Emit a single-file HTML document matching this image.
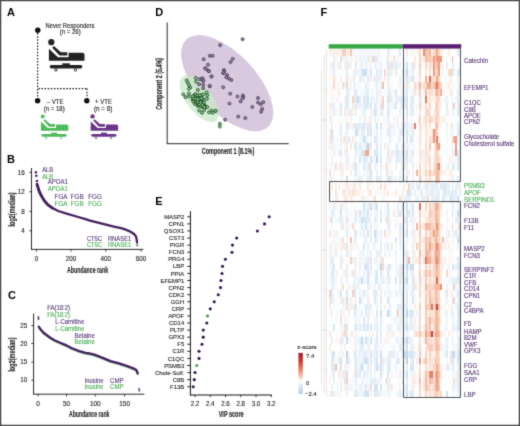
<!DOCTYPE html>
<html><head><meta charset="utf-8"><style>
html,body{margin:0;padding:0;background:#fff;}
#root{position:relative;width:520px;height:426px;overflow:hidden;background:#fff;font-family:"Liberation Sans", sans-serif;filter:url(#soft);}
#hm{position:absolute;left:329.0px;top:48.6px;width:132.0px;height:348.7px;filter:blur(0.35px);}
#hm div{position:absolute;top:0;height:100%;}
svg{position:absolute;left:0;top:0;}
text{font-family:"Liberation Sans", sans-serif;}
</style></head><body><svg width="0" height="0" style="position:absolute"><filter id="soft" x="0" y="0" width="100%" height="100%" color-interpolation-filters="sRGB"><feConvolveMatrix order="3" kernelMatrix="1 4 1 4 24 4 1 4 1" edgeMode="duplicate"/></filter></svg><div id="root">
<div id="hm">
<div style="left:0.00px;width:1.93px;background:linear-gradient(#fcf0ec 0.0px 6.7px,#fffcfc 6.7px 13.4px,#fff8f4 13.4px 26.8px,#fff8f0 26.8px 33.5px,#fffcfc 33.5px 40.2px,#fff8f0 40.2px 46.9px,#fffcf8 46.9px 53.6px,#fcece0 53.6px 60.4px,#fff4f0 60.4px 67.1px,#fcece4 67.1px 73.8px,#ffffff 73.8px 80.5px,#fcece4 80.5px 87.2px,#fce4d8 87.2px 93.9px,#fcf0e8 93.9px 100.6px,#ffffff 100.6px 114.0px,#f4f8fc 114.0px 120.7px,#f8dcd0 120.7px 127.4px,#fcf0e8 127.4px 134.1px,#fff4f0 134.1px 140.8px,#f8e0d0 140.8px 147.5px,#f8fcff 147.5px 154.2px,#fff4f0 154.2px 160.9px,#fffcfc 160.9px 167.6px,#fcece4 167.6px 174.3px,#ffffff 174.3px 181.1px,#fce4d8 181.1px 187.8px,#fffcfc 187.8px 194.5px,#fcf0e8 194.5px 207.9px,#fcf4f0 207.9px 214.6px,#fff8f4 214.6px 221.3px,#f8fcff 221.3px 234.7px,#fffffc 234.7px 241.4px,#f8d0c0 241.4px 248.1px,#fce4d8 248.1px 254.8px,#fce8dc 254.8px 261.5px,#fff8f8 261.5px 268.2px,#fffffc 268.2px 281.6px,#fce8e0 281.6px 288.3px,#fffcfc 288.3px 295.1px,#fcece0 295.1px 301.8px,#fffcfc 301.8px 308.5px,#ffffff 308.5px 321.9px,#fffcfc 321.9px 328.6px,#fff4f0 328.6px 335.3px,#ffffff 335.3px 342.0px,#fcf0e8 342.0px 348.7px)"></div>
<div style="left:1.88px;width:1.93px;background:linear-gradient(#fcf0ec 0.0px 6.7px,#ffffff 6.7px 13.4px,#ecf0f8 13.4px 20.1px,#f4f8fc 20.1px 26.8px,#ffffff 26.8px 33.5px,#f8f8fc 33.5px 40.2px,#f4f8fc 40.2px 46.9px,#f0f8fc 46.9px 53.6px,#e4f0f8 53.6px 60.4px,#f4f8fc 60.4px 67.1px,#f0f8fc 67.1px 73.8px,#ecf0f8 73.8px 80.5px,#cce0f0 80.5px 87.2px,#dce8f4 87.2px 93.9px,#ecf4f8 93.9px 100.6px,#f8f8fc 100.6px 107.3px,#ecf4f8 107.3px 114.0px,#f4f8fc 114.0px 120.7px,#f8fcff 120.7px 127.4px,#f0f4fc 127.4px 134.1px,#fcece4 134.1px 140.8px,#fcffff 140.8px 147.5px,#fffcfc 147.5px 154.2px,#f4f8fc 154.2px 160.9px,#e4f0f8 160.9px 167.6px,#d8e8f4 167.6px 174.3px,#f4f8fc 174.3px 181.1px,#f8fcff 181.1px 194.5px,#f4f8fc 194.5px 201.2px,#f0f8fc 201.2px 207.9px,#dce8f4 207.9px 214.6px,#e8f0f8 214.6px 221.3px,#dce8f4 221.3px 228.0px,#e8f0f8 228.0px 241.4px,#dce8f4 241.4px 248.1px,#e0ecf8 248.1px 254.8px,#fcffff 254.8px 261.5px,#ecf4f8 261.5px 268.2px,#f8fcff 268.2px 281.6px,#fffcfc 281.6px 288.3px,#e4f0f8 288.3px 295.1px,#ffffff 295.1px 301.8px,#e0ecf8 301.8px 308.5px,#dce8f4 308.5px 321.9px,#f0f4f8 321.9px 328.6px,#fcffff 328.6px 335.3px,#ecf4f8 335.3px 342.0px,#e4ecf8 342.0px 348.7px)"></div>
<div style="left:3.77px;width:1.93px;background:linear-gradient(#fcf0ec 0.0px 6.7px,#ecf4f8 6.7px 13.4px,#e0ecf8 13.4px 20.1px,#e8f0f8 20.1px 26.8px,#fce0d4 26.8px 33.5px,#f8dccc 33.5px 40.2px,#fff8f4 40.2px 46.9px,#fffcf8 46.9px 53.6px,#e0ecf8 53.6px 60.4px,#e8f0f8 60.4px 67.1px,#fcffff 67.1px 87.2px,#f4f8fc 87.2px 93.9px,#f0f8fc 93.9px 100.6px,#ecf4f8 100.6px 107.3px,#ffffff 107.3px 114.0px,#f0f8fc 114.0px 120.7px,#f4f8fc 120.7px 127.4px,#fcffff 127.4px 134.1px,#fffcfc 134.1px 140.8px,#fcfcff 140.8px 147.5px,#fffcf8 147.5px 154.2px,#e4ecf8 154.2px 160.9px,#e4f0f8 160.9px 167.6px,#fcffff 167.6px 174.3px,#ffffff 174.3px 181.1px,#f0f8fc 181.1px 187.8px,#fcf0e8 187.8px 194.5px,#f8fcff 194.5px 201.2px,#f0f8fc 201.2px 214.6px,#dce8f4 214.6px 221.3px,#ecf4f8 221.3px 228.0px,#e4f0f8 228.0px 234.7px,#f0f8fc 234.7px 241.4px,#f8fcff 241.4px 248.1px,#f0f8fc 248.1px 254.8px,#f8fcff 254.8px 261.5px,#fcffff 261.5px 274.9px,#d8e8f4 274.9px 281.6px,#fcffff 281.6px 288.3px,#ffffff 288.3px 295.1px,#fffffc 295.1px 301.8px,#d4e4f0 301.8px 308.5px,#fcece4 308.5px 315.2px,#e0ecf8 315.2px 328.6px,#e4f0f8 328.6px 335.3px,#fcffff 335.3px 342.0px,#e4f0f8 342.0px 348.7px)"></div>
<div style="left:5.65px;width:1.93px;background:linear-gradient(#fcf0ec 0.0px 6.7px,#fcf4f0 6.7px 13.4px,#fcffff 13.4px 20.1px,#fffffc 20.1px 26.8px,#fcf4ec 26.8px 33.5px,#fff8f4 33.5px 40.2px,#fffcfc 40.2px 46.9px,#fff8f0 46.9px 53.6px,#ffffff 53.6px 60.4px,#fff4f0 60.4px 67.1px,#ffffff 67.1px 73.8px,#fffcf8 73.8px 80.5px,#fffcfc 80.5px 87.2px,#fffffc 87.2px 93.9px,#f4f8fc 93.9px 100.6px,#f8fcff 100.6px 107.3px,#fffcfc 107.3px 114.0px,#f8e0d0 114.0px 120.7px,#fffcfc 120.7px 127.4px,#fffcf8 127.4px 134.1px,#fcece0 134.1px 140.8px,#fce4d8 140.8px 147.5px,#e4f0f8 147.5px 154.2px,#f4f8fc 154.2px 160.9px,#ffffff 160.9px 167.6px,#f0f8fc 167.6px 174.3px,#fcffff 174.3px 181.1px,#fcf4ec 181.1px 187.8px,#fcffff 187.8px 194.5px,#fcf0e8 194.5px 201.2px,#fcece4 201.2px 207.9px,#fcffff 207.9px 214.6px,#ffffff 214.6px 221.3px,#f4f8fc 221.3px 228.0px,#fff8f4 228.0px 234.7px,#f8f8fc 234.7px 241.4px,#ffffff 241.4px 261.5px,#fcfcff 261.5px 268.2px,#f4f8fc 268.2px 274.9px,#ffffff 274.9px 288.3px,#fff4f0 288.3px 295.1px,#fffffc 295.1px 301.8px,#ffffff 301.8px 308.5px,#fff8f4 308.5px 315.2px,#f8c8b0 315.2px 321.9px,#fcffff 321.9px 328.6px,#ffffff 328.6px 335.3px,#fcffff 335.3px 342.0px,#fff8f8 342.0px 348.7px)"></div>
<div style="left:7.54px;width:1.93px;background:linear-gradient(#fcf0ec 0.0px 6.7px,#fcfcff 6.7px 13.4px,#fce8d8 13.4px 20.1px,#f0f8fc 20.1px 26.8px,#ffffff 26.8px 33.5px,#fff8f4 33.5px 40.2px,#ffffff 40.2px 46.9px,#f0f8fc 46.9px 53.6px,#ffffff 53.6px 67.1px,#fffffc 67.1px 73.8px,#fcffff 73.8px 80.5px,#ffffff 80.5px 87.2px,#e8f0f8 87.2px 93.9px,#fffffc 93.9px 100.6px,#f4f8fc 100.6px 107.3px,#fcffff 107.3px 114.0px,#ffffff 114.0px 120.7px,#fffffc 120.7px 127.4px,#fffcfc 127.4px 134.1px,#ffffff 134.1px 140.8px,#fff8f8 140.8px 147.5px,#fce8e0 147.5px 154.2px,#f0f8fc 154.2px 160.9px,#fcffff 160.9px 181.1px,#ecf4f8 181.1px 187.8px,#f8fcff 187.8px 194.5px,#f4f8fc 194.5px 201.2px,#fff8f8 201.2px 207.9px,#fffffc 207.9px 214.6px,#fcffff 214.6px 221.3px,#e8f0f8 221.3px 228.0px,#ffffff 228.0px 234.7px,#fffcf8 234.7px 241.4px,#ecf4f8 241.4px 248.1px,#fff8f8 248.1px 254.8px,#f8f8fc 254.8px 261.5px,#f0f8fc 261.5px 268.2px,#ffffff 268.2px 281.6px,#fff8f4 281.6px 288.3px,#fff4f0 288.3px 295.1px,#ffffff 295.1px 301.8px,#f8f8fc 301.8px 308.5px,#f0f8fc 308.5px 321.9px,#ffffff 321.9px 328.6px,#f0f8fc 328.6px 335.3px,#e8f0f8 335.3px 342.0px,#ecf4f8 342.0px 348.7px)"></div>
<div style="left:9.42px;width:1.93px;background:linear-gradient(#fcf0ec 0.0px 6.7px,#ffffff 6.7px 13.4px,#ecf4f8 13.4px 20.1px,#ffffff 20.1px 26.8px,#fcffff 26.8px 33.5px,#f4f8fc 33.5px 40.2px,#fcece4 40.2px 46.9px,#f8f8fc 46.9px 53.6px,#f8fcff 53.6px 60.4px,#f4f8fc 60.4px 67.1px,#fcfcff 67.1px 73.8px,#fff4f0 73.8px 80.5px,#f4f8fc 80.5px 87.2px,#fcffff 87.2px 93.9px,#f8f8fc 93.9px 100.6px,#f0f4f8 100.6px 107.3px,#fffcfc 107.3px 114.0px,#fcf0e8 114.0px 120.7px,#fff8f8 120.7px 127.4px,#ffffff 127.4px 134.1px,#fcece4 134.1px 140.8px,#fcffff 140.8px 154.2px,#fff8f4 154.2px 160.9px,#f8fcff 160.9px 167.6px,#ecf4f8 167.6px 174.3px,#ffffff 174.3px 181.1px,#f8fcff 181.1px 187.8px,#fff8f8 187.8px 194.5px,#fff8f0 194.5px 201.2px,#fcffff 201.2px 207.9px,#fcfcff 207.9px 214.6px,#fffffc 214.6px 221.3px,#ffffff 221.3px 234.7px,#fffcfc 234.7px 241.4px,#f4f8fc 241.4px 248.1px,#fcffff 248.1px 254.8px,#ffffff 254.8px 261.5px,#fcffff 261.5px 268.2px,#fffcf8 268.2px 274.9px,#fcffff 274.9px 288.3px,#fffcf8 288.3px 295.1px,#ffffff 295.1px 301.8px,#f0f8fc 301.8px 308.5px,#e4f0f8 308.5px 315.2px,#fffffc 315.2px 321.9px,#fce8dc 321.9px 328.6px,#ffffff 328.6px 342.0px,#f8fcff 342.0px 348.7px)"></div>
<div style="left:11.31px;width:1.93px;background:linear-gradient(#fcf0ec 0.0px 6.7px,#d8e4f0 6.7px 13.4px,#e8f0f8 13.4px 20.1px,#f8fcfc 20.1px 26.8px,#fcece4 26.8px 33.5px,#fcffff 33.5px 46.9px,#ffffff 46.9px 53.6px,#dce8f4 53.6px 60.4px,#e0ecf4 60.4px 67.1px,#fcffff 67.1px 73.8px,#e8f0f8 73.8px 80.5px,#e0ecf8 80.5px 87.2px,#e8f0f8 87.2px 93.9px,#f0f8fc 93.9px 100.6px,#dce8f4 100.6px 107.3px,#f0f8fc 107.3px 114.0px,#e4f0f8 114.0px 120.7px,#f0f8fc 120.7px 134.1px,#ffffff 134.1px 154.2px,#e0ecf8 154.2px 160.9px,#d4e4f0 160.9px 167.6px,#e4f0f8 167.6px 174.3px,#ecf4f8 174.3px 181.1px,#fcffff 181.1px 187.8px,#f4f8fc 187.8px 194.5px,#f0f4fc 194.5px 201.2px,#f4f8fc 201.2px 207.9px,#e4f0f8 207.9px 214.6px,#e4ecf8 214.6px 221.3px,#ffffff 221.3px 228.0px,#f0f4fc 228.0px 234.7px,#f8fcfc 234.7px 241.4px,#d8e8f4 241.4px 248.1px,#e8f0f8 248.1px 254.8px,#ffffff 254.8px 261.5px,#e4f0f8 261.5px 268.2px,#d8e8f4 268.2px 274.9px,#f0f8fc 274.9px 281.6px,#fff8f8 281.6px 288.3px,#dce8f4 288.3px 295.1px,#f0f8fc 295.1px 301.8px,#f4f8fc 301.8px 308.5px,#d0e4f0 308.5px 315.2px,#d4e4f0 315.2px 321.9px,#f0f8fc 321.9px 328.6px,#ecf4f8 328.6px 335.3px,#e4f0f8 335.3px 342.0px,#f4f8fc 342.0px 348.7px)"></div>
<div style="left:13.19px;width:1.93px;background:linear-gradient(#f8d0c0 0.0px 6.7px,#fcf0ec 6.7px 13.4px,#ffffff 13.4px 20.1px,#f8fcff 20.1px 26.8px,#ffffff 26.8px 33.5px,#f8dcd0 33.5px 40.2px,#fffffc 40.2px 46.9px,#ffffff 46.9px 60.4px,#fffcfc 60.4px 67.1px,#fff8f0 67.1px 73.8px,#fcffff 73.8px 80.5px,#ffffff 80.5px 87.2px,#fcf0ec 87.2px 93.9px,#fffcfc 93.9px 100.6px,#ffffff 100.6px 107.3px,#fffcf8 107.3px 114.0px,#fcf0e8 114.0px 120.7px,#fcece0 120.7px 127.4px,#fff8f4 127.4px 140.8px,#fce8dc 140.8px 147.5px,#fffffc 147.5px 154.2px,#fcf0e8 154.2px 160.9px,#fcffff 160.9px 167.6px,#fcf0e8 167.6px 174.3px,#fce8dc 174.3px 181.1px,#fcffff 181.1px 187.8px,#fce0d8 187.8px 194.5px,#fcece4 194.5px 201.2px,#fffcfc 201.2px 207.9px,#fcf0ec 207.9px 214.6px,#fffcf8 214.6px 221.3px,#f4f8fc 221.3px 228.0px,#f8fcff 228.0px 234.7px,#f8e0d0 234.7px 241.4px,#ffffff 241.4px 248.1px,#fce8e0 248.1px 254.8px,#f0f8fc 254.8px 261.5px,#fff4f0 261.5px 268.2px,#ffffff 268.2px 274.9px,#f4f8fc 274.9px 281.6px,#fce8e0 281.6px 288.3px,#ecf0f8 288.3px 295.1px,#fffcfc 295.1px 301.8px,#fcf0e8 301.8px 308.5px,#fffcf8 308.5px 315.2px,#ffffff 315.2px 321.9px,#fce8e0 321.9px 328.6px,#fffcf8 328.6px 335.3px,#fff8f8 335.3px 342.0px,#ffffff 342.0px 348.7px)"></div>
<div style="left:15.08px;width:1.93px;background:linear-gradient(#f8d0c0 0.0px 6.7px,#fcf0e8 6.7px 20.1px,#fffcf8 20.1px 26.8px,#fff8f8 26.8px 33.5px,#fcf0e8 33.5px 40.2px,#ffffff 40.2px 46.9px,#fcf0e8 46.9px 53.6px,#fcf0ec 53.6px 60.4px,#fce8dc 60.4px 67.1px,#fffcf8 67.1px 73.8px,#ffffff 73.8px 80.5px,#fff8f4 80.5px 87.2px,#fce4d8 87.2px 93.9px,#fff4f0 93.9px 100.6px,#fcece0 100.6px 107.3px,#fff8f8 107.3px 114.0px,#fffcf8 114.0px 120.7px,#ffffff 120.7px 127.4px,#fff8f8 127.4px 134.1px,#fff4f0 134.1px 140.8px,#fce8e0 140.8px 154.2px,#fff4f0 154.2px 160.9px,#f8fcff 160.9px 167.6px,#fff8f8 167.6px 181.1px,#fcffff 181.1px 187.8px,#ffffff 187.8px 194.5px,#fcece4 194.5px 201.2px,#fffcfc 201.2px 207.9px,#fffffc 207.9px 214.6px,#fffcf8 214.6px 221.3px,#fcf0e8 221.3px 228.0px,#fcffff 228.0px 241.4px,#fffffc 241.4px 248.1px,#fff4f0 248.1px 261.5px,#fff8f0 261.5px 268.2px,#fcf0ec 268.2px 274.9px,#f8e0d0 274.9px 281.6px,#f8d8c8 281.6px 288.3px,#ffffff 288.3px 295.1px,#fcf0e8 295.1px 301.8px,#fff8f4 301.8px 308.5px,#ffffff 308.5px 315.2px,#fcf0e8 315.2px 321.9px,#fce8e0 321.9px 328.6px,#f8e0d0 328.6px 335.3px,#fcf0e8 335.3px 342.0px,#fffffc 342.0px 348.7px)"></div>
<div style="left:16.96px;width:1.93px;background:linear-gradient(#fcf0ec 0.0px 6.7px,#ecf4f8 6.7px 13.4px,#e0ecf8 13.4px 26.8px,#e0ecf4 26.8px 33.5px,#d4e4f0 33.5px 40.2px,#e0ecf8 40.2px 46.9px,#d8e8f4 46.9px 60.4px,#f0f8fc 60.4px 67.1px,#ecf4f8 67.1px 73.8px,#dce8f4 73.8px 80.5px,#e8f0f8 80.5px 87.2px,#ecf4f8 87.2px 93.9px,#e4f0f8 93.9px 100.6px,#e8f0f8 100.6px 114.0px,#f0f4f8 114.0px 120.7px,#fcffff 120.7px 127.4px,#cce0f0 127.4px 134.1px,#fce8e0 134.1px 140.8px,#f4f8fc 140.8px 147.5px,#fce8e0 147.5px 154.2px,#f0f8fc 154.2px 160.9px,#ecf4f8 160.9px 167.6px,#d8e8f4 167.6px 174.3px,#f0f4f8 174.3px 181.1px,#e0ecf8 181.1px 187.8px,#f0f8fc 187.8px 194.5px,#dce8f4 194.5px 201.2px,#e0ecf8 201.2px 207.9px,#ffffff 207.9px 214.6px,#e8f0f8 214.6px 221.3px,#e4f0f8 221.3px 228.0px,#e8f0f8 228.0px 234.7px,#fcfcff 234.7px 241.4px,#dce8f4 241.4px 248.1px,#c8e0f0 248.1px 254.8px,#d8e8f4 254.8px 261.5px,#ffffff 261.5px 268.2px,#f0f8fc 268.2px 274.9px,#d8e8f4 274.9px 281.6px,#e4f0f8 281.6px 288.3px,#c8dcf0 288.3px 295.1px,#fcffff 295.1px 301.8px,#bcd4e8 301.8px 308.5px,#d0e0f0 308.5px 315.2px,#f0f8fc 315.2px 321.9px,#d0e0f0 321.9px 328.6px,#cce0f0 328.6px 335.3px,#e8f0f8 335.3px 342.0px,#ecf4f8 342.0px 348.7px)"></div>
<div style="left:18.85px;width:1.93px;background:linear-gradient(#fcf0ec 0.0px 6.7px,#f8fcfc 6.7px 13.4px,#e8f0f8 13.4px 20.1px,#ffffff 20.1px 26.8px,#f0f8fc 26.8px 33.5px,#f4f8fc 33.5px 40.2px,#e8f0f8 40.2px 46.9px,#ecf4f8 46.9px 53.6px,#f4f8fc 53.6px 60.4px,#e4ecf8 60.4px 67.1px,#ffffff 67.1px 73.8px,#e8f0f8 73.8px 80.5px,#fffffc 80.5px 87.2px,#e0ecf8 87.2px 93.9px,#ffffff 93.9px 100.6px,#f8fcff 100.6px 107.3px,#ecf4f8 107.3px 114.0px,#f4f8fc 114.0px 120.7px,#ffffff 120.7px 134.1px,#fcf0ec 134.1px 140.8px,#fce4d8 140.8px 147.5px,#ffffff 147.5px 154.2px,#fcffff 154.2px 160.9px,#f8fcff 160.9px 167.6px,#f4f8fc 167.6px 174.3px,#f0f8fc 174.3px 181.1px,#f8fcff 181.1px 194.5px,#fffcfc 194.5px 201.2px,#f0f8fc 201.2px 207.9px,#fffffc 207.9px 214.6px,#f8fcff 214.6px 221.3px,#fffcfc 221.3px 228.0px,#ffffff 228.0px 234.7px,#ecf4f8 234.7px 241.4px,#ffffff 241.4px 248.1px,#f8f8fc 248.1px 254.8px,#fcf4ec 254.8px 261.5px,#e8f0f8 261.5px 268.2px,#fcffff 268.2px 281.6px,#ffffff 281.6px 288.3px,#f8fcfc 288.3px 295.1px,#ffffff 295.1px 301.8px,#f4f8fc 301.8px 308.5px,#e0ecf8 308.5px 315.2px,#f0f8fc 315.2px 321.9px,#ffffff 321.9px 328.6px,#fff8f4 328.6px 335.3px,#f0f4fc 335.3px 342.0px,#ffffff 342.0px 348.7px)"></div>
<div style="left:20.73px;width:1.93px;background:linear-gradient(#f8c4b0 0.0px 6.7px,#fcf4ec 6.7px 13.4px,#fcf0e8 13.4px 20.1px,#ffffff 20.1px 26.8px,#fff4f0 26.8px 33.5px,#fcf0e8 33.5px 40.2px,#fffcfc 40.2px 46.9px,#ffffff 46.9px 53.6px,#fcffff 53.6px 60.4px,#fce8e0 60.4px 67.1px,#fcf0ec 67.1px 73.8px,#fcf4f0 73.8px 80.5px,#ffffff 80.5px 87.2px,#fff8f4 87.2px 93.9px,#fce8e0 93.9px 100.6px,#fffcfc 100.6px 107.3px,#fffffc 107.3px 114.0px,#fff8f8 114.0px 120.7px,#fcf0e8 120.7px 127.4px,#fcffff 127.4px 134.1px,#fff8f4 134.1px 140.8px,#fcf0e8 140.8px 147.5px,#fcece4 147.5px 154.2px,#fffcfc 154.2px 160.9px,#fff8f8 160.9px 181.1px,#ffffff 181.1px 187.8px,#f8c4b0 187.8px 194.5px,#fcece0 194.5px 201.2px,#fcf4f0 201.2px 207.9px,#f8d0c0 207.9px 214.6px,#fffcfc 214.6px 221.3px,#fff8f4 221.3px 228.0px,#ffffff 228.0px 234.7px,#fff8f8 234.7px 241.4px,#ffffff 241.4px 248.1px,#fcf0e8 248.1px 254.8px,#fcece0 254.8px 261.5px,#ffffff 261.5px 268.2px,#fffcfc 268.2px 274.9px,#fffffc 274.9px 281.6px,#fcf0e8 281.6px 288.3px,#fff8f0 288.3px 295.1px,#fff8f8 295.1px 301.8px,#fcffff 301.8px 315.2px,#fffcfc 315.2px 321.9px,#ffffff 321.9px 328.6px,#fff8f8 328.6px 335.3px,#f0f4f8 335.3px 342.0px,#ffffff 342.0px 348.7px)"></div>
<div style="left:22.62px;width:1.93px;background:linear-gradient(#f4f8fc 0.0px 6.7px,#fff8f0 6.7px 13.4px,#fffffc 13.4px 20.1px,#fff4f0 20.1px 26.8px,#fcf0e8 26.8px 33.5px,#fffcfc 33.5px 46.9px,#f8d0c0 46.9px 53.6px,#fce8d8 53.6px 60.4px,#fcf0e8 60.4px 67.1px,#ffffff 67.1px 73.8px,#fcf0e8 73.8px 80.5px,#f8fcfc 80.5px 87.2px,#fce8dc 87.2px 93.9px,#ffffff 93.9px 100.6px,#fcffff 100.6px 107.3px,#ffffff 107.3px 114.0px,#fcece0 114.0px 120.7px,#ffffff 120.7px 127.4px,#fffffc 127.4px 134.1px,#fcf0e8 134.1px 140.8px,#fce0d4 140.8px 147.5px,#fff4f0 147.5px 154.2px,#ffffff 154.2px 160.9px,#fffcf8 160.9px 167.6px,#f8fcff 167.6px 174.3px,#f8e0d0 174.3px 181.1px,#fffcf8 181.1px 187.8px,#ffffff 187.8px 194.5px,#fcf4ec 194.5px 201.2px,#fffffc 201.2px 207.9px,#fcf0e8 207.9px 214.6px,#fcffff 214.6px 221.3px,#fce4d8 221.3px 228.0px,#ffffff 228.0px 234.7px,#fcf0e8 234.7px 241.4px,#f8d0c0 241.4px 248.1px,#fff8f8 248.1px 254.8px,#fcf0ec 254.8px 261.5px,#fffcf8 261.5px 268.2px,#ffffff 268.2px 274.9px,#fffcf8 274.9px 281.6px,#fcf0e8 281.6px 288.3px,#fffcf8 288.3px 295.1px,#fff8f4 295.1px 301.8px,#ffffff 301.8px 315.2px,#fffffc 315.2px 321.9px,#fff8f0 321.9px 328.6px,#fff8f4 328.6px 335.3px,#f8f8fc 335.3px 342.0px,#fffcfc 342.0px 348.7px)"></div>
<div style="left:24.50px;width:1.93px;background:linear-gradient(#f4f8fc 0.0px 6.7px,#ffffff 6.7px 13.4px,#fcfcff 13.4px 20.1px,#e0ecf8 20.1px 26.8px,#e8f0f8 26.8px 33.5px,#d8e8f4 33.5px 40.2px,#e0ecf8 40.2px 46.9px,#e8f0f8 46.9px 53.6px,#f0f4f8 53.6px 60.4px,#f0f8fc 60.4px 67.1px,#ffffff 67.1px 73.8px,#dce8f4 73.8px 80.5px,#fcffff 80.5px 87.2px,#f8fcfc 87.2px 93.9px,#e0ecf8 93.9px 100.6px,#fcfcff 100.6px 107.3px,#e0ecf8 107.3px 120.7px,#e8f0f8 120.7px 127.4px,#f0f8fc 127.4px 134.1px,#fce0d8 134.1px 140.8px,#fcece0 140.8px 147.5px,#fffcfc 147.5px 154.2px,#f0f4f8 154.2px 160.9px,#e8f0f8 160.9px 167.6px,#ecf0f8 167.6px 174.3px,#f0f4fc 174.3px 181.1px,#e0ecf4 181.1px 194.5px,#fcfcff 194.5px 201.2px,#fcffff 201.2px 207.9px,#e8f0f8 207.9px 214.6px,#fcf0e8 214.6px 221.3px,#e8f0f8 221.3px 228.0px,#e0ecf4 228.0px 234.7px,#d8e8f4 234.7px 241.4px,#d4e4f0 241.4px 248.1px,#f4f8fc 248.1px 254.8px,#e0ecf4 254.8px 261.5px,#d0e0f0 261.5px 268.2px,#f0f8fc 268.2px 274.9px,#ecf4f8 274.9px 281.6px,#fcffff 281.6px 288.3px,#e0ecf8 288.3px 295.1px,#fcffff 295.1px 301.8px,#d0e0f0 301.8px 308.5px,#e8f0f8 308.5px 315.2px,#f0f4f8 315.2px 321.9px,#e8f0f8 321.9px 328.6px,#f0f4fc 328.6px 335.3px,#fcffff 335.3px 342.0px,#e0ecf8 342.0px 348.7px)"></div>
<div style="left:26.38px;width:1.93px;background:linear-gradient(#f4f8fc 0.0px 6.7px,#ecf4f8 6.7px 13.4px,#e0ecf8 13.4px 20.1px,#ecf4f8 20.1px 26.8px,#f8fcff 26.8px 33.5px,#fcfcff 33.5px 40.2px,#e0ecf8 40.2px 46.9px,#dce8f4 46.9px 53.6px,#e0ecf8 53.6px 60.4px,#e8f0f8 60.4px 67.1px,#fcffff 67.1px 73.8px,#e0e8f4 73.8px 80.5px,#d0e0f0 80.5px 87.2px,#ecf4f8 87.2px 93.9px,#d8e8f4 93.9px 100.6px,#e0ecf4 100.6px 107.3px,#f4f8fc 107.3px 114.0px,#d8e8f4 114.0px 120.7px,#e0e8f4 120.7px 127.4px,#f4f8fc 127.4px 134.1px,#ecf4f8 134.1px 140.8px,#fcece4 140.8px 147.5px,#fff8f8 147.5px 154.2px,#fcffff 154.2px 160.9px,#fce8e0 160.9px 167.6px,#e4f0f8 167.6px 174.3px,#ffffff 174.3px 181.1px,#dce8f4 181.1px 187.8px,#e8f0f8 187.8px 194.5px,#f0f8fc 194.5px 201.2px,#ffffff 201.2px 207.9px,#e8f0f8 207.9px 214.6px,#f0f4fc 214.6px 228.0px,#f0f8fc 228.0px 241.4px,#ecf4f8 241.4px 248.1px,#f0f4f8 248.1px 254.8px,#d8e8f4 254.8px 261.5px,#ecf4f8 261.5px 274.9px,#d8e8f4 274.9px 281.6px,#f0f8fc 281.6px 295.1px,#e8f0f8 295.1px 308.5px,#e0ecf4 308.5px 315.2px,#e0e8f4 315.2px 321.9px,#dce8f4 321.9px 328.6px,#e8f0f8 328.6px 342.0px,#e0e8f4 342.0px 348.7px)"></div>
<div style="left:28.27px;width:1.93px;background:linear-gradient(#f4f8fc 0.0px 6.7px,#f8f8fc 6.7px 13.4px,#ffffff 13.4px 20.1px,#ecf4f8 20.1px 26.8px,#ffffff 26.8px 33.5px,#f8f8fc 33.5px 46.9px,#d0e0f0 46.9px 53.6px,#e8f0f8 53.6px 60.4px,#fffffc 60.4px 67.1px,#ffffff 67.1px 73.8px,#e0ecf4 73.8px 80.5px,#d8e8f4 80.5px 87.2px,#ffffff 87.2px 93.9px,#f0f8fc 93.9px 100.6px,#f4f8fc 100.6px 107.3px,#fcffff 107.3px 114.0px,#f0f8fc 114.0px 120.7px,#f8f8fc 120.7px 127.4px,#ecf0f8 127.4px 134.1px,#fffcfc 134.1px 140.8px,#fcf0e8 140.8px 147.5px,#ffffff 147.5px 154.2px,#f8fcff 154.2px 160.9px,#f0f8fc 160.9px 167.6px,#f8fcff 167.6px 174.3px,#fcffff 174.3px 181.1px,#f8fcfc 181.1px 187.8px,#ffffff 187.8px 194.5px,#f0f8fc 194.5px 201.2px,#fcffff 201.2px 207.9px,#fffffc 207.9px 214.6px,#fffcf8 214.6px 221.3px,#fff8f4 221.3px 228.0px,#ecf4f8 228.0px 234.7px,#e8f0f8 234.7px 241.4px,#fcffff 241.4px 248.1px,#ffffff 248.1px 254.8px,#fcffff 254.8px 261.5px,#f8f8fc 261.5px 268.2px,#f4f8fc 268.2px 274.9px,#f0f8fc 274.9px 281.6px,#fff8f8 281.6px 288.3px,#f0f4fc 288.3px 295.1px,#f8fcfc 295.1px 301.8px,#f4f8fc 301.8px 308.5px,#ecf4f8 308.5px 315.2px,#f0f8fc 315.2px 321.9px,#e8f0f8 321.9px 328.6px,#f8fcff 328.6px 342.0px,#e8f0f8 342.0px 348.7px)"></div>
<div style="left:30.15px;width:1.93px;background:linear-gradient(#f4f8fc 0.0px 6.7px,#f0f4f8 6.7px 13.4px,#f0f8fc 13.4px 20.1px,#f4f8fc 20.1px 26.8px,#e0ecf4 26.8px 33.5px,#f4f8fc 33.5px 40.2px,#ffffff 40.2px 46.9px,#e0ecf8 46.9px 53.6px,#ecf4f8 53.6px 60.4px,#ffffff 60.4px 67.1px,#ecf4f8 67.1px 73.8px,#e0ecf8 73.8px 80.5px,#f8fcfc 80.5px 87.2px,#f0f8fc 87.2px 93.9px,#e0ecf8 93.9px 100.6px,#ecf4f8 100.6px 107.3px,#d8e8f0 107.3px 114.0px,#f8fcfc 114.0px 120.7px,#f0f8fc 120.7px 127.4px,#e8f0f8 127.4px 134.1px,#fce8e0 134.1px 140.8px,#fff8f4 140.8px 147.5px,#f8f8fc 147.5px 154.2px,#ffffff 154.2px 160.9px,#dce8f4 160.9px 167.6px,#e8f0f8 167.6px 174.3px,#f8fcfc 174.3px 181.1px,#f0f8fc 181.1px 187.8px,#ffffff 187.8px 201.2px,#f4f8fc 201.2px 207.9px,#e8f0f8 207.9px 214.6px,#e4f0f8 214.6px 221.3px,#f4f8fc 221.3px 228.0px,#e8f0f8 228.0px 234.7px,#f8fcff 234.7px 241.4px,#ecf4f8 241.4px 248.1px,#d4e4f0 248.1px 254.8px,#f8f8fc 254.8px 261.5px,#f8fcff 261.5px 268.2px,#f4f8fc 268.2px 274.9px,#e0ecf8 274.9px 281.6px,#fcfcff 281.6px 288.3px,#e8f0f8 288.3px 295.1px,#ecf4f8 295.1px 301.8px,#e4f0f8 301.8px 308.5px,#f0f8fc 308.5px 315.2px,#e4ecf8 315.2px 321.9px,#e0ecf8 321.9px 328.6px,#ffffff 328.6px 335.3px,#e8f0f8 335.3px 342.0px,#f0f4f8 342.0px 348.7px)"></div>
<div style="left:32.04px;width:1.93px;background:linear-gradient(#f4f8fc 0.0px 6.7px,#ecf4f8 6.7px 13.4px,#e4f0f8 13.4px 20.1px,#d8e8f4 20.1px 26.8px,#f0f4f8 26.8px 33.5px,#fffcfc 33.5px 40.2px,#f8fcff 40.2px 46.9px,#fffcfc 46.9px 53.6px,#f0f4fc 53.6px 60.4px,#f0f8fc 60.4px 67.1px,#ffffff 67.1px 73.8px,#e8f0f8 73.8px 87.2px,#f0f4f8 87.2px 93.9px,#ecf4f8 93.9px 100.6px,#dce8f4 100.6px 107.3px,#f4f8fc 107.3px 114.0px,#fcffff 114.0px 120.7px,#ffffff 120.7px 127.4px,#e8f0f8 127.4px 134.1px,#fcffff 134.1px 140.8px,#fff8f4 140.8px 147.5px,#fcf0e8 147.5px 154.2px,#fcffff 154.2px 160.9px,#ecf4f8 160.9px 167.6px,#d0e4f0 167.6px 174.3px,#e0ecf8 174.3px 181.1px,#f4f8fc 181.1px 187.8px,#ffffff 187.8px 194.5px,#f8fcff 194.5px 201.2px,#ecf4f8 201.2px 207.9px,#f4f8fc 207.9px 214.6px,#f8fcff 214.6px 221.3px,#fcfcff 221.3px 228.0px,#d0e0f0 228.0px 234.7px,#fcffff 234.7px 241.4px,#f8fcff 241.4px 248.1px,#f0f4f8 248.1px 254.8px,#fcffff 254.8px 261.5px,#e4f0f8 261.5px 268.2px,#ffffff 268.2px 274.9px,#f4f8fc 274.9px 281.6px,#f8fcff 281.6px 288.3px,#c0d8ec 288.3px 295.1px,#dce8f4 295.1px 301.8px,#f0f8fc 301.8px 308.5px,#f0f4f8 308.5px 315.2px,#cce0f0 315.2px 321.9px,#fcffff 321.9px 328.6px,#f0f4fc 328.6px 335.3px,#e8f0f8 335.3px 342.0px,#f8f8fc 342.0px 348.7px)"></div>
<div style="left:33.92px;width:1.93px;background:linear-gradient(#f4f8fc 0.0px 6.7px,#f0f4f8 6.7px 13.4px,#fcffff 13.4px 20.1px,#c8dcf0 20.1px 26.8px,#f0f4f8 26.8px 33.5px,#fcffff 33.5px 40.2px,#f4f8fc 40.2px 46.9px,#d8e8f4 46.9px 53.6px,#e8f0f8 53.6px 60.4px,#e4f0f8 60.4px 67.1px,#fcf0e8 67.1px 73.8px,#d8e8f4 73.8px 80.5px,#e4f0f8 80.5px 87.2px,#d0e0f0 87.2px 93.9px,#f8f8fc 93.9px 100.6px,#d0e4f0 100.6px 107.3px,#e0ecf8 107.3px 114.0px,#dce8f4 114.0px 120.7px,#f0f8fc 120.7px 127.4px,#ffffff 127.4px 140.8px,#fff8f8 140.8px 147.5px,#ecf4f8 147.5px 154.2px,#d4e4f0 154.2px 160.9px,#e4f0f8 160.9px 167.6px,#d8e8f4 167.6px 174.3px,#f0f8fc 174.3px 181.1px,#e4f0f8 181.1px 187.8px,#f8fcff 187.8px 194.5px,#d8e8f4 194.5px 201.2px,#f0f8fc 201.2px 214.6px,#f0f4f8 214.6px 221.3px,#f0f4fc 221.3px 228.0px,#ecf4f8 228.0px 234.7px,#fcfcff 234.7px 241.4px,#e0ecf8 241.4px 248.1px,#fcffff 248.1px 254.8px,#f4f8fc 254.8px 261.5px,#ffffff 261.5px 268.2px,#d8e8f4 268.2px 274.9px,#dce8f4 274.9px 281.6px,#ffffff 281.6px 288.3px,#f8fcff 288.3px 295.1px,#f0f4fc 295.1px 301.8px,#e0ecf8 301.8px 308.5px,#e0ecf4 308.5px 315.2px,#f0f8fc 315.2px 321.9px,#e0ecf8 321.9px 328.6px,#f4f8fc 328.6px 335.3px,#f8f8fc 335.3px 342.0px,#e0ecf8 342.0px 348.7px)"></div>
<div style="left:35.81px;width:1.93px;background:linear-gradient(#f4f8fc 0.0px 6.7px,#f0f8fc 6.7px 13.4px,#e8f0f8 13.4px 20.1px,#d0e4f0 20.1px 26.8px,#fcffff 26.8px 33.5px,#e8f0f8 33.5px 40.2px,#e4f0f8 40.2px 53.6px,#d8e8f4 53.6px 60.4px,#f0f8fc 60.4px 67.1px,#f0f4f8 67.1px 73.8px,#f0f4fc 73.8px 80.5px,#f8fcff 80.5px 87.2px,#e0ecf8 87.2px 100.6px,#f0ac90 100.6px 107.3px,#e0ecf8 107.3px 114.0px,#f0f4f8 114.0px 120.7px,#f4f8fc 120.7px 127.4px,#f8fcff 127.4px 134.1px,#f8fcfc 134.1px 140.8px,#ffffff 140.8px 147.5px,#fff8f4 147.5px 154.2px,#f0f8fc 154.2px 160.9px,#ecf4f8 160.9px 167.6px,#d8e8f4 167.6px 181.1px,#f8fcfc 181.1px 187.8px,#e0ecf4 187.8px 194.5px,#ffffff 194.5px 207.9px,#e8f0f8 207.9px 214.6px,#d0e0f0 214.6px 221.3px,#f0f8fc 221.3px 228.0px,#f4f8fc 228.0px 234.7px,#fcffff 234.7px 241.4px,#f0f8fc 241.4px 248.1px,#fcffff 248.1px 254.8px,#e0ecf8 254.8px 261.5px,#e0ecf4 261.5px 268.2px,#fffcfc 268.2px 274.9px,#e8f0f8 274.9px 281.6px,#f4f8fc 281.6px 288.3px,#d4e4f0 288.3px 295.1px,#ffffff 295.1px 301.8px,#e8f0f8 301.8px 308.5px,#c8dcec 308.5px 315.2px,#ffffff 315.2px 321.9px,#ecf4f8 321.9px 328.6px,#f8fcff 328.6px 335.3px,#dce8f4 335.3px 342.0px,#d4e4f0 342.0px 348.7px)"></div>
<div style="left:37.69px;width:1.93px;background:linear-gradient(#f4f8fc 0.0px 6.7px,#e8f0f8 6.7px 13.4px,#fffcf8 13.4px 20.1px,#f0f4fc 20.1px 26.8px,#e0ecf8 26.8px 33.5px,#f4f8fc 33.5px 40.2px,#e4f0f8 40.2px 46.9px,#d4e4f0 46.9px 53.6px,#e0ecf8 53.6px 60.4px,#fcffff 60.4px 67.1px,#ffffff 67.1px 73.8px,#e0ecf4 73.8px 80.5px,#d8e8f4 80.5px 87.2px,#f8fcff 87.2px 93.9px,#bcd4e8 93.9px 100.6px,#f0ac90 100.6px 107.3px,#f0f4fc 107.3px 114.0px,#e8f0f8 114.0px 120.7px,#ecf4f8 120.7px 127.4px,#e0ecf4 127.4px 134.1px,#fcece4 134.1px 140.8px,#fff8f8 140.8px 147.5px,#f8f8fc 147.5px 154.2px,#e8f0f8 154.2px 160.9px,#d4e4f0 160.9px 167.6px,#e4f0f8 167.6px 174.3px,#f4f8fc 174.3px 181.1px,#d4e4f0 181.1px 187.8px,#ffffff 187.8px 194.5px,#e8f0f8 194.5px 201.2px,#f0f4fc 201.2px 207.9px,#e0ecf8 207.9px 214.6px,#e0e8f4 214.6px 221.3px,#d8e8f4 221.3px 228.0px,#d0e0f0 228.0px 234.7px,#e4f0f8 234.7px 241.4px,#f0f8fc 241.4px 248.1px,#e8f0f8 248.1px 268.2px,#e4f0f8 268.2px 274.9px,#d8e8f4 274.9px 281.6px,#ffffff 281.6px 288.3px,#e8f0f8 288.3px 301.8px,#f0f4f8 301.8px 308.5px,#e0e8f4 308.5px 315.2px,#e0ecf8 315.2px 321.9px,#ecf4f8 321.9px 328.6px,#f0f8fc 328.6px 335.3px,#f8f8fc 335.3px 342.0px,#d0e0f0 342.0px 348.7px)"></div>
<div style="left:39.58px;width:1.93px;background:linear-gradient(#f4f8fc 0.0px 6.7px,#fce8dc 6.7px 13.4px,#fcf0ec 13.4px 20.1px,#fffffc 20.1px 26.8px,#fcf0ec 26.8px 33.5px,#fcf0e8 33.5px 40.2px,#fcffff 40.2px 46.9px,#ffffff 46.9px 53.6px,#ecf4f8 53.6px 60.4px,#fffcfc 60.4px 67.1px,#fce8dc 67.1px 73.8px,#fce0d4 73.8px 80.5px,#fcf0e8 80.5px 87.2px,#fcffff 87.2px 93.9px,#f8dcd0 93.9px 100.6px,#fcf0e8 100.6px 107.3px,#fffffc 107.3px 114.0px,#f8c8b8 114.0px 120.7px,#fce8e0 120.7px 127.4px,#fcf0e8 127.4px 134.1px,#fff8f8 134.1px 140.8px,#f8dccc 140.8px 147.5px,#ffffff 147.5px 154.2px,#fce4d8 154.2px 160.9px,#ffffff 160.9px 167.6px,#fce0d8 167.6px 174.3px,#fff8f0 174.3px 181.1px,#fffcf8 181.1px 187.8px,#ffffff 187.8px 194.5px,#fffcf8 194.5px 207.9px,#fcf0e8 207.9px 214.6px,#fff8f8 214.6px 221.3px,#fce8e0 221.3px 228.0px,#fff8f4 228.0px 234.7px,#fce8dc 234.7px 241.4px,#fffcf8 241.4px 248.1px,#fcf0e8 248.1px 254.8px,#fcece4 254.8px 261.5px,#e4f0f8 261.5px 268.2px,#fff8f0 268.2px 274.9px,#ffffff 274.9px 281.6px,#fce8e0 281.6px 288.3px,#fffffc 288.3px 295.1px,#fcf4ec 295.1px 301.8px,#fff4f0 301.8px 308.5px,#ffffff 308.5px 315.2px,#fff4f0 315.2px 321.9px,#ffffff 321.9px 335.3px,#fce8dc 335.3px 342.0px,#fffcfc 342.0px 348.7px)"></div>
<div style="left:41.46px;width:1.93px;background:linear-gradient(#f4f8fc 0.0px 13.4px,#f0f4fc 13.4px 20.1px,#d8e8f4 20.1px 26.8px,#f0f4f8 26.8px 33.5px,#fcffff 33.5px 40.2px,#f0f8fc 40.2px 46.9px,#e8f0f8 46.9px 53.6px,#dce8f4 53.6px 60.4px,#fcf0e8 60.4px 67.1px,#ecf4f8 67.1px 73.8px,#e0ecf4 73.8px 80.5px,#d4e4f0 80.5px 87.2px,#ecf4f8 87.2px 93.9px,#e0ecf8 93.9px 100.6px,#f0f8fc 100.6px 107.3px,#d8e4f0 107.3px 114.0px,#e8f0f8 114.0px 120.7px,#d4e4f0 120.7px 127.4px,#dce8f4 127.4px 134.1px,#fff8f4 134.1px 140.8px,#fce8e0 140.8px 147.5px,#fcffff 147.5px 154.2px,#d0e0f0 154.2px 160.9px,#f0f4fc 160.9px 167.6px,#f4f8fc 167.6px 174.3px,#e8f0f8 174.3px 181.1px,#e4ecf8 181.1px 187.8px,#e0ecf4 187.8px 194.5px,#fcffff 194.5px 201.2px,#e8f0f8 201.2px 207.9px,#dce8f4 207.9px 214.6px,#e4ecf8 214.6px 221.3px,#f0f4fc 221.3px 228.0px,#f8fcff 228.0px 234.7px,#f4f8fc 234.7px 241.4px,#fcffff 241.4px 248.1px,#fcfcff 248.1px 254.8px,#e8f0f8 254.8px 261.5px,#fcfcff 261.5px 268.2px,#fffffc 268.2px 274.9px,#d8e8f4 274.9px 281.6px,#ffffff 281.6px 288.3px,#d0e4f0 288.3px 295.1px,#f0f8fc 295.1px 301.8px,#e0e8f4 301.8px 308.5px,#e0ecf8 308.5px 315.2px,#e8f0f8 315.2px 321.9px,#e4f0f8 321.9px 335.3px,#d8e8f4 335.3px 342.0px,#ecf4f8 342.0px 348.7px)"></div>
<div style="left:43.35px;width:1.93px;background:linear-gradient(#f4f8fc 0.0px 6.7px,#f8d4c4 6.7px 13.4px,#fcffff 13.4px 26.8px,#fff4f0 26.8px 33.5px,#fffcf8 33.5px 40.2px,#fff8f4 40.2px 46.9px,#ecf4f8 46.9px 53.6px,#fcffff 53.6px 60.4px,#f0f4f8 60.4px 67.1px,#fcffff 67.1px 80.5px,#f8fcff 80.5px 87.2px,#fcfcff 87.2px 93.9px,#ffffff 93.9px 100.6px,#f8fcff 100.6px 107.3px,#f0f4f8 107.3px 114.0px,#fffffc 114.0px 120.7px,#fff8f8 120.7px 134.1px,#fff8f4 134.1px 140.8px,#ffffff 140.8px 147.5px,#fff4f0 147.5px 160.9px,#f8fcff 160.9px 167.6px,#fcffff 167.6px 174.3px,#fff8f4 174.3px 181.1px,#ffffff 181.1px 194.5px,#f0f4f8 194.5px 201.2px,#ffffff 201.2px 207.9px,#fffcfc 207.9px 214.6px,#fcfcff 214.6px 221.3px,#fffcfc 221.3px 228.0px,#ffffff 228.0px 234.7px,#f8fcff 234.7px 241.4px,#ecf4f8 241.4px 248.1px,#ffffff 248.1px 254.8px,#fcffff 254.8px 261.5px,#fff8f0 261.5px 268.2px,#fffcfc 268.2px 281.6px,#fcf4ec 281.6px 288.3px,#fcfcff 288.3px 295.1px,#fcffff 295.1px 301.8px,#f0f4fc 301.8px 308.5px,#f8fcff 308.5px 315.2px,#ffffff 315.2px 328.6px,#e4f0f8 328.6px 335.3px,#fffcfc 335.3px 342.0px,#fff8f0 342.0px 348.7px)"></div>
<div style="left:45.23px;width:1.93px;background:linear-gradient(#f4f8fc 0.0px 6.7px,#e0e8f4 6.7px 13.4px,#e8f0f8 13.4px 20.1px,#ffffff 20.1px 26.8px,#e4f0f8 26.8px 33.5px,#f0f8fc 33.5px 40.2px,#fcffff 40.2px 46.9px,#f8fcff 46.9px 53.6px,#dce8f4 53.6px 60.4px,#d4e4f0 60.4px 67.1px,#e8f0f8 67.1px 73.8px,#f4f8fc 73.8px 87.2px,#dce8f4 87.2px 93.9px,#f8fcff 93.9px 100.6px,#dce8f4 100.6px 107.3px,#f0f8fc 107.3px 114.0px,#e8f0f8 114.0px 120.7px,#fcffff 120.7px 127.4px,#f8fcff 127.4px 134.1px,#fcfcff 134.1px 140.8px,#fff8f4 140.8px 147.5px,#f8e0d4 147.5px 154.2px,#e4ecf8 154.2px 160.9px,#f0f8fc 160.9px 167.6px,#e0ecf8 167.6px 174.3px,#f8f8fc 174.3px 181.1px,#cce0f0 181.1px 187.8px,#e0ecf8 187.8px 194.5px,#ecf4f8 194.5px 201.2px,#fcfcff 201.2px 207.9px,#ecf4f8 207.9px 214.6px,#ffffff 214.6px 221.3px,#ecf4f8 221.3px 228.0px,#e4f0f8 228.0px 234.7px,#ecf4f8 234.7px 241.4px,#dce8f4 241.4px 254.8px,#fcffff 254.8px 261.5px,#ffffff 261.5px 268.2px,#f4f8fc 268.2px 274.9px,#e8f0f8 274.9px 281.6px,#fcffff 281.6px 288.3px,#f0f8fc 288.3px 295.1px,#e8f0f8 295.1px 321.9px,#f0f8fc 321.9px 328.6px,#e8f0f8 328.6px 335.3px,#d4e4f0 335.3px 342.0px,#e0ecf8 342.0px 348.7px)"></div>
<div style="left:47.12px;width:1.93px;background:linear-gradient(#f4f8fc 0.0px 6.7px,#e0ecf8 6.7px 13.4px,#f0f8fc 13.4px 20.1px,#e0ecf4 20.1px 26.8px,#e8f0f8 26.8px 33.5px,#e4f0f8 33.5px 46.9px,#e8f0f8 46.9px 53.6px,#f0f4f8 53.6px 60.4px,#e8f0f8 60.4px 67.1px,#f8f8fc 67.1px 73.8px,#d4e4f0 73.8px 80.5px,#e4f0f8 80.5px 87.2px,#e8f0f8 87.2px 93.9px,#dce8f4 93.9px 100.6px,#d8e8f4 100.6px 107.3px,#bcd4e8 107.3px 114.0px,#f4f8fc 114.0px 120.7px,#e8f0f8 120.7px 127.4px,#e0ecf8 127.4px 134.1px,#fff8f4 134.1px 140.8px,#f8f8fc 140.8px 147.5px,#ffffff 147.5px 154.2px,#d0e4f0 154.2px 160.9px,#e8f0f8 160.9px 167.6px,#f0f4f8 167.6px 174.3px,#f0f8fc 174.3px 181.1px,#e8f0f8 181.1px 194.5px,#fcffff 194.5px 201.2px,#e8f0f8 201.2px 207.9px,#ecf4f8 207.9px 214.6px,#f4f8fc 214.6px 221.3px,#d8e8f4 221.3px 228.0px,#dce8f4 228.0px 234.7px,#ffffff 234.7px 241.4px,#e4f0f8 241.4px 248.1px,#f0f8fc 248.1px 254.8px,#fcf0e8 254.8px 261.5px,#d8e8f4 261.5px 268.2px,#e8f0f8 268.2px 281.6px,#e0ecf8 281.6px 288.3px,#e0e8f4 288.3px 295.1px,#e4f0f8 295.1px 301.8px,#e0ecf4 301.8px 308.5px,#d8e8f4 308.5px 315.2px,#d0e0f0 315.2px 321.9px,#fcffff 321.9px 328.6px,#ecf4f8 328.6px 335.3px,#d4e4f0 335.3px 342.0px,#e0ecf4 342.0px 348.7px)"></div>
<div style="left:49.00px;width:1.93px;background:linear-gradient(#f0f4fc 0.0px 6.7px,#fff8f8 6.7px 13.4px,#f8fcff 13.4px 20.1px,#ecf4f8 20.1px 26.8px,#e8f0f8 26.8px 33.5px,#f8fcff 33.5px 40.2px,#fff4f0 40.2px 46.9px,#f8f8fc 46.9px 53.6px,#fcfcff 53.6px 60.4px,#ffffff 60.4px 67.1px,#f4f8fc 67.1px 73.8px,#ffffff 73.8px 87.2px,#f8fcff 87.2px 100.6px,#f4f8fc 100.6px 107.3px,#ffffff 107.3px 127.4px,#e4ecf8 127.4px 134.1px,#fffcf8 134.1px 140.8px,#fff8f8 140.8px 147.5px,#fcffff 147.5px 154.2px,#ffffff 154.2px 160.9px,#fffffc 160.9px 167.6px,#ffffff 167.6px 174.3px,#fcfcff 174.3px 181.1px,#fff8f8 181.1px 187.8px,#f8fcff 187.8px 194.5px,#ffffff 194.5px 201.2px,#fce8dc 201.2px 207.9px,#fff8f8 207.9px 214.6px,#f0f4f8 214.6px 221.3px,#fcffff 221.3px 234.7px,#e0ecf4 234.7px 241.4px,#fffcfc 241.4px 248.1px,#fcffff 248.1px 268.2px,#fffffc 268.2px 274.9px,#f4f8fc 274.9px 281.6px,#ffffff 281.6px 288.3px,#fff8f8 288.3px 295.1px,#f4f8fc 295.1px 301.8px,#f8fcff 301.8px 308.5px,#fcffff 308.5px 315.2px,#e8f0f8 315.2px 321.9px,#fcfcff 321.9px 328.6px,#f0f4fc 328.6px 335.3px,#fcffff 335.3px 342.0px,#e8f0f8 342.0px 348.7px)"></div>
<div style="left:50.88px;width:1.93px;background:linear-gradient(#fcffff 0.0px 6.7px,#f8fcff 6.7px 13.4px,#e4f0f8 13.4px 20.1px,#e0ecf8 20.1px 26.8px,#f0f4f8 26.8px 33.5px,#ecf4f8 33.5px 46.9px,#fff4f0 46.9px 53.6px,#d8e8f4 53.6px 60.4px,#e0ecf8 60.4px 67.1px,#ffffff 67.1px 73.8px,#d8e8f4 73.8px 80.5px,#e8f0f8 80.5px 87.2px,#f0f4fc 87.2px 93.9px,#e8f0f8 93.9px 107.3px,#d8e8f4 107.3px 114.0px,#e4f0f8 114.0px 120.7px,#f0f4f8 120.7px 127.4px,#e4f0f8 127.4px 134.1px,#fce0d4 134.1px 140.8px,#fff8f8 140.8px 147.5px,#fcffff 147.5px 154.2px,#f4f8fc 154.2px 160.9px,#e0ecf4 160.9px 167.6px,#d8e8f4 167.6px 174.3px,#fffffc 174.3px 181.1px,#e8f0f8 181.1px 187.8px,#ecf4f8 187.8px 194.5px,#e0ecf8 194.5px 201.2px,#ecf4f8 201.2px 207.9px,#e0ecf8 207.9px 214.6px,#c0d8ec 214.6px 221.3px,#dce8f4 221.3px 228.0px,#ecf4f8 228.0px 234.7px,#f4f8fc 234.7px 241.4px,#e8f0f8 241.4px 248.1px,#dce8f4 248.1px 254.8px,#e8f0f8 254.8px 261.5px,#cce0f0 261.5px 268.2px,#e4ecf8 268.2px 274.9px,#e8f0f8 274.9px 281.6px,#e0ecf8 281.6px 288.3px,#e8f0f8 288.3px 295.1px,#f8f8fc 295.1px 301.8px,#d0e0f0 301.8px 308.5px,#d0e4f0 308.5px 315.2px,#d8e8f4 315.2px 328.6px,#f0f8fc 328.6px 335.3px,#d4e4f0 335.3px 342.0px,#ecf4f8 342.0px 348.7px)"></div>
<div style="left:52.77px;width:1.93px;background:linear-gradient(#ffffff 0.0px 13.4px,#fffffc 13.4px 20.1px,#ffffff 20.1px 26.8px,#fff8f0 26.8px 33.5px,#f4c0ac 33.5px 40.2px,#ffffff 40.2px 46.9px,#f8d4c4 46.9px 60.4px,#fcf0ec 60.4px 67.1px,#fff8f4 67.1px 73.8px,#f8fcff 73.8px 80.5px,#fffcf8 80.5px 87.2px,#ffffff 87.2px 93.9px,#fffffc 93.9px 100.6px,#fcfcff 100.6px 107.3px,#ffffff 107.3px 114.0px,#fff8f8 114.0px 120.7px,#fffffc 120.7px 127.4px,#ffffff 127.4px 134.1px,#fffcf8 134.1px 140.8px,#f8fcfc 140.8px 147.5px,#f0f8fc 147.5px 154.2px,#fcffff 154.2px 160.9px,#ffffff 160.9px 174.3px,#fcffff 174.3px 181.1px,#fffcfc 181.1px 194.5px,#fcffff 194.5px 207.9px,#f8e0d0 207.9px 214.6px,#f8d8c8 214.6px 221.3px,#fff4f0 221.3px 228.0px,#e4f0f8 228.0px 234.7px,#fff8f8 234.7px 241.4px,#fffcf8 241.4px 248.1px,#fffcfc 248.1px 254.8px,#fffffc 254.8px 261.5px,#fcffff 261.5px 268.2px,#f8fcff 268.2px 274.9px,#fffffc 274.9px 281.6px,#ffffff 281.6px 288.3px,#fffcfc 288.3px 295.1px,#fff8f8 295.1px 301.8px,#f8fcff 301.8px 308.5px,#fce8e0 308.5px 315.2px,#ecf0f8 315.2px 321.9px,#f8f8fc 321.9px 328.6px,#ffffff 328.6px 342.0px,#f8fcfc 342.0px 348.7px)"></div>
<div style="left:54.65px;width:1.93px;background:linear-gradient(#fcffff 0.0px 20.1px,#f8d8c8 20.1px 26.8px,#fcece4 26.8px 33.5px,#fffcfc 33.5px 40.2px,#f4f8fc 40.2px 46.9px,#ffffff 46.9px 60.4px,#fcffff 60.4px 67.1px,#f8fcff 67.1px 73.8px,#f4f8fc 73.8px 80.5px,#fcffff 80.5px 87.2px,#ffffff 87.2px 93.9px,#e8f0f8 93.9px 100.6px,#fffcf8 100.6px 107.3px,#fcffff 107.3px 114.0px,#fffcfc 114.0px 120.7px,#ffffff 120.7px 134.1px,#fce0d8 134.1px 140.8px,#fcf0e8 140.8px 147.5px,#fffcfc 147.5px 154.2px,#f4f8fc 154.2px 160.9px,#f0f8fc 160.9px 167.6px,#fff8f8 167.6px 174.3px,#fffffc 174.3px 181.1px,#f8dccc 181.1px 187.8px,#fcfcff 187.8px 194.5px,#f0f4fc 194.5px 201.2px,#fcece4 201.2px 207.9px,#ffffff 207.9px 214.6px,#f8fcff 214.6px 221.3px,#fffffc 221.3px 228.0px,#fcf4f0 228.0px 234.7px,#fcfcff 234.7px 241.4px,#ecf4f8 241.4px 248.1px,#ffffff 248.1px 254.8px,#fcf0e8 254.8px 261.5px,#ffffff 261.5px 274.9px,#fffcfc 274.9px 281.6px,#ffffff 281.6px 288.3px,#f0f8fc 288.3px 295.1px,#f8fcff 295.1px 301.8px,#fcfcff 301.8px 308.5px,#ecf4f8 308.5px 315.2px,#ffffff 315.2px 321.9px,#fffffc 321.9px 328.6px,#fcffff 328.6px 335.3px,#fff8f8 335.3px 342.0px,#f0f8fc 342.0px 348.7px)"></div>
<div style="left:56.54px;width:1.93px;background:linear-gradient(#fcffff 0.0px 6.7px,#fcece4 6.7px 13.4px,#fcfcff 13.4px 20.1px,#fcffff 20.1px 26.8px,#ffffff 26.8px 33.5px,#fff8f4 33.5px 40.2px,#ffffff 40.2px 53.6px,#f4f8fc 53.6px 60.4px,#fffcfc 60.4px 67.1px,#fff8f4 67.1px 73.8px,#ffffff 73.8px 80.5px,#fff8f4 80.5px 87.2px,#f8fcff 87.2px 93.9px,#fffcf8 93.9px 100.6px,#fcffff 100.6px 107.3px,#f8f8fc 107.3px 114.0px,#f8c8b8 114.0px 120.7px,#f8e0d0 120.7px 127.4px,#f4f8fc 127.4px 134.1px,#fff8f8 134.1px 140.8px,#fcffff 140.8px 147.5px,#fff8f8 147.5px 154.2px,#ffffff 154.2px 160.9px,#fcfcff 160.9px 167.6px,#f8d8c8 167.6px 174.3px,#fff8f4 174.3px 181.1px,#fcffff 181.1px 187.8px,#fff8f8 187.8px 201.2px,#fcffff 201.2px 214.6px,#f8fcff 214.6px 221.3px,#fff8f8 221.3px 228.0px,#f8f8fc 228.0px 234.7px,#f4f8fc 234.7px 241.4px,#fff8f8 241.4px 254.8px,#ffffff 254.8px 261.5px,#f0f8fc 261.5px 268.2px,#ffffff 268.2px 274.9px,#fcffff 274.9px 281.6px,#fcf0e8 281.6px 295.1px,#fffffc 295.1px 301.8px,#fff8f8 301.8px 308.5px,#fcfcff 308.5px 315.2px,#fcffff 315.2px 321.9px,#fffffc 321.9px 328.6px,#f8c4b0 328.6px 335.3px,#ffffff 335.3px 342.0px,#fffffc 342.0px 348.7px)"></div>
<div style="left:58.42px;width:1.93px;background:linear-gradient(#e0ecf8 0.0px 6.7px,#e8f0f8 6.7px 13.4px,#dce8f4 13.4px 20.1px,#e4ecf8 20.1px 26.8px,#e4f0f8 26.8px 33.5px,#e8f0f8 33.5px 40.2px,#e4f0f8 40.2px 46.9px,#d4e4f0 46.9px 53.6px,#e8f0f8 53.6px 60.4px,#d8e8f4 60.4px 67.1px,#e4f0f8 67.1px 73.8px,#fcece4 73.8px 80.5px,#e0ecf8 80.5px 87.2px,#fcffff 87.2px 93.9px,#fcece0 93.9px 100.6px,#dce8f4 100.6px 107.3px,#e8f0f8 107.3px 114.0px,#f0f8fc 114.0px 120.7px,#ecf4f8 120.7px 127.4px,#dce8f4 127.4px 134.1px,#fffcfc 134.1px 140.8px,#fce8dc 140.8px 147.5px,#ffffff 147.5px 154.2px,#d4e4f0 154.2px 160.9px,#d8e8f4 160.9px 167.6px,#e0ecf8 167.6px 174.3px,#e8f0f8 174.3px 181.1px,#f0f4fc 181.1px 187.8px,#f8fcff 187.8px 194.5px,#e0ecf8 194.5px 201.2px,#f0f8fc 201.2px 207.9px,#ffffff 207.9px 214.6px,#e0ecf8 214.6px 221.3px,#dce8f4 221.3px 228.0px,#e4f0f8 228.0px 234.7px,#f0f8fc 234.7px 248.1px,#d8e8f4 248.1px 254.8px,#f8fcff 254.8px 261.5px,#c8e0f0 261.5px 268.2px,#ffffff 268.2px 274.9px,#e8f0f8 274.9px 281.6px,#f4f8fc 281.6px 288.3px,#fff4f0 288.3px 295.1px,#ffffff 295.1px 301.8px,#f0f4fc 301.8px 308.5px,#e0ecf8 308.5px 315.2px,#d8e8f4 315.2px 328.6px,#f0f4fc 328.6px 335.3px,#e4ecf8 335.3px 342.0px,#ecf4f8 342.0px 348.7px)"></div>
<div style="left:60.31px;width:1.93px;background:linear-gradient(#f0f8fc 0.0px 6.7px,#fff8f8 6.7px 13.4px,#e0ecf8 13.4px 20.1px,#e8f0f8 20.1px 26.8px,#f4f8fc 26.8px 33.5px,#f8f8fc 33.5px 40.2px,#e0ecf8 40.2px 46.9px,#e0ecf4 46.9px 53.6px,#ecf4f8 53.6px 60.4px,#f0f8fc 60.4px 67.1px,#f8fcff 67.1px 73.8px,#e8f0f8 73.8px 80.5px,#e4ecf8 80.5px 87.2px,#e4f0f8 87.2px 93.9px,#f4f8fc 93.9px 107.3px,#e8f0f8 107.3px 114.0px,#f8fcfc 114.0px 120.7px,#f4f8fc 120.7px 127.4px,#d4e4f0 127.4px 134.1px,#fffcfc 134.1px 140.8px,#ffffff 140.8px 160.9px,#f0f8fc 160.9px 167.6px,#ecf4f8 167.6px 174.3px,#e8f0f8 174.3px 181.1px,#f0f4fc 181.1px 187.8px,#fffcfc 187.8px 194.5px,#f8fcfc 194.5px 201.2px,#f0f8fc 201.2px 207.9px,#fffffc 207.9px 214.6px,#dce8f4 214.6px 221.3px,#f4f8fc 221.3px 228.0px,#e8f0f8 228.0px 234.7px,#f4f8fc 234.7px 241.4px,#f0f4fc 241.4px 248.1px,#f0f4f8 248.1px 254.8px,#e8f0f8 254.8px 261.5px,#e0ecf4 261.5px 268.2px,#f8fcff 268.2px 274.9px,#ecf4f8 274.9px 281.6px,#f0f8fc 281.6px 288.3px,#f8f8fc 288.3px 295.1px,#fffcfc 295.1px 301.8px,#e0ecf8 301.8px 308.5px,#e4ecf8 308.5px 315.2px,#e0ecf8 315.2px 321.9px,#f8fcfc 321.9px 328.6px,#e4f0f8 328.6px 335.3px,#f0f4f8 335.3px 342.0px,#f4f8fc 342.0px 348.7px)"></div>
<div style="left:62.19px;width:1.93px;background:linear-gradient(#fffcfc 0.0px 13.4px,#fce4d8 13.4px 20.1px,#fcf0e8 20.1px 26.8px,#fffcfc 26.8px 33.5px,#fff8f0 33.5px 46.9px,#e8f0f8 46.9px 53.6px,#f8fcff 53.6px 60.4px,#fcffff 60.4px 67.1px,#ffffff 67.1px 73.8px,#fcf0ec 73.8px 80.5px,#f8f8fc 80.5px 87.2px,#fffcfc 87.2px 93.9px,#ffffff 93.9px 100.6px,#fce8e0 100.6px 107.3px,#fcf4ec 107.3px 114.0px,#fffcf8 114.0px 120.7px,#fcf0e8 120.7px 134.1px,#ffffff 134.1px 140.8px,#fff8f0 140.8px 147.5px,#ffffff 147.5px 181.1px,#fffffc 181.1px 187.8px,#fcffff 187.8px 194.5px,#fce8e0 194.5px 201.2px,#ffffff 201.2px 214.6px,#f8fcff 214.6px 221.3px,#fffcf8 221.3px 228.0px,#ffffff 228.0px 241.4px,#f0f8fc 241.4px 248.1px,#ffffff 248.1px 254.8px,#fffcfc 254.8px 261.5px,#f8fcff 261.5px 268.2px,#fff8f8 268.2px 274.9px,#ecf4f8 274.9px 281.6px,#fcf0e8 281.6px 288.3px,#fffffc 288.3px 295.1px,#f8fcff 295.1px 301.8px,#fce8e0 301.8px 308.5px,#fffcfc 308.5px 315.2px,#ffffff 315.2px 321.9px,#fff4f0 321.9px 328.6px,#fcffff 328.6px 335.3px,#fce8e0 335.3px 342.0px,#ffffff 342.0px 348.7px)"></div>
<div style="left:64.08px;width:1.93px;background:linear-gradient(#fcffff 0.0px 6.7px,#f8e0d0 6.7px 13.4px,#ecf4f8 13.4px 20.1px,#fffcfc 20.1px 33.5px,#ffffff 33.5px 40.2px,#f4f8fc 40.2px 46.9px,#fcffff 46.9px 53.6px,#e4f0f8 53.6px 60.4px,#ffffff 60.4px 67.1px,#f0f8fc 67.1px 73.8px,#ecf4f8 73.8px 80.5px,#f0f8fc 80.5px 87.2px,#fffcfc 87.2px 93.9px,#ffffff 93.9px 100.6px,#f0f8fc 100.6px 107.3px,#fffffc 107.3px 114.0px,#fcffff 114.0px 120.7px,#fcfcff 120.7px 127.4px,#f0f8fc 127.4px 134.1px,#fffffc 134.1px 147.5px,#ffffff 147.5px 154.2px,#fff8f8 154.2px 160.9px,#fce8e0 160.9px 167.6px,#fffcf8 167.6px 174.3px,#fffcfc 174.3px 181.1px,#fffffc 181.1px 187.8px,#f8fcff 187.8px 194.5px,#ffffff 194.5px 201.2px,#f8fcff 201.2px 207.9px,#ffffff 207.9px 214.6px,#fcffff 214.6px 221.3px,#fffffc 221.3px 228.0px,#fcffff 228.0px 234.7px,#fffcf8 234.7px 241.4px,#ffffff 241.4px 254.8px,#fffffc 254.8px 261.5px,#ffffff 261.5px 268.2px,#f0f8fc 268.2px 274.9px,#ffffff 274.9px 281.6px,#fcf0ec 281.6px 288.3px,#fcffff 288.3px 295.1px,#f0f8fc 295.1px 301.8px,#e4f0f8 301.8px 308.5px,#fcffff 308.5px 315.2px,#f8fcff 315.2px 321.9px,#fffcfc 321.9px 328.6px,#fffcf8 328.6px 335.3px,#ffffff 335.3px 342.0px,#fcffff 342.0px 348.7px)"></div>
<div style="left:65.96px;width:1.93px;background:linear-gradient(#fcffff 0.0px 6.7px,#f4f8fc 6.7px 13.4px,#e0ecf4 13.4px 20.1px,#e4f0f8 20.1px 26.8px,#ffffff 26.8px 33.5px,#fffcfc 33.5px 40.2px,#dce8f4 40.2px 46.9px,#e0ecf8 46.9px 53.6px,#d8e8f4 53.6px 60.4px,#ffffff 60.4px 67.1px,#f4f8fc 67.1px 73.8px,#fcfcff 73.8px 80.5px,#f8fcfc 80.5px 87.2px,#ffffff 87.2px 93.9px,#e8f0f8 93.9px 120.7px,#ffffff 120.7px 127.4px,#f0f8fc 127.4px 134.1px,#fcfcff 134.1px 140.8px,#fcece0 140.8px 147.5px,#ffffff 147.5px 160.9px,#f8fcff 160.9px 167.6px,#fff8f8 167.6px 174.3px,#f0f4f8 174.3px 181.1px,#ffffff 181.1px 187.8px,#dce8f4 187.8px 194.5px,#f0f8fc 194.5px 201.2px,#f0f4fc 201.2px 207.9px,#f0f8fc 207.9px 221.3px,#f4f8fc 221.3px 228.0px,#d8e4f0 228.0px 234.7px,#f8fcff 234.7px 241.4px,#ecf4f8 241.4px 248.1px,#ffffff 248.1px 261.5px,#f0f8fc 261.5px 274.9px,#f8fcfc 274.9px 281.6px,#fffffc 281.6px 288.3px,#f4f8fc 288.3px 295.1px,#ffffff 295.1px 301.8px,#f0f8fc 301.8px 308.5px,#f0f4fc 308.5px 315.2px,#f0f4f8 315.2px 321.9px,#f4f8fc 321.9px 328.6px,#ffffff 328.6px 335.3px,#fcfcff 335.3px 342.0px,#f8fcff 342.0px 348.7px)"></div>
<div style="left:67.85px;width:1.93px;background:linear-gradient(#fffcfc 0.0px 6.7px,#f0f8fc 6.7px 13.4px,#f0f4fc 13.4px 20.1px,#fffcfc 20.1px 26.8px,#fcffff 26.8px 33.5px,#f4f8fc 33.5px 40.2px,#fcffff 40.2px 46.9px,#e8f0f8 46.9px 53.6px,#ffffff 53.6px 60.4px,#fcffff 60.4px 67.1px,#fcf0ec 67.1px 73.8px,#e8f0f8 73.8px 80.5px,#fffffc 80.5px 87.2px,#f0f8fc 87.2px 93.9px,#f0f4fc 93.9px 100.6px,#d8e8f4 100.6px 107.3px,#e4ecf8 107.3px 114.0px,#ffffff 114.0px 120.7px,#fffffc 120.7px 127.4px,#f8fcff 127.4px 134.1px,#fffffc 134.1px 140.8px,#fffcfc 140.8px 154.2px,#e8f0f8 154.2px 167.6px,#f8fcff 167.6px 174.3px,#ffffff 174.3px 181.1px,#fffcfc 181.1px 187.8px,#fffffc 187.8px 194.5px,#ffffff 194.5px 207.9px,#fcfcff 207.9px 214.6px,#f8f8fc 214.6px 221.3px,#ecf4f8 221.3px 228.0px,#fcffff 228.0px 241.4px,#f0f8fc 241.4px 248.1px,#fcfcff 248.1px 254.8px,#e4ecf8 254.8px 261.5px,#f8d0c0 261.5px 268.2px,#f4f8fc 268.2px 274.9px,#e8f0f8 274.9px 281.6px,#fcffff 281.6px 288.3px,#ecf0f8 288.3px 295.1px,#ffffff 295.1px 301.8px,#ecf4f8 301.8px 308.5px,#dce8f4 308.5px 315.2px,#f8fcff 315.2px 321.9px,#fffcf8 321.9px 328.6px,#f8f8fc 328.6px 335.3px,#ffffff 335.3px 342.0px,#f0f8fc 342.0px 348.7px)"></div>
<div style="left:69.73px;width:1.93px;background:linear-gradient(#e0ecf4 0.0px 6.7px,#f8fcff 6.7px 13.4px,#ecf4f8 13.4px 20.1px,#ffffff 20.1px 26.8px,#ecf4f8 26.8px 33.5px,#f0f8fc 33.5px 40.2px,#f8fcfc 40.2px 46.9px,#e8f0f8 46.9px 53.6px,#f4f8fc 53.6px 60.4px,#ecf4f8 60.4px 67.1px,#fffffc 67.1px 73.8px,#fcffff 73.8px 80.5px,#e0ecf8 80.5px 87.2px,#e8f0f8 87.2px 93.9px,#ffffff 93.9px 100.6px,#ecf4f8 100.6px 107.3px,#e8f0f8 107.3px 114.0px,#fffffc 114.0px 120.7px,#f0f8fc 120.7px 127.4px,#e8f0f8 127.4px 134.1px,#fff8f0 134.1px 140.8px,#fffffc 140.8px 147.5px,#f8e0d0 147.5px 154.2px,#fcffff 154.2px 160.9px,#dce8f4 160.9px 167.6px,#ffffff 167.6px 174.3px,#e4ecf8 174.3px 181.1px,#e4f0f8 181.1px 187.8px,#e4ecf8 187.8px 194.5px,#f0f4f8 194.5px 201.2px,#fcffff 201.2px 207.9px,#f8fcfc 207.9px 214.6px,#e8f0f8 214.6px 221.3px,#fce8e0 221.3px 228.0px,#dce8f4 228.0px 234.7px,#e8f0f8 234.7px 241.4px,#f0f8fc 241.4px 248.1px,#ffffff 248.1px 254.8px,#e8f0f8 254.8px 261.5px,#f8fcfc 261.5px 268.2px,#ecf4f8 268.2px 274.9px,#e8f0f8 274.9px 281.6px,#f4f8fc 281.6px 288.3px,#f8fcff 288.3px 295.1px,#e0ecf4 295.1px 301.8px,#fcffff 301.8px 308.5px,#f0f4f8 308.5px 315.2px,#fcffff 315.2px 321.9px,#e8f0f8 321.9px 328.6px,#ffffff 328.6px 335.3px,#ecf4f8 335.3px 342.0px,#e4f0f8 342.0px 348.7px)"></div>
<div style="left:71.62px;width:1.93px;background:linear-gradient(#fcffff 0.0px 6.7px,#ffffff 6.7px 20.1px,#ecf4f8 20.1px 26.8px,#f0f8fc 26.8px 33.5px,#f0f4f8 33.5px 40.2px,#e8f0f8 40.2px 46.9px,#dce8f4 46.9px 60.4px,#f4f8fc 60.4px 73.8px,#e8f0f8 73.8px 80.5px,#e0ecf8 80.5px 87.2px,#ffffff 87.2px 93.9px,#e8f0f8 93.9px 100.6px,#e0ecf8 100.6px 107.3px,#ecf4f8 107.3px 114.0px,#e8f0f8 114.0px 120.7px,#f0f4fc 120.7px 127.4px,#e8f0f8 127.4px 134.1px,#fffcf8 134.1px 140.8px,#fcf4ec 140.8px 147.5px,#fcf0e8 147.5px 154.2px,#dce8f4 154.2px 160.9px,#e8f0f8 160.9px 167.6px,#ffffff 167.6px 174.3px,#e8f0f8 174.3px 181.1px,#ecf4f8 181.1px 187.8px,#f0f8fc 187.8px 201.2px,#f4f8fc 201.2px 207.9px,#ffffff 207.9px 214.6px,#d8e4f0 214.6px 221.3px,#dce8f4 221.3px 228.0px,#e4f0f8 228.0px 234.7px,#f4f8fc 234.7px 241.4px,#e0ecf8 241.4px 248.1px,#e4ecf8 248.1px 254.8px,#e0e8f4 254.8px 261.5px,#d8e8f4 261.5px 268.2px,#e4f0f8 268.2px 274.9px,#f0f4fc 274.9px 281.6px,#f0f8fc 281.6px 288.3px,#dce8f4 288.3px 295.1px,#e4f0f8 295.1px 308.5px,#f8fcff 308.5px 315.2px,#f0f8fc 315.2px 321.9px,#f4f8fc 321.9px 328.6px,#ecf4f8 328.6px 335.3px,#fcffff 335.3px 342.0px,#e8f0f8 342.0px 348.7px)"></div>
<div style="left:73.50px;width:1.94px;background:linear-gradient(#f8f8fc 0.0px 6.7px,#fcffff 6.7px 13.4px,#e0e8f4 13.4px 20.1px,#e4f0f8 20.1px 26.8px,#f4f8fc 26.8px 33.5px,#f8fcff 33.5px 40.2px,#ecf4f8 40.2px 60.4px,#f0f4f8 60.4px 67.1px,#ffffff 67.1px 73.8px,#fcffff 73.8px 80.5px,#c8e0f0 80.5px 87.2px,#e4f0f8 87.2px 93.9px,#f8f8fc 93.9px 100.6px,#f0f8fc 100.6px 107.3px,#e8f0f8 107.3px 114.0px,#f8f8fc 114.0px 120.7px,#f8fcff 120.7px 127.4px,#f8f8fc 127.4px 134.1px,#e8f0f8 134.1px 147.5px,#ffffff 147.5px 154.2px,#ecf4f8 154.2px 160.9px,#f0f8fc 160.9px 167.6px,#d8e8f4 167.6px 174.3px,#f8f8fc 174.3px 187.8px,#ecf4f8 187.8px 194.5px,#ffffff 194.5px 201.2px,#fcfcff 201.2px 207.9px,#fcffff 207.9px 214.6px,#e4f0f8 214.6px 221.3px,#ecf4f8 221.3px 228.0px,#e4f0f8 228.0px 234.7px,#fffcf8 234.7px 241.4px,#e0ecf8 241.4px 248.1px,#d4e4f0 248.1px 254.8px,#f8f8fc 254.8px 261.5px,#f0f8fc 261.5px 268.2px,#e0ecf4 268.2px 274.9px,#e8f0f8 274.9px 281.6px,#f0f8fc 281.6px 288.3px,#f8d8c8 288.3px 295.1px,#f8d0bc 295.1px 301.8px,#e0ecf8 301.8px 315.2px,#f0f4f8 315.2px 321.9px,#f8fcff 321.9px 328.6px,#ecf4f8 328.6px 342.0px,#fffcf8 342.0px 348.7px)"></div>
<div style="left:75.39px;width:1.94px;background:linear-gradient(#ffffff 0.0px 6.7px,#fcffff 6.7px 13.4px,#f4f8fc 13.4px 20.1px,#f0f8fc 20.1px 26.8px,#f4f8fc 26.8px 33.5px,#fcf0e8 33.5px 40.2px,#f0f8fc 40.2px 46.9px,#e0ecf8 46.9px 53.6px,#ecf4f8 53.6px 60.4px,#ffffff 60.4px 67.1px,#fffcfc 67.1px 73.8px,#e8f0f8 73.8px 80.5px,#f4f8fc 80.5px 87.2px,#ffffff 87.2px 93.9px,#f0f8fc 93.9px 100.6px,#e8f0f8 100.6px 114.0px,#ecf4f8 114.0px 120.7px,#ffffff 120.7px 127.4px,#fcffff 127.4px 134.1px,#f4f8fc 134.1px 140.8px,#fcffff 140.8px 147.5px,#e4f0f8 147.5px 154.2px,#fcfcff 154.2px 160.9px,#ffffff 160.9px 167.6px,#e8f0f8 167.6px 174.3px,#ffffff 174.3px 181.1px,#f0f8fc 181.1px 187.8px,#fffffc 187.8px 194.5px,#f8f8fc 194.5px 201.2px,#ecf4f8 201.2px 207.9px,#fcffff 207.9px 214.6px,#f8fcff 214.6px 228.0px,#e8f0f8 228.0px 234.7px,#f0f4fc 234.7px 241.4px,#f8fcff 241.4px 248.1px,#f8f8fc 248.1px 254.8px,#f0f4f8 254.8px 261.5px,#f8f8fc 261.5px 268.2px,#f0f8fc 268.2px 274.9px,#e8f0f8 274.9px 281.6px,#fffcfc 281.6px 288.3px,#e8f0f8 288.3px 295.1px,#f0f8fc 295.1px 301.8px,#cce0f0 301.8px 308.5px,#f8f8fc 308.5px 315.2px,#f8fcff 315.2px 321.9px,#f4f8fc 321.9px 328.6px,#ffffff 328.6px 335.3px,#f0f4fc 335.3px 342.0px,#f8fcff 342.0px 348.7px)"></div>
<div style="left:77.27px;width:1.94px;background:linear-gradient(#fce4d8 0.0px 6.7px,#f0f8fc 6.7px 13.4px,#d4e4f0 13.4px 20.1px,#c4d8ec 20.1px 26.8px,#d4e4f0 26.8px 33.5px,#dce8f4 33.5px 40.2px,#d8e8f4 40.2px 46.9px,#d0e0f0 46.9px 60.4px,#d4e4f0 60.4px 67.1px,#e0e8f4 67.1px 73.8px,#e0ecf8 73.8px 80.5px,#d4e4f0 80.5px 93.9px,#e4f0f8 93.9px 100.6px,#d0e0f0 100.6px 107.3px,#d8e8f4 107.3px 114.0px,#fce8dc 114.0px 120.7px,#e4f0f8 120.7px 127.4px,#c8dcec 127.4px 134.1px,#f8fcff 134.1px 140.8px,#fce0d4 140.8px 147.5px,#e4f0f8 147.5px 154.2px,#cce0f0 154.2px 160.9px,#d4e4f0 160.9px 167.6px,#d0e0f0 167.6px 181.1px,#c8dcf0 181.1px 187.8px,#e4f0f8 187.8px 194.5px,#f0f8fc 194.5px 201.2px,#e0ecf8 201.2px 207.9px,#d4e4f0 207.9px 214.6px,#c0d8e8 214.6px 221.3px,#d0e0f0 221.3px 228.0px,#c0d8e8 228.0px 234.7px,#e4f0f8 234.7px 241.4px,#dce8f4 241.4px 248.1px,#d8e8f4 248.1px 261.5px,#bcd4e8 261.5px 268.2px,#d8e8f4 268.2px 274.9px,#cce0f0 274.9px 281.6px,#e4f0f8 281.6px 288.3px,#c0d8ec 288.3px 295.1px,#d0e0f0 295.1px 301.8px,#c0d8ec 301.8px 308.5px,#bcd4e8 308.5px 315.2px,#e0ecf4 315.2px 321.9px,#c8e0f0 321.9px 328.6px,#d8e8f4 328.6px 335.3px,#d4e4f0 335.3px 342.0px,#d0e0f0 342.0px 348.7px)"></div>
<div style="left:79.16px;width:1.94px;background:linear-gradient(#fcffff 0.0px 6.7px,#ffffff 6.7px 20.1px,#f8f8fc 20.1px 26.8px,#fcf0ec 26.8px 33.5px,#fcf0e8 33.5px 40.2px,#ffffff 40.2px 60.4px,#f8fcff 60.4px 67.1px,#ffffff 67.1px 73.8px,#f0f4f8 73.8px 80.5px,#f0f8fc 80.5px 87.2px,#fcffff 87.2px 93.9px,#fff4f0 93.9px 114.0px,#fcffff 114.0px 120.7px,#fcf0e8 120.7px 127.4px,#fcffff 127.4px 134.1px,#f8d4c0 134.1px 140.8px,#d8e4f0 140.8px 147.5px,#e8f0f8 147.5px 154.2px,#fcffff 154.2px 160.9px,#dce8f4 160.9px 167.6px,#ffffff 167.6px 174.3px,#fffcfc 174.3px 181.1px,#fcffff 181.1px 187.8px,#fcfcff 187.8px 194.5px,#ffffff 194.5px 201.2px,#fcf4ec 201.2px 207.9px,#f4b8a4 207.9px 214.6px,#ecf4f8 214.6px 221.3px,#ffffff 221.3px 228.0px,#f8fcff 228.0px 234.7px,#f0f8fc 234.7px 241.4px,#fcffff 241.4px 254.8px,#fffcfc 254.8px 261.5px,#ecf4f8 261.5px 268.2px,#fcffff 268.2px 274.9px,#ecf4f8 274.9px 281.6px,#fff8f4 281.6px 288.3px,#e8f0f8 288.3px 295.1px,#fcffff 295.1px 301.8px,#e0ecf8 301.8px 308.5px,#ffffff 308.5px 315.2px,#fffffc 315.2px 321.9px,#ffffff 321.9px 342.0px,#f4f8fc 342.0px 348.7px)"></div>
<div style="left:81.05px;width:1.94px;background:linear-gradient(#f4f8fc 0.0px 6.7px,#ffffff 6.7px 13.4px,#f0f8fc 13.4px 20.1px,#f8f8fc 20.1px 26.8px,#e0ecf8 26.8px 33.5px,#f8fcff 33.5px 40.2px,#f8f8fc 40.2px 46.9px,#e8f0f8 46.9px 53.6px,#dce8f4 53.6px 60.4px,#e8f0f8 60.4px 67.1px,#f4f8fc 67.1px 73.8px,#e8f0f8 73.8px 80.5px,#f0f4fc 80.5px 87.2px,#d8e8f4 87.2px 93.9px,#f8fcff 93.9px 100.6px,#ecf4f8 100.6px 107.3px,#e8f0f8 107.3px 114.0px,#fcffff 114.0px 127.4px,#ffffff 127.4px 134.1px,#f0f8fc 134.1px 140.8px,#e0ecf8 140.8px 147.5px,#f0f8fc 147.5px 154.2px,#ecf4f8 154.2px 160.9px,#f0f8fc 160.9px 167.6px,#e8f0f8 167.6px 174.3px,#f8fcfc 174.3px 181.1px,#f8f8fc 181.1px 187.8px,#fcfcff 187.8px 194.5px,#f8fcff 194.5px 201.2px,#fffffc 201.2px 207.9px,#f4f8fc 207.9px 214.6px,#cce0f0 214.6px 221.3px,#e4f0f8 221.3px 228.0px,#fcffff 228.0px 234.7px,#f8fcff 234.7px 241.4px,#e8f0f8 241.4px 248.1px,#f8fcff 248.1px 254.8px,#f0f8fc 254.8px 261.5px,#d8e4f0 261.5px 268.2px,#e0e8f4 268.2px 274.9px,#e8f0f8 274.9px 281.6px,#fcffff 281.6px 288.3px,#e8f0f8 288.3px 301.8px,#d8e4f0 301.8px 308.5px,#e8f0f8 308.5px 315.2px,#d8e4f0 315.2px 321.9px,#f0f8fc 321.9px 328.6px,#f8fcfc 328.6px 335.3px,#f8f8fc 335.3px 342.0px,#dce8f4 342.0px 348.7px)"></div>
<div style="left:82.94px;width:1.94px;background:linear-gradient(#f4f8fc 0.0px 6.7px,#fcffff 6.7px 13.4px,#e0e8f4 13.4px 20.1px,#e4f0f8 20.1px 26.8px,#d8e8f4 26.8px 33.5px,#f8fcff 33.5px 40.2px,#f0f8fc 40.2px 46.9px,#d8e8f4 46.9px 53.6px,#e8f0f8 53.6px 60.4px,#e0ecf4 60.4px 67.1px,#f8fcff 67.1px 73.8px,#e4f0f8 73.8px 80.5px,#e0ecf8 80.5px 87.2px,#e8f0f8 87.2px 93.9px,#f0f8fc 93.9px 100.6px,#e0e8f4 100.6px 107.3px,#f4f8fc 107.3px 114.0px,#e8f0f8 114.0px 120.7px,#f0f4fc 120.7px 134.1px,#e0ecf8 134.1px 140.8px,#ffffff 140.8px 147.5px,#fcffff 147.5px 154.2px,#dce8f4 154.2px 167.6px,#ecf4f8 167.6px 181.1px,#e4f0f8 181.1px 187.8px,#f0f8fc 187.8px 194.5px,#ecf4f8 194.5px 201.2px,#e8f0f8 201.2px 207.9px,#ecf4f8 207.9px 214.6px,#c8dcec 214.6px 221.3px,#e8f0f8 221.3px 228.0px,#d8e4f0 228.0px 234.7px,#dce8f4 234.7px 241.4px,#e4f0f8 241.4px 248.1px,#d4e4f0 248.1px 254.8px,#f8fcff 254.8px 261.5px,#dce8f4 261.5px 268.2px,#f4f8fc 268.2px 274.9px,#e8f0f8 274.9px 281.6px,#fcffff 281.6px 288.3px,#f4f8fc 288.3px 295.1px,#e8f0f8 295.1px 301.8px,#e0e8f4 301.8px 308.5px,#dce8f4 308.5px 315.2px,#d8e8f4 315.2px 321.9px,#f0f4fc 321.9px 328.6px,#fce8e0 328.6px 335.3px,#e8f0f8 335.3px 342.0px,#e0ecf4 342.0px 348.7px)"></div>
<div style="left:84.82px;width:1.94px;background:linear-gradient(#fff8f4 0.0px 6.7px,#fcece4 6.7px 20.1px,#fcffff 20.1px 26.8px,#fff4f0 26.8px 33.5px,#f8d8c8 33.5px 40.2px,#fce8e0 40.2px 46.9px,#fffffc 46.9px 53.6px,#fcffff 53.6px 60.4px,#ffffff 60.4px 73.8px,#e48064 73.8px 80.5px,#fff8f8 80.5px 87.2px,#fcffff 87.2px 93.9px,#f8fcfc 93.9px 100.6px,#fffcfc 100.6px 107.3px,#fcffff 107.3px 114.0px,#ffffff 114.0px 120.7px,#fffcf8 120.7px 127.4px,#fffcfc 127.4px 134.1px,#fcffff 134.1px 140.8px,#e8f0f8 140.8px 147.5px,#f0f8fc 147.5px 154.2px,#ffffff 154.2px 160.9px,#fffcfc 160.9px 167.6px,#fcf4f0 167.6px 174.3px,#fffcf8 174.3px 181.1px,#fcf0e8 181.1px 194.5px,#fff8f4 194.5px 201.2px,#fcf0e8 201.2px 214.6px,#fffffc 214.6px 221.3px,#fff8f4 221.3px 228.0px,#fcf0e8 228.0px 234.7px,#fce8e0 234.7px 241.4px,#fff8f8 241.4px 248.1px,#fff8f4 248.1px 254.8px,#fcece4 254.8px 261.5px,#fffffc 261.5px 268.2px,#fcece4 268.2px 274.9px,#fff4f0 274.9px 281.6px,#fce4d8 281.6px 288.3px,#fffffc 288.3px 295.1px,#fff8f4 295.1px 301.8px,#ecf4f8 301.8px 308.5px,#fcffff 308.5px 321.9px,#fcf0e8 321.9px 328.6px,#fcece4 328.6px 335.3px,#fff8f0 335.3px 342.0px,#ffffff 342.0px 348.7px)"></div>
<div style="left:86.71px;width:1.94px;background:linear-gradient(#fff4f0 0.0px 6.7px,#ffffff 6.7px 20.1px,#f8fcfc 20.1px 26.8px,#fffcfc 26.8px 33.5px,#fcf0ec 33.5px 40.2px,#f0f4fc 40.2px 46.9px,#ffffff 46.9px 53.6px,#f4f8fc 53.6px 60.4px,#f8f8fc 60.4px 67.1px,#ffffff 67.1px 87.2px,#f8fcff 87.2px 93.9px,#fcffff 93.9px 100.6px,#fff8f4 100.6px 107.3px,#ffffff 107.3px 114.0px,#f4f8fc 114.0px 120.7px,#f4b49c 120.7px 127.4px,#ffffff 127.4px 134.1px,#e4f0f8 134.1px 140.8px,#f8fcfc 140.8px 147.5px,#e4f0f8 147.5px 154.2px,#fcffff 154.2px 167.6px,#ffffff 167.6px 174.3px,#f4b8a4 174.3px 181.1px,#fcffff 181.1px 187.8px,#fffcf8 187.8px 194.5px,#f8d0bc 194.5px 201.2px,#ffffff 201.2px 207.9px,#fcece4 207.9px 214.6px,#ffffff 214.6px 221.3px,#fcffff 221.3px 228.0px,#f8fcff 228.0px 234.7px,#fcf0ec 234.7px 241.4px,#ffffff 241.4px 261.5px,#f0f8fc 261.5px 268.2px,#ffffff 268.2px 274.9px,#f4f8fc 274.9px 281.6px,#f8e0d0 281.6px 288.3px,#fcffff 288.3px 301.8px,#f0f8fc 301.8px 308.5px,#e8f0f8 308.5px 315.2px,#f8fcff 315.2px 321.9px,#fffcfc 321.9px 328.6px,#ffffff 328.6px 342.0px,#fcffff 342.0px 348.7px)"></div>
<div style="left:88.60px;width:1.94px;background:linear-gradient(#fcf4ec 0.0px 6.7px,#ffffff 6.7px 20.1px,#fff8f8 20.1px 26.8px,#ffffff 26.8px 33.5px,#fcf0e8 33.5px 40.2px,#fff8f8 40.2px 46.9px,#fcfcff 46.9px 53.6px,#fffffc 53.6px 60.4px,#fcffff 60.4px 67.1px,#fcf0e8 67.1px 73.8px,#fffcfc 73.8px 80.5px,#fffffc 80.5px 87.2px,#fffcfc 87.2px 93.9px,#ffffff 93.9px 120.7px,#fff4f0 120.7px 127.4px,#ffffff 127.4px 134.1px,#dce8f4 134.1px 140.8px,#ecf4f8 140.8px 147.5px,#f0f8fc 147.5px 154.2px,#fff8f4 154.2px 160.9px,#f8fcff 160.9px 167.6px,#ffffff 167.6px 174.3px,#fff8f0 174.3px 181.1px,#fffcfc 181.1px 187.8px,#fcffff 187.8px 194.5px,#fce8e0 194.5px 201.2px,#fff8f8 201.2px 207.9px,#fcf0e8 207.9px 214.6px,#ffffff 214.6px 221.3px,#fff8f4 221.3px 228.0px,#f4f8fc 228.0px 234.7px,#fffffc 234.7px 241.4px,#fcffff 241.4px 248.1px,#ffffff 248.1px 254.8px,#fffcfc 254.8px 261.5px,#f8fcff 261.5px 268.2px,#ffffff 268.2px 274.9px,#f0f8fc 274.9px 281.6px,#fce8e0 281.6px 288.3px,#f8fcff 288.3px 295.1px,#fce8e0 295.1px 301.8px,#f4f8fc 301.8px 308.5px,#f8fcfc 308.5px 315.2px,#fff8f0 315.2px 328.6px,#fcf4ec 328.6px 335.3px,#ffffff 335.3px 342.0px,#fff4f0 342.0px 348.7px)"></div>
<div style="left:90.48px;width:1.94px;background:linear-gradient(#f8d8c8 0.0px 13.4px,#f8ccb8 13.4px 20.1px,#f8d8c8 20.1px 26.8px,#f8e0d0 26.8px 33.5px,#f4b49c 33.5px 40.2px,#f8ccb8 40.2px 46.9px,#f8e0d0 46.9px 53.6px,#f8d0c0 53.6px 60.4px,#fce4d8 60.4px 67.1px,#f8d0c0 67.1px 73.8px,#f8e0d0 73.8px 80.5px,#fce4d8 80.5px 87.2px,#fce0d4 87.2px 93.9px,#fce4d8 93.9px 107.3px,#fce8e0 107.3px 114.0px,#f8d8c8 114.0px 120.7px,#f8d4c4 120.7px 127.4px,#f8c8b4 127.4px 134.1px,#e0ecf4 134.1px 140.8px,#fff4f0 140.8px 147.5px,#f8fcff 147.5px 154.2px,#e07058 154.2px 160.9px,#f8ccb8 160.9px 167.6px,#f8d8c8 167.6px 174.3px,#f8d0bc 174.3px 181.1px,#f8c8b8 181.1px 187.8px,#f8d0c0 187.8px 194.5px,#f8d4c0 194.5px 201.2px,#f4c0a8 201.2px 207.9px,#f8c8b8 207.9px 214.6px,#f8e0d4 214.6px 221.3px,#f8d0c0 221.3px 234.7px,#f8dcd0 234.7px 241.4px,#f8d8c8 241.4px 248.1px,#fce8dc 248.1px 254.8px,#f8ccb8 254.8px 261.5px,#f8dcd0 261.5px 268.2px,#f8d8c8 268.2px 274.9px,#f8d8cc 274.9px 281.6px,#f8c8b0 281.6px 288.3px,#f8e0d4 288.3px 295.1px,#f8dcd0 295.1px 301.8px,#f8ccb8 301.8px 308.5px,#f0a084 308.5px 315.2px,#f8e0d0 315.2px 321.9px,#f8d4c0 321.9px 328.6px,#f8c0ac 328.6px 335.3px,#f8d0c0 335.3px 342.0px,#f8dccc 342.0px 348.7px)"></div>
<div style="left:92.37px;width:1.94px;background:linear-gradient(#fffcfc 0.0px 6.7px,#fcf0e8 6.7px 13.4px,#f8fcff 13.4px 20.1px,#fffffc 20.1px 26.8px,#ffffff 26.8px 33.5px,#fcf0e8 33.5px 40.2px,#ffffff 40.2px 46.9px,#f0f4f8 46.9px 53.6px,#f4f8fc 53.6px 60.4px,#f8fcff 60.4px 67.1px,#ffffff 67.1px 73.8px,#fcf0e8 73.8px 80.5px,#fcf4ec 80.5px 87.2px,#f4f8fc 87.2px 93.9px,#fcffff 93.9px 100.6px,#e8f0f8 100.6px 107.3px,#f0f8fc 107.3px 114.0px,#fffffc 114.0px 120.7px,#fffcf8 120.7px 127.4px,#f0f8fc 127.4px 134.1px,#f8fcff 134.1px 140.8px,#dce8f4 140.8px 147.5px,#e8f0f8 147.5px 154.2px,#ffffff 154.2px 160.9px,#f8fcff 160.9px 167.6px,#ffffff 167.6px 174.3px,#fcf0e8 174.3px 181.1px,#fcffff 181.1px 187.8px,#fff4f0 187.8px 194.5px,#fffcf8 194.5px 201.2px,#fcf0ec 201.2px 207.9px,#ffffff 207.9px 228.0px,#ecf4f8 228.0px 234.7px,#fff8f4 234.7px 241.4px,#f8fcff 241.4px 248.1px,#fcffff 248.1px 261.5px,#ffffff 261.5px 274.9px,#fcffff 274.9px 281.6px,#fce4d8 281.6px 288.3px,#fffffc 288.3px 295.1px,#f8fcff 295.1px 301.8px,#f4f8fc 301.8px 308.5px,#ffffff 308.5px 335.3px,#fff8f4 335.3px 342.0px,#ffffff 342.0px 348.7px)"></div>
<div style="left:94.26px;width:1.94px;background:linear-gradient(#e89074 0.0px 6.7px,#fce8e0 6.7px 13.4px,#fffcfc 13.4px 20.1px,#fffffc 20.1px 26.8px,#fffcfc 26.8px 33.5px,#f8e0d0 33.5px 40.2px,#fcf0ec 40.2px 46.9px,#ffffff 46.9px 53.6px,#fff8f4 53.6px 60.4px,#fffcfc 60.4px 67.1px,#fce8e0 67.1px 73.8px,#fff8f8 73.8px 80.5px,#fcffff 80.5px 87.2px,#ffffff 87.2px 100.6px,#f0f4fc 100.6px 107.3px,#fcf0ec 107.3px 114.0px,#fcf0e8 114.0px 120.7px,#fcf0ec 120.7px 127.4px,#ffffff 127.4px 134.1px,#f4f8fc 134.1px 140.8px,#ffffff 140.8px 147.5px,#e0ecf4 147.5px 154.2px,#fffcfc 154.2px 160.9px,#fcf0e8 160.9px 167.6px,#fff8f4 167.6px 174.3px,#fce8e0 174.3px 181.1px,#fffffc 181.1px 187.8px,#fce4d8 187.8px 194.5px,#fcf4ec 194.5px 201.2px,#fff8f8 201.2px 207.9px,#fce4d8 207.9px 214.6px,#fcffff 214.6px 221.3px,#fce8d8 221.3px 228.0px,#fff8f0 228.0px 234.7px,#fff8f4 234.7px 241.4px,#fff8f8 241.4px 248.1px,#fff4f0 248.1px 254.8px,#fffffc 254.8px 261.5px,#fffcf8 261.5px 268.2px,#fcffff 268.2px 274.9px,#fcf0e8 274.9px 288.3px,#fcf0ec 288.3px 295.1px,#fffcfc 295.1px 301.8px,#ffffff 301.8px 308.5px,#f8d8c8 308.5px 315.2px,#fffcfc 315.2px 321.9px,#fcf0e8 321.9px 328.6px,#fcece4 328.6px 335.3px,#fce8e0 335.3px 342.0px,#ffffff 342.0px 348.7px)"></div>
<div style="left:96.15px;width:1.94px;background:linear-gradient(#f4bca4 0.0px 6.7px,#f4c0a8 6.7px 13.4px,#f8d8cc 13.4px 20.1px,#fce8dc 20.1px 26.8px,#f4b098 26.8px 33.5px,#f8d0c0 33.5px 40.2px,#f4c0a8 40.2px 46.9px,#e47c60 46.9px 53.6px,#f8e0d0 53.6px 60.4px,#f8d8cc 60.4px 73.8px,#fce0d4 73.8px 80.5px,#fce4d8 80.5px 93.9px,#f8dccc 93.9px 100.6px,#fce0d4 100.6px 107.3px,#fce8dc 107.3px 114.0px,#fce8d8 114.0px 120.7px,#f8d8c8 120.7px 127.4px,#fce8dc 127.4px 134.1px,#e0ecf4 134.1px 140.8px,#ecf0f8 140.8px 147.5px,#f0f4f8 147.5px 154.2px,#f8d4c4 154.2px 160.9px,#fcf0e8 160.9px 167.6px,#fce8dc 167.6px 174.3px,#f4b8a0 174.3px 181.1px,#f8d0c0 181.1px 187.8px,#f8c4b0 187.8px 194.5px,#f4bca4 194.5px 201.2px,#f4b49c 201.2px 207.9px,#e47860 207.9px 214.6px,#f8d8c8 214.6px 221.3px,#f8c0ac 221.3px 228.0px,#f8ccb8 228.0px 234.7px,#f4b8a0 234.7px 241.4px,#f8d0c0 241.4px 254.8px,#f8c0ac 254.8px 261.5px,#f8ccb8 261.5px 268.2px,#f8d0c0 268.2px 274.9px,#f8c0ac 274.9px 281.6px,#f0a088 281.6px 288.3px,#f4b8a0 288.3px 295.1px,#fce4d8 295.1px 301.8px,#f8d0c0 301.8px 308.5px,#f8c4b0 308.5px 315.2px,#fce0d4 315.2px 321.9px,#f8c4b0 321.9px 328.6px,#f4bca4 328.6px 335.3px,#f4c0a8 335.3px 342.0px,#f8d4c0 342.0px 348.7px)"></div>
<div style="left:98.03px;width:1.94px;background:linear-gradient(#f8c8b0 0.0px 13.4px,#fcf0e8 13.4px 20.1px,#fffffc 20.1px 26.8px,#fcece4 26.8px 33.5px,#f0ac90 33.5px 40.2px,#fce8e0 40.2px 46.9px,#fcece0 46.9px 53.6px,#fcf4ec 53.6px 60.4px,#f8d8c4 60.4px 67.1px,#fcf0e8 67.1px 73.8px,#fff8f0 73.8px 80.5px,#fcf0ec 80.5px 87.2px,#fff8f0 87.2px 93.9px,#fff8f4 93.9px 100.6px,#fce8dc 100.6px 107.3px,#fce8e0 107.3px 114.0px,#fcf0ec 114.0px 120.7px,#fce8d8 120.7px 127.4px,#fcf0ec 127.4px 134.1px,#e8f0f8 134.1px 140.8px,#f0f4f8 140.8px 147.5px,#f8d8c8 147.5px 154.2px,#fffcf8 154.2px 160.9px,#fcf0ec 160.9px 167.6px,#fce4d8 167.6px 174.3px,#f4b8a4 174.3px 181.1px,#fcf0e8 181.1px 187.8px,#f8d0c0 187.8px 194.5px,#f8d4c0 194.5px 201.2px,#f4bca4 201.2px 207.9px,#f0b094 207.9px 214.6px,#fcece4 214.6px 221.3px,#f8d4c4 221.3px 228.0px,#fcf0e8 228.0px 234.7px,#f8d4c0 234.7px 241.4px,#fce0d4 241.4px 248.1px,#fcece0 248.1px 254.8px,#f8d4c4 254.8px 261.5px,#fcece0 261.5px 268.2px,#f8dcd0 268.2px 274.9px,#f8d8c8 274.9px 281.6px,#f8c8b8 281.6px 288.3px,#f8dccc 288.3px 295.1px,#f8d4c0 295.1px 301.8px,#fff8f0 301.8px 308.5px,#fcece4 308.5px 315.2px,#fcf0e8 315.2px 321.9px,#f8dccc 321.9px 328.6px,#fce0d8 328.6px 335.3px,#f8d0c0 335.3px 342.0px,#fff4f0 342.0px 348.7px)"></div>
<div style="left:99.92px;width:1.94px;background:linear-gradient(#f4b8a0 0.0px 6.7px,#f8c8b4 6.7px 13.4px,#f8dccc 13.4px 20.1px,#fce4d8 20.1px 26.8px,#e07058 26.8px 33.5px,#f0b094 33.5px 40.2px,#f8dcd0 40.2px 46.9px,#fce8e0 46.9px 53.6px,#f8d8c8 53.6px 60.4px,#fce4d8 60.4px 67.1px,#f8d0c0 67.1px 73.8px,#fce8e0 73.8px 80.5px,#fff8f0 80.5px 87.2px,#fce0d4 87.2px 93.9px,#f8c8b4 93.9px 100.6px,#fcf0ec 100.6px 107.3px,#f8dccc 107.3px 114.0px,#fce0d4 114.0px 120.7px,#f8c8b8 120.7px 127.4px,#fce0d4 127.4px 134.1px,#f4f8fc 134.1px 140.8px,#e8f0f8 140.8px 147.5px,#fcffff 147.5px 154.2px,#f8ccbc 154.2px 160.9px,#f8ccb8 160.9px 167.6px,#f8d8c8 167.6px 174.3px,#f4c0a8 174.3px 181.1px,#f8d8cc 181.1px 187.8px,#f4c0a8 187.8px 194.5px,#f0a488 194.5px 201.2px,#f8c0ac 201.2px 207.9px,#f0ac94 207.9px 214.6px,#f8e0d0 214.6px 221.3px,#f8c8b4 221.3px 228.0px,#f8e0d0 228.0px 234.7px,#f8d4c4 234.7px 241.4px,#f8c4b0 241.4px 248.1px,#f4bca4 248.1px 254.8px,#f4c0a8 254.8px 261.5px,#f8e0d0 261.5px 268.2px,#f4b8a0 268.2px 274.9px,#f4bca8 274.9px 281.6px,#f4b098 281.6px 288.3px,#f8dcd0 288.3px 295.1px,#f8c8b8 295.1px 301.8px,#f8d4c4 301.8px 308.5px,#f8d8c8 308.5px 315.2px,#fce4d8 315.2px 321.9px,#ec9078 321.9px 328.6px,#f4bca8 328.6px 335.3px,#f8dccc 335.3px 348.7px)"></div>
<div style="left:101.81px;width:1.94px;background:linear-gradient(#fce8e0 0.0px 6.7px,#f8d4c4 6.7px 13.4px,#fce8dc 13.4px 20.1px,#fffcf8 20.1px 26.8px,#f8dcd0 26.8px 33.5px,#f8d8c8 33.5px 40.2px,#fce0d4 40.2px 46.9px,#fff4f0 46.9px 53.6px,#fffcfc 53.6px 60.4px,#fcffff 60.4px 67.1px,#f8e0d0 67.1px 73.8px,#ffffff 73.8px 80.5px,#fcece0 80.5px 87.2px,#fce4d8 87.2px 93.9px,#fffcfc 93.9px 100.6px,#ffffff 100.6px 120.7px,#fce4d8 120.7px 127.4px,#fff4f0 127.4px 134.1px,#e0ecf4 134.1px 140.8px,#e8f0f8 140.8px 154.2px,#fce8e0 154.2px 160.9px,#f8d8c8 160.9px 167.6px,#f8dcd0 167.6px 174.3px,#f8d0c0 174.3px 187.8px,#f8e0d0 187.8px 194.5px,#f8d0c0 194.5px 201.2px,#fce4d8 201.2px 207.9px,#f8d8c8 207.9px 214.6px,#fcf0e8 214.6px 221.3px,#fce4d8 221.3px 234.7px,#f8dccc 234.7px 241.4px,#fce4d8 241.4px 248.1px,#f8d0c0 248.1px 254.8px,#e47458 254.8px 261.5px,#fce4d8 261.5px 268.2px,#f8d8c8 268.2px 274.9px,#fff4f0 274.9px 281.6px,#c44440 281.6px 288.3px,#fce0d4 288.3px 295.1px,#f8d0bc 295.1px 301.8px,#fcf0e8 301.8px 308.5px,#fce8e0 308.5px 321.9px,#e47c60 321.9px 328.6px,#f8c4b0 328.6px 335.3px,#fce8dc 335.3px 342.0px,#fcf0ec 342.0px 348.7px)"></div>
<div style="left:103.69px;width:1.94px;background:linear-gradient(#fce0d4 0.0px 6.7px,#f09c84 6.7px 26.8px,#f8dccc 26.8px 33.5px,#f8c8b4 33.5px 40.2px,#fcf0e8 40.2px 53.6px,#ffffff 53.6px 60.4px,#fcece4 60.4px 67.1px,#fcece0 67.1px 73.8px,#fff8f4 73.8px 80.5px,#ec947c 80.5px 93.9px,#fff4f0 93.9px 100.6px,#fcf0e8 100.6px 107.3px,#fce8e0 107.3px 114.0px,#f8dccc 114.0px 120.7px,#f8d8cc 120.7px 127.4px,#fffcf8 127.4px 134.1px,#ecf4f8 134.1px 140.8px,#e8f0f8 140.8px 147.5px,#e4f0f8 147.5px 154.2px,#f8dcd0 154.2px 160.9px,#f8e0d0 160.9px 167.6px,#fce4d8 167.6px 174.3px,#f8d8c8 174.3px 181.1px,#f0a084 181.1px 187.8px,#f8dccc 187.8px 194.5px,#f8d8c8 194.5px 201.2px,#f8dcd0 201.2px 207.9px,#f8d8c8 207.9px 214.6px,#f8d8cc 214.6px 228.0px,#fce4d8 228.0px 234.7px,#f8d0bc 234.7px 241.4px,#fce0d4 241.4px 248.1px,#f8dccc 248.1px 254.8px,#f8e0d4 254.8px 261.5px,#f8e0d0 261.5px 268.2px,#f8dccc 268.2px 274.9px,#f8d8cc 274.9px 281.6px,#f8d0bc 281.6px 288.3px,#fce4d8 288.3px 295.1px,#fce0d4 295.1px 301.8px,#fcf0e8 301.8px 308.5px,#fce4d8 308.5px 315.2px,#f8d4c4 315.2px 321.9px,#f8d8c8 321.9px 342.0px,#f8dccc 342.0px 348.7px)"></div>
<div style="left:105.58px;width:1.94px;background:linear-gradient(#f8c8b4 0.0px 6.7px,#f8d4c4 6.7px 13.4px,#f8dcd0 13.4px 20.1px,#fce0d4 20.1px 33.5px,#f0ac90 33.5px 40.2px,#f8c8b0 40.2px 46.9px,#fce8dc 46.9px 53.6px,#f8dcd0 53.6px 60.4px,#f8e0d0 60.4px 67.1px,#f8d0bc 67.1px 73.8px,#f8d0c0 73.8px 80.5px,#f4b8a0 80.5px 87.2px,#fce4d8 87.2px 93.9px,#f8d0c0 93.9px 100.6px,#f8dccc 100.6px 107.3px,#f8d8c8 107.3px 114.0px,#f8dccc 114.0px 120.7px,#f8ccb8 120.7px 127.4px,#f8e0d0 127.4px 134.1px,#e0ecf8 134.1px 140.8px,#f0f8fc 140.8px 147.5px,#e8f0f8 147.5px 154.2px,#f4b498 154.2px 160.9px,#f4b098 160.9px 167.6px,#f4b8a0 167.6px 174.3px,#f8d0c0 174.3px 187.8px,#f0ac94 187.8px 194.5px,#f4b49c 194.5px 201.2px,#ec987c 201.2px 207.9px,#f09c84 207.9px 214.6px,#f8c8b8 214.6px 221.3px,#f8c8b0 221.3px 228.0px,#f8d4c4 228.0px 234.7px,#f4b8a0 234.7px 241.4px,#f4b8a4 241.4px 248.1px,#f8c4b0 248.1px 254.8px,#f4b098 254.8px 261.5px,#f8c4b0 261.5px 268.2px,#f4bca4 268.2px 274.9px,#f4c0a8 274.9px 281.6px,#f4b49c 281.6px 288.3px,#f8c4b0 288.3px 295.1px,#f8d0c0 295.1px 301.8px,#fce4d8 301.8px 308.5px,#f4c0ac 308.5px 315.2px,#fce0d4 315.2px 321.9px,#f4b8a0 321.9px 328.6px,#f8c8b8 328.6px 335.3px,#f4c0a8 335.3px 342.0px,#f8d8c8 342.0px 348.7px)"></div>
<div style="left:107.47px;width:1.94px;background:linear-gradient(#f0ac94 0.0px 6.7px,#ec987c 6.7px 13.4px,#f8c0ac 13.4px 20.1px,#f8d8c8 20.1px 26.8px,#f0ac90 26.8px 33.5px,#e47860 33.5px 40.2px,#f4b098 40.2px 46.9px,#f8d4c0 46.9px 53.6px,#f8ccb8 53.6px 60.4px,#f8d0c0 60.4px 73.8px,#f4bca4 73.8px 80.5px,#f8d0c0 80.5px 87.2px,#e47c60 87.2px 93.9px,#f4b098 93.9px 100.6px,#f8d4c4 100.6px 107.3px,#f8d0c0 107.3px 114.0px,#f4b49c 114.0px 120.7px,#f4bca8 120.7px 127.4px,#f4b49c 127.4px 134.1px,#e4f0f8 134.1px 140.8px,#e8f0f8 140.8px 147.5px,#e0ecf8 147.5px 154.2px,#f0ac90 154.2px 160.9px,#f8c0ac 160.9px 167.6px,#f4bca8 167.6px 174.3px,#ec9078 174.3px 181.1px,#f4b098 181.1px 187.8px,#f4c0a8 187.8px 194.5px,#e88870 194.5px 201.2px,#f0b094 201.2px 207.9px,#e89074 207.9px 214.6px,#f0b094 214.6px 221.3px,#f4bca8 221.3px 228.0px,#dc6850 228.0px 234.7px,#f4b8a0 234.7px 241.4px,#f8c8b8 241.4px 248.1px,#f4bca8 248.1px 254.8px,#c84c44 254.8px 261.5px,#f4b8a0 261.5px 274.9px,#f4b4a0 274.9px 281.6px,#f0a48c 281.6px 288.3px,#f8c4b0 288.3px 295.1px,#f4b49c 295.1px 301.8px,#f8c8b0 301.8px 308.5px,#f8d0c0 308.5px 315.2px,#f0ac94 315.2px 321.9px,#ec9880 321.9px 335.3px,#f0a48c 335.3px 342.0px,#f8ccb8 342.0px 348.7px)"></div>
<div style="left:109.35px;width:1.94px;background:linear-gradient(#f8d4c4 0.0px 6.7px,#f09c84 6.7px 26.8px,#f8d4c4 26.8px 33.5px,#f4bca4 33.5px 40.2px,#f8d0c0 40.2px 46.9px,#f8dcd0 46.9px 53.6px,#fce8d8 53.6px 60.4px,#fce4d8 60.4px 73.8px,#fcf0ec 73.8px 80.5px,#fff8f8 80.5px 87.2px,#fcf0e8 87.2px 93.9px,#ec9c80 93.9px 100.6px,#fcece0 100.6px 107.3px,#f8dcd0 107.3px 114.0px,#e88870 114.0px 120.7px,#f8c4b0 120.7px 127.4px,#f8ccb8 127.4px 134.1px,#f8f8fc 134.1px 140.8px,#e8f0f8 140.8px 147.5px,#ecf0f8 147.5px 154.2px,#f8d0bc 154.2px 160.9px,#f8d4c4 160.9px 174.3px,#f8c8b4 174.3px 181.1px,#f8d4c4 181.1px 187.8px,#f8dccc 187.8px 194.5px,#f4c0a8 194.5px 201.2px,#f4b49c 201.2px 207.9px,#f4bca8 207.9px 214.6px,#f8d0c0 214.6px 221.3px,#f8d0bc 221.3px 228.0px,#f8e0d4 228.0px 234.7px,#f4bca4 234.7px 241.4px,#f8d8c8 241.4px 248.1px,#f8dcd0 248.1px 254.8px,#f4bca8 254.8px 261.5px,#f8d8c8 261.5px 268.2px,#f8ccb8 268.2px 274.9px,#f8d4c4 274.9px 281.6px,#f4bca8 281.6px 288.3px,#f8d4c4 288.3px 295.1px,#f8ccb8 295.1px 301.8px,#f8dcd0 301.8px 308.5px,#f8d4c0 308.5px 315.2px,#f8ccbc 315.2px 321.9px,#f4bca8 321.9px 328.6px,#f8c8b0 328.6px 335.3px,#f8c0ac 335.3px 342.0px,#f8e0d0 342.0px 348.7px)"></div>
<div style="left:111.24px;width:1.94px;background:linear-gradient(#fcf0e8 0.0px 6.7px,#ec9c80 6.7px 13.4px,#fcf0e4 13.4px 20.1px,#fffffc 20.1px 26.8px,#fff4f0 26.8px 33.5px,#f8d4c4 33.5px 40.2px,#f4b098 40.2px 46.9px,#fff4f0 46.9px 53.6px,#fcf0ec 53.6px 60.4px,#fcffff 60.4px 67.1px,#fff4f0 67.1px 73.8px,#fff8f0 73.8px 80.5px,#ffffff 80.5px 93.9px,#fffcfc 93.9px 100.6px,#ffffff 100.6px 107.3px,#fcf0ec 107.3px 114.0px,#fff4f0 114.0px 120.7px,#fcf0e8 120.7px 127.4px,#fffcf8 127.4px 134.1px,#e0e8f4 134.1px 140.8px,#ffffff 140.8px 154.2px,#fce8e0 154.2px 160.9px,#fff8f8 160.9px 167.6px,#fffffc 167.6px 174.3px,#fcf0e8 174.3px 181.1px,#fff4f0 181.1px 187.8px,#fcf0e8 187.8px 194.5px,#f8d8c8 194.5px 201.2px,#fcece4 201.2px 207.9px,#fce4d8 207.9px 214.6px,#fcf0e8 214.6px 221.3px,#fcece0 221.3px 228.0px,#fcf0e8 228.0px 234.7px,#ec9478 234.7px 241.4px,#fffffc 241.4px 248.1px,#fff8f0 248.1px 254.8px,#fffcf8 254.8px 261.5px,#fff8f4 261.5px 268.2px,#fff8f0 268.2px 274.9px,#f8fcff 274.9px 281.6px,#fce8dc 281.6px 288.3px,#fff8f0 288.3px 295.1px,#fcece4 295.1px 301.8px,#ffffff 301.8px 308.5px,#fffcfc 308.5px 315.2px,#fcf0e8 315.2px 321.9px,#fce8dc 321.9px 328.6px,#fff8f4 328.6px 335.3px,#ffffff 335.3px 342.0px,#f8d4c0 342.0px 348.7px)"></div>
<div style="left:113.13px;width:1.94px;background:linear-gradient(#fff4f0 0.0px 6.7px,#fffcfc 6.7px 13.4px,#f4f8fc 13.4px 20.1px,#f0f8fc 20.1px 26.8px,#ffffff 26.8px 33.5px,#fffcfc 33.5px 40.2px,#f4f8fc 40.2px 46.9px,#ffffff 46.9px 60.4px,#fcffff 60.4px 67.1px,#fcf0ec 67.1px 73.8px,#ffffff 73.8px 80.5px,#fcffff 80.5px 87.2px,#ffffff 87.2px 93.9px,#f8fcff 93.9px 100.6px,#ffffff 100.6px 107.3px,#fcffff 107.3px 120.7px,#fff4f0 120.7px 127.4px,#ffffff 127.4px 134.1px,#e0ecf8 134.1px 140.8px,#e8f0f8 140.8px 147.5px,#dce8f4 147.5px 154.2px,#fffffc 154.2px 160.9px,#fff8f4 160.9px 167.6px,#fffffc 167.6px 174.3px,#fff8f8 174.3px 181.1px,#f8fcff 181.1px 187.8px,#f4c0ac 187.8px 194.5px,#fff8f4 194.5px 201.2px,#fcffff 201.2px 207.9px,#fff8f0 207.9px 214.6px,#f0f4f8 214.6px 221.3px,#fffcfc 221.3px 228.0px,#fcffff 228.0px 234.7px,#ffffff 234.7px 241.4px,#fcffff 241.4px 248.1px,#ffffff 248.1px 254.8px,#fff8f8 254.8px 261.5px,#ffffff 261.5px 274.9px,#fffffc 274.9px 281.6px,#fcf4ec 281.6px 288.3px,#fcffff 288.3px 295.1px,#f4f8fc 295.1px 301.8px,#fcfcff 301.8px 315.2px,#f4f8fc 315.2px 321.9px,#ffffff 321.9px 335.3px,#fffcfc 335.3px 342.0px,#fcffff 342.0px 348.7px)"></div>
<div style="left:115.02px;width:1.94px;background:linear-gradient(#ffffff 0.0px 26.8px,#f8fcff 26.8px 33.5px,#fff8f0 33.5px 40.2px,#fffcfc 40.2px 46.9px,#f0f8fc 46.9px 53.6px,#ffffff 53.6px 60.4px,#fcfcff 60.4px 67.1px,#fcf0e8 67.1px 73.8px,#fffcfc 73.8px 80.5px,#fcffff 80.5px 93.9px,#fffcf8 93.9px 100.6px,#fcffff 100.6px 114.0px,#fffffc 114.0px 120.7px,#fcf0e8 120.7px 127.4px,#ffffff 127.4px 134.1px,#d8e8f4 134.1px 140.8px,#dce8f4 140.8px 147.5px,#e8f0f8 147.5px 154.2px,#ffffff 154.2px 160.9px,#fcffff 160.9px 167.6px,#ffffff 167.6px 174.3px,#fff8f8 174.3px 181.1px,#ffffff 181.1px 187.8px,#f4f8fc 187.8px 194.5px,#fcece0 194.5px 201.2px,#ffffff 201.2px 207.9px,#fcece0 207.9px 214.6px,#ffffff 214.6px 228.0px,#f8fcff 228.0px 234.7px,#ffffff 234.7px 241.4px,#fcf4ec 241.4px 248.1px,#f8fcff 248.1px 254.8px,#fff8f0 254.8px 261.5px,#f0f8fc 261.5px 268.2px,#ffffff 268.2px 274.9px,#f8f8fc 274.9px 281.6px,#fff4f0 281.6px 288.3px,#f8fcff 288.3px 295.1px,#f4f8fc 295.1px 301.8px,#ecf4f8 301.8px 308.5px,#ffffff 308.5px 315.2px,#fcfcff 315.2px 321.9px,#f8fcff 321.9px 328.6px,#fffffc 328.6px 335.3px,#fffcfc 335.3px 342.0px,#fffffc 342.0px 348.7px)"></div>
<div style="left:116.90px;width:1.94px;background:linear-gradient(#f8fcff 0.0px 13.4px,#e8f0f8 13.4px 20.1px,#f8fcff 20.1px 26.8px,#fcffff 26.8px 33.5px,#fff8f4 33.5px 40.2px,#fcffff 40.2px 46.9px,#ecf4f8 46.9px 53.6px,#e0ecf8 53.6px 60.4px,#e8f0f8 60.4px 67.1px,#fcffff 67.1px 73.8px,#ecf4f8 73.8px 80.5px,#f0f8fc 80.5px 87.2px,#f4f8fc 87.2px 93.9px,#f8fcfc 93.9px 100.6px,#f8fcff 100.6px 107.3px,#fcffff 107.3px 114.0px,#f0f4f8 114.0px 120.7px,#fcffff 120.7px 134.1px,#e8f0f8 134.1px 147.5px,#f0f8fc 147.5px 154.2px,#f8fcfc 154.2px 160.9px,#f0f4f8 160.9px 167.6px,#f0f8fc 167.6px 174.3px,#f4f8fc 174.3px 181.1px,#f0f4f8 181.1px 187.8px,#ecf4f8 187.8px 194.5px,#f8fcff 194.5px 201.2px,#ffffff 201.2px 207.9px,#fcffff 207.9px 214.6px,#f4f8fc 214.6px 221.3px,#f8d8c8 221.3px 228.0px,#fcfcff 228.0px 234.7px,#ecf4f8 234.7px 241.4px,#e0e8f4 241.4px 248.1px,#f0f4f8 248.1px 254.8px,#ffffff 254.8px 261.5px,#ecf4f8 261.5px 268.2px,#f0f4f8 268.2px 274.9px,#f0f8fc 274.9px 281.6px,#fffffc 281.6px 288.3px,#e8f0f8 288.3px 301.8px,#dce8f4 301.8px 308.5px,#f4f8fc 308.5px 315.2px,#e4ecf8 315.2px 321.9px,#ffffff 321.9px 328.6px,#fcffff 328.6px 342.0px,#d0e0f0 342.0px 348.7px)"></div>
<div style="left:118.79px;width:1.94px;background:linear-gradient(#fcf0e8 0.0px 6.7px,#ffffff 6.7px 13.4px,#fcffff 13.4px 20.1px,#f8e0d0 20.1px 26.8px,#fff8f8 26.8px 33.5px,#fcf0e8 33.5px 40.2px,#fffcfc 40.2px 46.9px,#fffffc 46.9px 53.6px,#ffffff 53.6px 60.4px,#fff8f4 60.4px 67.1px,#ffffff 67.1px 73.8px,#fffffc 73.8px 80.5px,#fcffff 80.5px 87.2px,#ffffff 87.2px 100.6px,#fffcfc 100.6px 107.3px,#fff4f0 107.3px 114.0px,#f0f4fc 114.0px 120.7px,#fff8f4 120.7px 134.1px,#e4f0f8 134.1px 147.5px,#f8fcfc 147.5px 154.2px,#ffffff 154.2px 167.6px,#f8fcff 167.6px 174.3px,#ffffff 174.3px 181.1px,#e8f0f8 181.1px 187.8px,#fff8f4 187.8px 194.5px,#fcf0e8 194.5px 201.2px,#fffcfc 201.2px 207.9px,#fff8f4 207.9px 214.6px,#ecf4f8 214.6px 221.3px,#fcffff 221.3px 228.0px,#f0f8fc 228.0px 234.7px,#fff8f4 234.7px 241.4px,#fffcfc 241.4px 248.1px,#ffffff 248.1px 254.8px,#fff8f4 254.8px 261.5px,#fcffff 261.5px 268.2px,#ffffff 268.2px 281.6px,#fcf0e8 281.6px 288.3px,#fcffff 288.3px 301.8px,#fffcfc 301.8px 308.5px,#fffffc 308.5px 315.2px,#e8f0f8 315.2px 321.9px,#fcffff 321.9px 328.6px,#fffcfc 328.6px 342.0px,#ffffff 342.0px 348.7px)"></div>
<div style="left:120.68px;width:1.94px;background:linear-gradient(#fffcf8 0.0px 6.7px,#fff8f0 6.7px 13.4px,#fffffc 13.4px 20.1px,#f8ccb8 20.1px 26.8px,#fcf0e4 26.8px 33.5px,#fff8f8 33.5px 40.2px,#fce8dc 40.2px 46.9px,#ffffff 46.9px 60.4px,#f8fcff 60.4px 67.1px,#ffffff 67.1px 73.8px,#fcece0 73.8px 80.5px,#f8f8fc 80.5px 87.2px,#fff8f4 87.2px 93.9px,#fffcfc 93.9px 100.6px,#ffffff 100.6px 107.3px,#fcf0ec 107.3px 114.0px,#fffffc 114.0px 120.7px,#fcece0 120.7px 127.4px,#fff8f8 127.4px 134.1px,#fcffff 134.1px 140.8px,#e8f0f8 140.8px 147.5px,#d0e0f0 147.5px 154.2px,#f8fcff 154.2px 160.9px,#fffcfc 160.9px 167.6px,#ffffff 167.6px 174.3px,#fffcfc 174.3px 181.1px,#fff8f0 181.1px 187.8px,#ffffff 187.8px 201.2px,#fff8f0 201.2px 207.9px,#fff8f8 207.9px 214.6px,#fffffc 214.6px 221.3px,#fff4f0 221.3px 228.0px,#f4f8fc 228.0px 234.7px,#ffffff 234.7px 241.4px,#fff4f0 241.4px 248.1px,#ffffff 248.1px 254.8px,#fff8f4 254.8px 261.5px,#f0f8fc 261.5px 268.2px,#fcffff 268.2px 274.9px,#ffffff 274.9px 281.6px,#fff8f8 281.6px 288.3px,#ffffff 288.3px 301.8px,#e4ecf8 301.8px 308.5px,#fce4d8 308.5px 315.2px,#f8fcff 315.2px 321.9px,#ffffff 321.9px 328.6px,#fffcfc 328.6px 335.3px,#fcffff 335.3px 348.7px)"></div>
<div style="left:122.56px;width:1.94px;background:linear-gradient(#fcffff 0.0px 6.7px,#f4bca4 6.7px 13.4px,#e0ecf4 13.4px 20.1px,#e4f0f8 20.1px 26.8px,#f8fcfc 26.8px 33.5px,#f0f8fc 33.5px 40.2px,#e8f0f8 40.2px 53.6px,#e4f0f8 53.6px 60.4px,#ecf4f8 60.4px 67.1px,#ffffff 67.1px 73.8px,#dce8f4 73.8px 80.5px,#e8f0f8 80.5px 93.9px,#e0ecf8 93.9px 107.3px,#f8f8fc 107.3px 114.0px,#dce8f4 114.0px 120.7px,#f4f8fc 120.7px 127.4px,#e4f0f8 127.4px 134.1px,#dce8f4 134.1px 140.8px,#e0ecf8 140.8px 147.5px,#e8f0f8 147.5px 160.9px,#d0e0f0 160.9px 167.6px,#f0f8fc 167.6px 174.3px,#f8d8c8 174.3px 181.1px,#f0f8fc 181.1px 187.8px,#e8f0f8 187.8px 194.5px,#ecf4f8 194.5px 201.2px,#f8fcff 201.2px 207.9px,#f8f8fc 207.9px 214.6px,#d0e0f0 214.6px 221.3px,#f8f8fc 221.3px 228.0px,#dce8f4 228.0px 234.7px,#ecf4f8 234.7px 241.4px,#e0ecf8 241.4px 248.1px,#d8e8f4 248.1px 254.8px,#e8f0f8 254.8px 261.5px,#e0e8f4 261.5px 268.2px,#f0f4f8 268.2px 274.9px,#dce8f4 274.9px 281.6px,#f4f8fc 281.6px 288.3px,#e0ecf8 288.3px 295.1px,#f0f8fc 295.1px 301.8px,#c8dcf0 301.8px 308.5px,#d4e4f0 308.5px 315.2px,#d8e8f4 315.2px 321.9px,#e8f0f8 321.9px 328.6px,#fffcfc 328.6px 335.3px,#e4f0f8 335.3px 342.0px,#f8fcff 342.0px 348.7px)"></div>
<div style="left:124.45px;width:1.94px;background:linear-gradient(#fcffff 0.0px 6.7px,#f8f8fc 6.7px 13.4px,#f4f8fc 13.4px 20.1px,#e4f0f8 20.1px 26.8px,#fcffff 26.8px 33.5px,#fff8f8 33.5px 40.2px,#fffffc 40.2px 46.9px,#fcffff 46.9px 53.6px,#f8d4c4 53.6px 60.4px,#f0f8fc 60.4px 67.1px,#ffffff 67.1px 73.8px,#fffffc 73.8px 80.5px,#fcfcff 80.5px 87.2px,#f4b098 87.2px 93.9px,#ffffff 93.9px 100.6px,#ecf4f8 100.6px 107.3px,#f4f8fc 107.3px 114.0px,#e0ecf8 114.0px 120.7px,#f8f8fc 120.7px 127.4px,#f0f8fc 127.4px 134.1px,#fcffff 134.1px 140.8px,#e8f0f8 140.8px 147.5px,#dce8f4 147.5px 154.2px,#ecf4f8 154.2px 160.9px,#fcffff 160.9px 167.6px,#fffffc 167.6px 174.3px,#ffffff 174.3px 181.1px,#f0f4f8 181.1px 187.8px,#fffcfc 187.8px 194.5px,#fcffff 194.5px 201.2px,#ffffff 201.2px 207.9px,#f8fcff 207.9px 214.6px,#e4f0f8 214.6px 221.3px,#fcffff 221.3px 228.0px,#ecf4f8 228.0px 234.7px,#f8d0c0 234.7px 241.4px,#ffffff 241.4px 248.1px,#f8d8c8 248.1px 254.8px,#ffffff 254.8px 261.5px,#f4f8fc 261.5px 268.2px,#f0f8fc 268.2px 281.6px,#ffffff 281.6px 288.3px,#f8fcff 288.3px 295.1px,#f4f8fc 295.1px 301.8px,#c8dcf0 301.8px 308.5px,#e8f0f8 308.5px 315.2px,#f0f4f8 315.2px 321.9px,#f4f8fc 321.9px 328.6px,#f8e0d0 328.6px 335.3px,#e8f0f8 335.3px 342.0px,#f4f8fc 342.0px 348.7px)"></div>
<div style="left:126.34px;width:1.94px;background:linear-gradient(#fffcf8 0.0px 6.7px,#ffffff 6.7px 13.4px,#fcffff 13.4px 26.8px,#ffffff 26.8px 33.5px,#fcffff 33.5px 40.2px,#fffffc 40.2px 46.9px,#f4f8fc 46.9px 53.6px,#ffffff 53.6px 60.4px,#fcffff 60.4px 67.1px,#fffcfc 67.1px 73.8px,#f0f8fc 73.8px 80.5px,#ffffff 80.5px 87.2px,#f09c84 87.2px 107.3px,#f8fcfc 107.3px 114.0px,#fffffc 114.0px 120.7px,#ffffff 120.7px 134.1px,#e8f0f8 134.1px 140.8px,#e0ecf4 140.8px 147.5px,#f0f8fc 147.5px 154.2px,#ffffff 154.2px 160.9px,#f8fcff 160.9px 167.6px,#e8f0f8 167.6px 174.3px,#ffffff 174.3px 181.1px,#e0ecf8 181.1px 187.8px,#ffffff 187.8px 194.5px,#fffcfc 194.5px 201.2px,#ffffff 201.2px 214.6px,#f0f4f8 214.6px 221.3px,#ffffff 221.3px 228.0px,#e0ecf4 228.0px 234.7px,#f0f8fc 234.7px 241.4px,#f4f8fc 241.4px 248.1px,#f8fcff 248.1px 254.8px,#f8f8fc 254.8px 261.5px,#ffffff 261.5px 274.9px,#f0f4f8 274.9px 281.6px,#fffcfc 281.6px 288.3px,#ffffff 288.3px 295.1px,#fff8f4 295.1px 301.8px,#f0f8fc 301.8px 308.5px,#ffffff 308.5px 315.2px,#fcffff 315.2px 321.9px,#f8f8fc 321.9px 328.6px,#f0f8fc 328.6px 335.3px,#f8f8fc 335.3px 342.0px,#ffffff 342.0px 348.7px)"></div>
<div style="left:128.23px;width:1.94px;background:linear-gradient(#e0ecf8 0.0px 6.7px,#fcffff 6.7px 13.4px,#f8fcff 13.4px 20.1px,#dce8f4 20.1px 26.8px,#e8f0f8 26.8px 33.5px,#ecf4f8 33.5px 40.2px,#e0ecf8 40.2px 46.9px,#dce8f4 46.9px 53.6px,#e0ecf8 53.6px 60.4px,#d8e8f4 60.4px 67.1px,#f8fcff 67.1px 73.8px,#e4f0f8 73.8px 80.5px,#dce8f4 80.5px 87.2px,#e8f0f8 87.2px 93.9px,#fcffff 93.9px 100.6px,#d8e8f4 100.6px 107.3px,#dce8f4 107.3px 114.0px,#d8e8f4 114.0px 120.7px,#ffffff 120.7px 127.4px,#e0ecf8 127.4px 134.1px,#e8f0f8 134.1px 140.8px,#ffffff 140.8px 147.5px,#cce0f0 147.5px 154.2px,#f4f8fc 154.2px 160.9px,#cce0f0 160.9px 167.6px,#d8e8f4 167.6px 174.3px,#e8f0f8 174.3px 181.1px,#f0f8fc 181.1px 187.8px,#cce0f0 187.8px 194.5px,#ecf4f8 194.5px 201.2px,#fcffff 201.2px 207.9px,#d8e8f4 207.9px 221.3px,#e8f0f8 221.3px 228.0px,#e0ecf8 228.0px 234.7px,#f0f8fc 234.7px 241.4px,#d8e8f4 241.4px 248.1px,#e8f0f8 248.1px 254.8px,#d8e8f4 254.8px 268.2px,#dce8f4 268.2px 274.9px,#d8e8f0 274.9px 281.6px,#ecf4f8 281.6px 288.3px,#e8f0f8 288.3px 295.1px,#e0ecf8 295.1px 301.8px,#d8e8f4 301.8px 308.5px,#d0e0f0 308.5px 315.2px,#e4f0f8 315.2px 321.9px,#f8e0d0 321.9px 328.6px,#dce8f4 328.6px 335.3px,#e0ecf8 335.3px 342.0px,#f0f8fc 342.0px 348.7px)"></div>
<div style="left:130.11px;width:1.94px;background:linear-gradient(#e0ecf4 0.0px 6.7px,#f8fcff 6.7px 13.4px,#f0f8fc 13.4px 20.1px,#d8e8f0 20.1px 26.8px,#fcffff 26.8px 33.5px,#e8f0f8 33.5px 40.2px,#e4f0f8 40.2px 46.9px,#f8fcff 46.9px 53.6px,#e0e8f4 53.6px 60.4px,#e8f0f8 60.4px 67.1px,#ecf4f8 67.1px 73.8px,#e8f0f8 73.8px 80.5px,#d8e8f4 80.5px 87.2px,#e4f0f8 87.2px 93.9px,#e8f0f8 93.9px 114.0px,#f4f8fc 114.0px 120.7px,#f0f8fc 120.7px 127.4px,#ecf4f8 127.4px 134.1px,#e8f0f8 134.1px 140.8px,#e4ecf8 140.8px 147.5px,#ffffff 147.5px 154.2px,#d8e8f4 154.2px 167.6px,#fcfcff 167.6px 174.3px,#f8d0bc 174.3px 181.1px,#e0e8f4 181.1px 187.8px,#d8e8f4 187.8px 194.5px,#f8fcfc 194.5px 201.2px,#f4f8fc 201.2px 207.9px,#f0f8fc 207.9px 214.6px,#d8e8f4 214.6px 221.3px,#e8f0f8 221.3px 228.0px,#d0e0f0 228.0px 234.7px,#e0ecf4 234.7px 248.1px,#dce8f4 248.1px 254.8px,#e0ecf4 254.8px 261.5px,#cce0f0 261.5px 268.2px,#d8e8f4 268.2px 281.6px,#ffffff 281.6px 288.3px,#e0ecf8 288.3px 295.1px,#e0ecf4 295.1px 301.8px,#c8dcec 301.8px 308.5px,#e0ecf4 308.5px 315.2px,#d8e4f0 315.2px 321.9px,#e8f0f8 321.9px 328.6px,#ecf0f8 328.6px 335.3px,#d8e8f4 335.3px 342.0px,#d8e8f0 342.0px 348.7px)"></div>
</div>
<svg width="520" height="426" viewBox="0 0 520 426">
<text x="6.9" y="15.9" font-size="11" fill="#000" text-anchor="start" font-weight="bold">A</text>
<text x="7.0" y="163.1" font-size="11" fill="#000" text-anchor="start" font-weight="bold">B</text>
<text x="7.9" y="298.7" font-size="11" fill="#000" text-anchor="start" font-weight="bold">C</text>
<text x="155.3" y="16.0" font-size="11" fill="#000" text-anchor="start" font-weight="bold">D</text>
<text x="155.2" y="205.3" font-size="11" fill="#000" text-anchor="start" font-weight="bold">E</text>
<text x="320.5" y="16.0" font-size="11" fill="#000" text-anchor="start" font-weight="bold">F</text>
<line x1="37.6" y1="30" x2="37.6" y2="100.7" stroke="#111" stroke-width="1.15" stroke-dasharray="1.5 1.6"/>
<line x1="38.4" y1="88.6" x2="87" y2="88.6" stroke="#111" stroke-width="1.15" stroke-dasharray="1.5 1.6"/>
<line x1="87" y1="88.6" x2="87" y2="100.7" stroke="#111" stroke-width="1.15" stroke-dasharray="1.5 1.6"/>
<circle cx="37.8" cy="30.2" r="2.7" fill="#111"/>
<circle cx="37.6" cy="100.8" r="2.7" fill="#111"/>
<circle cx="86.8" cy="100.8" r="2.7" fill="#111"/>
<text x="70" y="27.6" font-size="6.3" fill="#231f20" text-anchor="middle" font-weight="normal" textLength="49" lengthAdjust="spacingAndGlyphs" stroke="#231f20" stroke-width="0.12">Never Responders</text>
<text x="70.2" y="34.4" font-size="6.3" fill="#231f20" text-anchor="middle" font-weight="normal" textLength="21" lengthAdjust="spacingAndGlyphs" stroke="#231f20" stroke-width="0.12">(n = 26)</text>
<text x="55.2" y="104.0" font-size="6.3" fill="#231f20" text-anchor="middle" font-weight="normal" textLength="17" lengthAdjust="spacingAndGlyphs" stroke="#231f20" stroke-width="0.12">– VTE</text>
<text x="54.2" y="111.0" font-size="6.3" fill="#231f20" text-anchor="middle" font-weight="normal" textLength="21" lengthAdjust="spacingAndGlyphs" stroke="#231f20" stroke-width="0.12">(n = 18)</text>
<text x="103.6" y="104.0" font-size="6.3" fill="#231f20" text-anchor="middle" font-weight="normal" textLength="17" lengthAdjust="spacingAndGlyphs" stroke="#231f20" stroke-width="0.12">+ VTE</text>
<text x="103.2" y="111.0" font-size="6.3" fill="#231f20" text-anchor="middle" font-weight="normal" textLength="18.5" lengthAdjust="spacingAndGlyphs" stroke="#231f20" stroke-width="0.12">(n = 8)</text>
<g transform="translate(48.9,39.1) scale(1.0)" fill="#222">
<circle cx="2.4" cy="3.1" r="3.1"/>
<path d="M3.3,8.6 L5.0,6.8 L12.0,13.1 L18.4,13.1 L18.4,16.4 L10.6,16.4 Z"/>
<path d="M0,9.6 L9.0,18.2 L19.7,18.2 L19.7,13.6 L33.6,13.6 Q35.6,13.6 35.6,15.6 L35.6,21.6 L0,21.6 Z"/>
<rect x="13.4" y="24.2" width="7.6" height="3"/>
<rect x="0.8" y="26.0" width="32.6" height="3.4" rx="1.7"/>
<circle cx="7.0" cy="30.9" r="1.2" fill="none" stroke="#222" stroke-width="0.85"/>
<circle cx="26.6" cy="30.9" r="1.2" fill="none" stroke="#222" stroke-width="0.85"/>
</g>
<g transform="translate(40.9,114.0) scale(0.77)" fill="#50bb5e">
<circle cx="2.4" cy="3.1" r="2.6"/>
<path d="M3.3,8.6 L5.0,6.8 L12.0,13.1 L18.4,13.1 L18.4,16.4 L10.6,16.4 Z"/>
<path d="M0,9.6 L9.0,18.2 L19.7,18.2 L19.7,13.6 L33.6,13.6 Q35.6,13.6 35.6,15.6 L35.6,21.6 L0,21.6 Z"/>
<rect x="13.4" y="24.2" width="7.6" height="3"/>
<rect x="0.8" y="26.0" width="32.6" height="3.4" rx="1.7"/>
<circle cx="7.0" cy="30.9" r="1.2" fill="none" stroke="#50bb5e" stroke-width="0.85"/>
<circle cx="26.6" cy="30.9" r="1.2" fill="none" stroke="#50bb5e" stroke-width="0.85"/>
</g>
<g transform="translate(90.7,114.0) scale(0.77)" fill="#6b3589">
<circle cx="2.4" cy="3.1" r="2.9"/>
<path d="M3.3,8.6 L5.0,6.8 L12.0,13.1 L18.4,13.1 L18.4,16.4 L10.6,16.4 Z"/>
<path d="M0,9.6 L9.0,18.2 L19.7,18.2 L19.7,13.6 L33.6,13.6 Q35.6,13.6 35.6,15.6 L35.6,21.6 L0,21.6 Z"/>
<rect x="13.4" y="24.2" width="7.6" height="3"/>
<rect x="0.8" y="26.0" width="32.6" height="3.4" rx="1.7"/>
<circle cx="7.0" cy="30.9" r="1.2" fill="none" stroke="#6b3589" stroke-width="0.85"/>
<circle cx="26.6" cy="30.9" r="1.2" fill="none" stroke="#6b3589" stroke-width="0.85"/>
</g>
<line x1="31.5" y1="168" x2="31.5" y2="249.4" stroke="#111" stroke-width="0.9"/>
<line x1="31.0" y1="249.4" x2="143.3" y2="249.4" stroke="#111" stroke-width="0.9"/>
<line x1="29.2" y1="172.3" x2="31.5" y2="172.3" stroke="#111" stroke-width="0.8"/>
<text x="24.8" y="174.5" font-size="6.62" fill="#231f20" text-anchor="end" font-weight="normal" textLength="7.01" lengthAdjust="spacingAndGlyphs" stroke="#231f20" stroke-width="0.12">16</text>
<line x1="29.2" y1="191.8" x2="31.5" y2="191.8" stroke="#111" stroke-width="0.8"/>
<text x="24.8" y="194.0" font-size="6.62" fill="#231f20" text-anchor="end" font-weight="normal" textLength="7.01" lengthAdjust="spacingAndGlyphs" stroke="#231f20" stroke-width="0.12">12</text>
<line x1="29.2" y1="211.3" x2="31.5" y2="211.3" stroke="#111" stroke-width="0.8"/>
<text x="24.8" y="213.5" font-size="6.62" fill="#231f20" text-anchor="end" font-weight="normal" textLength="3.5" lengthAdjust="spacingAndGlyphs" stroke="#231f20" stroke-width="0.12">8</text>
<line x1="29.2" y1="230.8" x2="31.5" y2="230.8" stroke="#111" stroke-width="0.8"/>
<text x="24.8" y="233.0" font-size="6.62" fill="#231f20" text-anchor="end" font-weight="normal" textLength="3.5" lengthAdjust="spacingAndGlyphs" stroke="#231f20" stroke-width="0.12">4</text>
<line x1="36.5" y1="249.4" x2="36.5" y2="251.6" stroke="#111" stroke-width="0.8"/>
<text x="36.5" y="260.9" font-size="6.62" fill="#231f20" text-anchor="middle" font-weight="normal" textLength="3.5" lengthAdjust="spacingAndGlyphs" stroke="#231f20" stroke-width="0.12">0</text>
<line x1="71.1" y1="249.4" x2="71.1" y2="251.6" stroke="#111" stroke-width="0.8"/>
<text x="71.1" y="260.9" font-size="6.62" fill="#231f20" text-anchor="middle" font-weight="normal" textLength="10.51" lengthAdjust="spacingAndGlyphs" stroke="#231f20" stroke-width="0.12">200</text>
<line x1="105.8" y1="249.4" x2="105.8" y2="251.6" stroke="#111" stroke-width="0.8"/>
<text x="105.8" y="260.9" font-size="6.62" fill="#231f20" text-anchor="middle" font-weight="normal" textLength="10.51" lengthAdjust="spacingAndGlyphs" stroke="#231f20" stroke-width="0.12">400</text>
<line x1="141.0" y1="249.4" x2="141.0" y2="251.6" stroke="#111" stroke-width="0.8"/>
<text x="141.0" y="260.9" font-size="6.62" fill="#231f20" text-anchor="middle" font-weight="normal" textLength="10.51" lengthAdjust="spacingAndGlyphs" stroke="#231f20" stroke-width="0.12">600</text>
<text x="87.6" y="272.6" font-size="8.8" fill="#231f20" text-anchor="middle" font-weight="bold" textLength="41" lengthAdjust="spacingAndGlyphs" stroke="#231f20" stroke-width="0.15">Abundance rank</text>
<text transform="translate(14.6,209.4) rotate(-90)" font-size="8.6" font-weight="bold" fill="#231f20" stroke="#231f20" stroke-width="0.15" text-anchor="middle" textLength="34" lengthAdjust="spacingAndGlyphs">log2(median)</text>
<polyline points="37.0,184.2 37.7,186.3 38.7,189.8 40.1,193.4 42.0,196.9 44.1,200.4 47.6,204.6 52.5,208.1 58.2,211.0 66.6,213.6 76.5,216.5 86.3,219.4 90,220.6 100,223.1 112.9,226.4 122,228.4 127,230.1 131,232.0 134,234.0 135.9,236.3 136.7,239.5 137.0,242.5" fill="none" stroke="#44205f" stroke-width="2.3" stroke-linejoin="round" stroke-linecap="round"/>
<polyline points="37.0,184.2 37.7,186.3 38.7,189.8 40.1,193.4 42.0,196.9 44.1,200.4 47.6,204.6 52.5,208.1" fill="none" stroke="#44205f" stroke-width="2.8" stroke-linejoin="round" stroke-linecap="round"/>
<circle cx="35.9" cy="172.2" r="1.25" fill="#44205f"/>
<circle cx="36.3" cy="175.7" r="1.25" fill="#44205f"/>
<circle cx="37.0" cy="181.0" r="1.25" fill="#44205f"/>
<circle cx="137.2" cy="245.3" r="1.1" fill="#3c8f46"/>
<text x="42.2" y="171.8" font-size="6.3" fill="#5b3a7a" text-anchor="start" font-weight="normal" textLength="11" lengthAdjust="spacingAndGlyphs" stroke="#5b3a7a" stroke-width="0.12">ALB</text>
<text x="42.2" y="178.6" font-size="6.3" fill="#4aae55" text-anchor="start" font-weight="normal" textLength="11" lengthAdjust="spacingAndGlyphs" stroke="#4aae55" stroke-width="0.12">ALB</text>
<text x="47.8" y="184.4" font-size="6.3" fill="#5b3a7a" text-anchor="start" font-weight="normal" textLength="20" lengthAdjust="spacingAndGlyphs" stroke="#5b3a7a" stroke-width="0.12">APOA1</text>
<text x="47.8" y="191.3" font-size="6.3" fill="#4aae55" text-anchor="start" font-weight="normal" textLength="20" lengthAdjust="spacingAndGlyphs" stroke="#4aae55" stroke-width="0.12">APOA1</text>
<text x="54.6" y="198.8" font-size="6.3" fill="#5b3a7a" text-anchor="start" font-weight="normal" textLength="13.0" lengthAdjust="spacingAndGlyphs" stroke="#5b3a7a" stroke-width="0.12">FGA</text>
<text x="70.7" y="198.8" font-size="6.3" fill="#5b3a7a" text-anchor="start" font-weight="normal" textLength="12.9" lengthAdjust="spacingAndGlyphs" stroke="#5b3a7a" stroke-width="0.12">FGB</text>
<text x="88.2" y="198.8" font-size="6.3" fill="#5b3a7a" text-anchor="start" font-weight="normal" textLength="13.6" lengthAdjust="spacingAndGlyphs" stroke="#5b3a7a" stroke-width="0.12">FGG</text>
<text x="54.6" y="205.5" font-size="6.3" fill="#4aae55" text-anchor="start" font-weight="normal" textLength="13.0" lengthAdjust="spacingAndGlyphs" stroke="#4aae55" stroke-width="0.12">FGA</text>
<text x="70.7" y="205.5" font-size="6.3" fill="#4aae55" text-anchor="start" font-weight="normal" textLength="12.9" lengthAdjust="spacingAndGlyphs" stroke="#4aae55" stroke-width="0.12">FGB</text>
<text x="88.2" y="205.5" font-size="6.3" fill="#4aae55" text-anchor="start" font-weight="normal" textLength="13.6" lengthAdjust="spacingAndGlyphs" stroke="#4aae55" stroke-width="0.12">FGG</text>
<text x="86.9" y="240.5" font-size="6.3" fill="#5b3a7a" text-anchor="start" font-weight="normal" textLength="15.2" lengthAdjust="spacingAndGlyphs" stroke="#5b3a7a" stroke-width="0.12">CTSC</text>
<text x="107.9" y="240.5" font-size="6.3" fill="#5b3a7a" text-anchor="start" font-weight="normal" textLength="23.4" lengthAdjust="spacingAndGlyphs" stroke="#5b3a7a" stroke-width="0.12">RNASE1</text>
<text x="86.9" y="247.1" font-size="6.3" fill="#4aae55" text-anchor="start" font-weight="normal" textLength="15.2" lengthAdjust="spacingAndGlyphs" stroke="#4aae55" stroke-width="0.12">CTSC</text>
<text x="107.9" y="247.1" font-size="6.3" fill="#4aae55" text-anchor="start" font-weight="normal" textLength="23.4" lengthAdjust="spacingAndGlyphs" stroke="#4aae55" stroke-width="0.12">RNASE1</text>
<line x1="33.6" y1="313.5" x2="33.6" y2="394.2" stroke="#111" stroke-width="0.9"/>
<line x1="33.1" y1="394.2" x2="144.3" y2="394.2" stroke="#111" stroke-width="0.9"/>
<line x1="31.3" y1="325.6" x2="33.6" y2="325.6" stroke="#111" stroke-width="0.8"/>
<text x="27.2" y="327.8" font-size="6.62" fill="#231f20" text-anchor="end" font-weight="normal" textLength="7.01" lengthAdjust="spacingAndGlyphs" stroke="#231f20" stroke-width="0.12">25</text>
<line x1="31.3" y1="343.5" x2="33.6" y2="343.5" stroke="#111" stroke-width="0.8"/>
<text x="27.2" y="345.7" font-size="6.62" fill="#231f20" text-anchor="end" font-weight="normal" textLength="7.01" lengthAdjust="spacingAndGlyphs" stroke="#231f20" stroke-width="0.12">20</text>
<line x1="31.3" y1="362.1" x2="33.6" y2="362.1" stroke="#111" stroke-width="0.8"/>
<text x="27.2" y="364.3" font-size="6.62" fill="#231f20" text-anchor="end" font-weight="normal" textLength="7.01" lengthAdjust="spacingAndGlyphs" stroke="#231f20" stroke-width="0.12">15</text>
<line x1="31.3" y1="380.2" x2="33.6" y2="380.2" stroke="#111" stroke-width="0.8"/>
<text x="27.2" y="382.4" font-size="6.62" fill="#231f20" text-anchor="end" font-weight="normal" textLength="7.01" lengthAdjust="spacingAndGlyphs" stroke="#231f20" stroke-width="0.12">10</text>
<line x1="38.1" y1="394.2" x2="38.1" y2="396.4" stroke="#111" stroke-width="0.8"/>
<text x="38.1" y="405.8" font-size="6.83" fill="#231f20" text-anchor="middle" font-weight="normal" textLength="3.62" lengthAdjust="spacingAndGlyphs" stroke="#231f20" stroke-width="0.12">0</text>
<line x1="66.5" y1="394.2" x2="66.5" y2="396.4" stroke="#111" stroke-width="0.8"/>
<text x="66.5" y="405.8" font-size="6.83" fill="#231f20" text-anchor="middle" font-weight="normal" textLength="7.23" lengthAdjust="spacingAndGlyphs" stroke="#231f20" stroke-width="0.12">50</text>
<line x1="95.3" y1="394.2" x2="95.3" y2="396.4" stroke="#111" stroke-width="0.8"/>
<text x="95.3" y="405.8" font-size="6.83" fill="#231f20" text-anchor="middle" font-weight="normal" textLength="10.85" lengthAdjust="spacingAndGlyphs" stroke="#231f20" stroke-width="0.12">100</text>
<line x1="124.6" y1="394.2" x2="124.6" y2="396.4" stroke="#111" stroke-width="0.8"/>
<text x="124.6" y="405.8" font-size="6.83" fill="#231f20" text-anchor="middle" font-weight="normal" textLength="10.85" lengthAdjust="spacingAndGlyphs" stroke="#231f20" stroke-width="0.12">150</text>
<text x="89.2" y="417.4" font-size="8.8" fill="#231f20" text-anchor="middle" font-weight="bold" textLength="40.5" lengthAdjust="spacingAndGlyphs" stroke="#231f20" stroke-width="0.15">Abundance rank</text>
<text transform="translate(15.2,354.5) rotate(-90)" font-size="8.6" font-weight="bold" fill="#231f20" stroke="#231f20" stroke-width="0.15" text-anchor="middle" textLength="34" lengthAdjust="spacingAndGlyphs">log2(median)</text>
<polyline points="39.099999999999994,327.7 40.8,330.09999999999997 43.599999999999994,333.4 46.4,335.5 50.599999999999994,338.59999999999997 54.8,341.09999999999997 60.5,343.59999999999997 66.1,346.0 71.7,348.9 78.8,351.7 85.8,353.79999999999995 88.3,354.09999999999997 93.89999999999999,355.29999999999995 102.39999999999999,358.5 110.8,362.0 119.3,364.29999999999995 127.7,367.0 134.8,369.79999999999995 136.9,371.2 137.9,374.2" fill="none" stroke="#5aa86a" stroke-width="2.2" stroke-linejoin="round" stroke-linecap="round" opacity="0.7"/>
<polyline points="38.8,326.8 40.5,329.2 43.3,332.5 46.1,334.6 50.3,337.7 54.5,340.2 60.2,342.7 65.8,345.1 71.4,348.0 78.5,350.8 85.5,352.9 88,353.2 93.6,354.4 102.1,357.6 110.5,361.1 119,363.4 127.4,366.1 134.5,368.9 136.6,370.3 137.6,373.3" fill="none" stroke="#44205f" stroke-width="2.3" stroke-linejoin="round" stroke-linecap="round"/>
<circle cx="38.4" cy="317.2" r="0.9" fill="#44205f"/>
<circle cx="38.5" cy="319.0" r="0.9" fill="#44205f"/>
<circle cx="139.0" cy="388.8" r="0.9" fill="#44205f"/>
<circle cx="139.4" cy="390.6" r="0.9" fill="#44205f"/>
<text x="47.2" y="309.9" font-size="6.3" fill="#5b3a7a" text-anchor="start" font-weight="normal" textLength="22.8" lengthAdjust="spacingAndGlyphs" stroke="#5b3a7a" stroke-width="0.12">FA(18:2)</text>
<text x="47.2" y="317.0" font-size="6.3" fill="#4aae55" text-anchor="start" font-weight="normal" textLength="22.8" lengthAdjust="spacingAndGlyphs" stroke="#4aae55" stroke-width="0.12">FA(18:2)</text>
<text x="55.2" y="324.3" font-size="6.3" fill="#5b3a7a" text-anchor="start" font-weight="normal" textLength="29" lengthAdjust="spacingAndGlyphs" stroke="#5b3a7a" stroke-width="0.12">L-Carnitine</text>
<text x="55.2" y="331.1" font-size="6.3" fill="#4aae55" text-anchor="start" font-weight="normal" textLength="29" lengthAdjust="spacingAndGlyphs" stroke="#4aae55" stroke-width="0.12">L-Carnitine</text>
<text x="74.4" y="337.5" font-size="6.3" fill="#5b3a7a" text-anchor="start" font-weight="normal" textLength="20.4" lengthAdjust="spacingAndGlyphs" stroke="#5b3a7a" stroke-width="0.12">Betaine</text>
<text x="74.4" y="344.4" font-size="6.3" fill="#4aae55" text-anchor="start" font-weight="normal" textLength="20.4" lengthAdjust="spacingAndGlyphs" stroke="#4aae55" stroke-width="0.12">Betaine</text>
<text x="84.7" y="382.6" font-size="6.3" fill="#5b3a7a" text-anchor="start" font-weight="normal" textLength="18.8" lengthAdjust="spacingAndGlyphs" stroke="#5b3a7a" stroke-width="0.12">Inosine</text>
<text x="110.0" y="382.6" font-size="6.3" fill="#5b3a7a" text-anchor="start" font-weight="normal" textLength="13.5" lengthAdjust="spacingAndGlyphs" stroke="#5b3a7a" stroke-width="0.12">CMP</text>
<text x="84.7" y="389.0" font-size="6.3" fill="#4aae55" text-anchor="start" font-weight="normal" textLength="18.8" lengthAdjust="spacingAndGlyphs" stroke="#4aae55" stroke-width="0.12">Inosine</text>
<text x="110.0" y="389.0" font-size="6.3" fill="#4aae55" text-anchor="start" font-weight="normal" textLength="13.5" lengthAdjust="spacingAndGlyphs" stroke="#4aae55" stroke-width="0.12">CMP</text>
<ellipse cx="227.2" cy="83.2" rx="59.8" ry="29.3" transform="rotate(47 227.2 83.2)" fill="#d8c9de"/>
<ellipse cx="199.2" cy="99" rx="27.6" ry="12.9" transform="rotate(52.5 199.2 99)" fill="#c8e8c8" opacity="0.75"/>
<line x1="167.2" y1="22.5" x2="167.2" y2="143.7" stroke="#111" stroke-width="0.9"/>
<line x1="166.8" y1="143.7" x2="288.7" y2="143.7" stroke="#111" stroke-width="0.9"/>
<text x="228" y="154.2" font-size="8.6" fill="#231f20" text-anchor="middle" font-weight="bold" textLength="52.5" lengthAdjust="spacingAndGlyphs" stroke="#231f20" stroke-width="0.15">Component 1 (8.1%)</text>
<text transform="translate(162.2,83.9) rotate(-90)" font-size="8.6" font-weight="bold" fill="#231f20" stroke="#231f20" stroke-width="0.15" text-anchor="middle" textLength="51.8" lengthAdjust="spacingAndGlyphs">Component 2 (5.4%)</text>
<circle cx="242.6" cy="39.2" r="1.5" fill="#9a87a6" stroke="#3a2748" stroke-width="0.7"/>
<circle cx="220.1" cy="45.1" r="1.5" fill="#9a87a6" stroke="#3a2748" stroke-width="0.7"/>
<circle cx="209.8" cy="55.8" r="1.5" fill="#9a87a6" stroke="#3a2748" stroke-width="0.7"/>
<circle cx="212.6" cy="55.8" r="1.5" fill="#9a87a6" stroke="#3a2748" stroke-width="0.7"/>
<circle cx="203.7" cy="59.2" r="1.5" fill="#9a87a6" stroke="#3a2748" stroke-width="0.7"/>
<circle cx="232.7" cy="58.9" r="1.5" fill="#9a87a6" stroke="#3a2748" stroke-width="0.7"/>
<circle cx="230.5" cy="62.1" r="1.5" fill="#9a87a6" stroke="#3a2748" stroke-width="0.7"/>
<circle cx="208" cy="64.8" r="1.5" fill="#9a87a6" stroke="#3a2748" stroke-width="0.7"/>
<circle cx="205.1" cy="68.3" r="1.5" fill="#9a87a6" stroke="#3a2748" stroke-width="0.7"/>
<circle cx="206.3" cy="69.2" r="1.5" fill="#9a87a6" stroke="#3a2748" stroke-width="0.7"/>
<circle cx="208.8" cy="71.1" r="1.5" fill="#9a87a6" stroke="#3a2748" stroke-width="0.7"/>
<circle cx="223.9" cy="70.1" r="1.5" fill="#9a87a6" stroke="#3a2748" stroke-width="0.7"/>
<circle cx="224.3" cy="71.8" r="1.5" fill="#9a87a6" stroke="#3a2748" stroke-width="0.7"/>
<circle cx="223.2" cy="73.2" r="1.5" fill="#9a87a6" stroke="#3a2748" stroke-width="0.7"/>
<circle cx="227.1" cy="75.1" r="1.5" fill="#9a87a6" stroke="#3a2748" stroke-width="0.7"/>
<circle cx="226.3" cy="77.2" r="1.5" fill="#9a87a6" stroke="#3a2748" stroke-width="0.7"/>
<circle cx="228.8" cy="78.6" r="1.5" fill="#9a87a6" stroke="#3a2748" stroke-width="0.7"/>
<circle cx="231.3" cy="80" r="1.5" fill="#9a87a6" stroke="#3a2748" stroke-width="0.7"/>
<circle cx="211.6" cy="76.5" r="1.5" fill="#9a87a6" stroke="#3a2748" stroke-width="0.7"/>
<circle cx="202" cy="78.6" r="1.5" fill="#9a87a6" stroke="#3a2748" stroke-width="0.7"/>
<circle cx="203.2" cy="80.7" r="1.5" fill="#9a87a6" stroke="#3a2748" stroke-width="0.7"/>
<circle cx="209.8" cy="86.3" r="1.5" fill="#9a87a6" stroke="#3a2748" stroke-width="0.7"/>
<circle cx="223.2" cy="87.3" r="1.5" fill="#9a87a6" stroke="#3a2748" stroke-width="0.7"/>
<circle cx="230.2" cy="93.7" r="1.5" fill="#9a87a6" stroke="#3a2748" stroke-width="0.7"/>
<circle cx="237.5" cy="96.5" r="1.5" fill="#9a87a6" stroke="#3a2748" stroke-width="0.7"/>
<circle cx="242.9" cy="95.5" r="1.5" fill="#9a87a6" stroke="#3a2748" stroke-width="0.7"/>
<circle cx="243.2" cy="97.2" r="1.5" fill="#9a87a6" stroke="#3a2748" stroke-width="0.7"/>
<circle cx="242.5" cy="98.3" r="1.5" fill="#9a87a6" stroke="#3a2748" stroke-width="0.7"/>
<circle cx="240.6" cy="101.4" r="1.5" fill="#9a87a6" stroke="#3a2748" stroke-width="0.7"/>
<circle cx="229.5" cy="103.5" r="1.5" fill="#9a87a6" stroke="#3a2748" stroke-width="0.7"/>
<circle cx="258" cy="98" r="1.5" fill="#9a87a6" stroke="#3a2748" stroke-width="0.7"/>
<circle cx="263.3" cy="102.1" r="1.5" fill="#9a87a6" stroke="#3a2748" stroke-width="0.7"/>
<circle cx="260.8" cy="104.2" r="1.5" fill="#9a87a6" stroke="#3a2748" stroke-width="0.7"/>
<circle cx="258" cy="102.5" r="1.5" fill="#9a87a6" stroke="#3a2748" stroke-width="0.7"/>
<circle cx="252.3" cy="107" r="1.5" fill="#9a87a6" stroke="#3a2748" stroke-width="0.7"/>
<circle cx="262.2" cy="108.9" r="1.5" fill="#9a87a6" stroke="#3a2748" stroke-width="0.7"/>
<circle cx="261.1" cy="111.7" r="1.5" fill="#9a87a6" stroke="#3a2748" stroke-width="0.7"/>
<circle cx="238.2" cy="116.6" r="1.5" fill="#9a87a6" stroke="#3a2748" stroke-width="0.7"/>
<circle cx="245.3" cy="118" r="1.5" fill="#9a87a6" stroke="#3a2748" stroke-width="0.7"/>
<circle cx="225.1" cy="119.7" r="1.5" fill="#9a87a6" stroke="#3a2748" stroke-width="0.7"/>
<circle cx="209" cy="71.2" r="1.5" fill="#9a87a6" stroke="#3a2748" stroke-width="0.7"/>
<circle cx="211.4" cy="76.5" r="1.5" fill="#9a87a6" stroke="#3a2748" stroke-width="0.7"/>
<circle cx="209.6" cy="85.8" r="1.5" fill="#9a87a6" stroke="#3a2748" stroke-width="0.7"/>
<circle cx="223.7" cy="72.3" r="1.5" fill="#9a87a6" stroke="#3a2748" stroke-width="0.7"/>
<circle cx="199.9" cy="79.2" r="1.5" fill="#9a87a6" stroke="#3a2748" stroke-width="0.7"/>
<circle cx="202.6" cy="78.5" r="1.5" fill="#9a87a6" stroke="#3a2748" stroke-width="0.7"/>
<circle cx="203.2" cy="80.6" r="1.5" fill="#9a87a6" stroke="#3a2748" stroke-width="0.7"/>
<circle cx="199.1" cy="84.3" r="1.5" fill="#9a87a6" stroke="#3a2748" stroke-width="0.7"/>
<circle cx="203.2" cy="84.7" r="1.5" fill="#9a87a6" stroke="#3a2748" stroke-width="0.7"/>
<circle cx="203.2" cy="88.2" r="1.5" fill="#9a87a6" stroke="#3a2748" stroke-width="0.7"/>
<circle cx="186.7" cy="80.3" r="1.5" fill="#92c994" stroke="#174a1c" stroke-width="0.75"/>
<circle cx="187.7" cy="82.7" r="1.5" fill="#92c994" stroke="#174a1c" stroke-width="0.75"/>
<circle cx="188.9" cy="85" r="1.5" fill="#92c994" stroke="#174a1c" stroke-width="0.75"/>
<circle cx="190.3" cy="87.4" r="1.5" fill="#92c994" stroke="#174a1c" stroke-width="0.75"/>
<circle cx="188.9" cy="88.8" r="1.5" fill="#92c994" stroke="#174a1c" stroke-width="0.75"/>
<circle cx="195.9" cy="78" r="1.5" fill="#92c994" stroke="#174a1c" stroke-width="0.75"/>
<circle cx="196.1" cy="81.7" r="1.5" fill="#92c994" stroke="#174a1c" stroke-width="0.75"/>
<circle cx="197.9" cy="90" r="1.5" fill="#92c994" stroke="#174a1c" stroke-width="0.75"/>
<circle cx="183.2" cy="94.4" r="1.5" fill="#92c994" stroke="#174a1c" stroke-width="0.75"/>
<circle cx="185.6" cy="97.2" r="1.5" fill="#92c994" stroke="#174a1c" stroke-width="0.75"/>
<circle cx="188.9" cy="93.5" r="1.5" fill="#92c994" stroke="#174a1c" stroke-width="0.75"/>
<circle cx="188.9" cy="96.4" r="1.5" fill="#92c994" stroke="#174a1c" stroke-width="0.75"/>
<circle cx="206.7" cy="92.3" r="1.5" fill="#92c994" stroke="#174a1c" stroke-width="0.75"/>
<circle cx="207.3" cy="95.2" r="1.5" fill="#92c994" stroke="#174a1c" stroke-width="0.75"/>
<circle cx="206.9" cy="98.8" r="1.5" fill="#92c994" stroke="#174a1c" stroke-width="0.75"/>
<circle cx="199.1" cy="110.5" r="1.5" fill="#92c994" stroke="#174a1c" stroke-width="0.75"/>
<circle cx="202" cy="112.8" r="1.5" fill="#92c994" stroke="#174a1c" stroke-width="0.75"/>
<circle cx="204.3" cy="109.9" r="1.5" fill="#92c994" stroke="#174a1c" stroke-width="0.75"/>
<circle cx="209" cy="112.3" r="1.5" fill="#92c994" stroke="#174a1c" stroke-width="0.75"/>
<circle cx="211.4" cy="110.5" r="1.5" fill="#92c994" stroke="#174a1c" stroke-width="0.75"/>
<circle cx="215.5" cy="111.1" r="1.5" fill="#92c994" stroke="#174a1c" stroke-width="0.75"/>
<circle cx="212.6" cy="112.8" r="1.5" fill="#92c994" stroke="#174a1c" stroke-width="0.75"/>
<circle cx="219.9" cy="123.7" r="1.5" fill="#92c994" stroke="#174a1c" stroke-width="0.75"/>
<circle cx="219.9" cy="126.5" r="1.5" fill="#92c994" stroke="#174a1c" stroke-width="0.75"/>
<circle cx="215.7" cy="110.7" r="1.5" fill="#92c994" stroke="#174a1c" stroke-width="0.75"/>
<circle cx="198.0" cy="102.0" r="1.5" fill="#92c994" stroke="#174a1c" stroke-width="0.75"/>
<circle cx="197.2" cy="98.6" r="1.5" fill="#92c994" stroke="#174a1c" stroke-width="0.75"/>
<circle cx="194.3" cy="97.2" r="1.5" fill="#92c994" stroke="#174a1c" stroke-width="0.75"/>
<circle cx="203.7" cy="105.2" r="1.5" fill="#92c994" stroke="#174a1c" stroke-width="0.75"/>
<circle cx="203.2" cy="104.2" r="1.5" fill="#92c994" stroke="#174a1c" stroke-width="0.75"/>
<circle cx="200.4" cy="102.3" r="1.5" fill="#92c994" stroke="#174a1c" stroke-width="0.75"/>
<circle cx="192.5" cy="99.8" r="1.5" fill="#92c994" stroke="#174a1c" stroke-width="0.75"/>
<circle cx="201.2" cy="103.9" r="1.5" fill="#92c994" stroke="#174a1c" stroke-width="0.75"/>
<circle cx="194.2" cy="96.2" r="1.5" fill="#92c994" stroke="#174a1c" stroke-width="0.75"/>
<circle cx="199.7" cy="101.1" r="1.5" fill="#92c994" stroke="#174a1c" stroke-width="0.75"/>
<circle cx="199.9" cy="99.2" r="1.5" fill="#92c994" stroke="#174a1c" stroke-width="0.75"/>
<circle cx="200.3" cy="103.0" r="1.5" fill="#92c994" stroke="#174a1c" stroke-width="0.75"/>
<circle cx="197.8" cy="106.0" r="1.5" fill="#92c994" stroke="#174a1c" stroke-width="0.75"/>
<circle cx="202.3" cy="107.0" r="1.5" fill="#92c994" stroke="#174a1c" stroke-width="0.75"/>
<circle cx="195.0" cy="95.8" r="1.5" fill="#92c994" stroke="#174a1c" stroke-width="0.75"/>
<circle cx="196.9" cy="99.2" r="1.5" fill="#92c994" stroke="#174a1c" stroke-width="0.75"/>
<circle cx="201.5" cy="103.2" r="1.5" fill="#92c994" stroke="#174a1c" stroke-width="0.75"/>
<circle cx="195.5" cy="95.3" r="1.5" fill="#92c994" stroke="#174a1c" stroke-width="0.75"/>
<circle cx="197.8" cy="104.3" r="1.5" fill="#92c994" stroke="#174a1c" stroke-width="0.75"/>
<circle cx="195.4" cy="99.4" r="1.5" fill="#92c994" stroke="#174a1c" stroke-width="0.75"/>
<circle cx="198.5" cy="95.4" r="1.5" fill="#92c994" stroke="#174a1c" stroke-width="0.75"/>
<circle cx="200.3" cy="106.1" r="1.5" fill="#92c994" stroke="#174a1c" stroke-width="0.75"/>
<circle cx="197.1" cy="96.8" r="1.5" fill="#92c994" stroke="#174a1c" stroke-width="0.75"/>
<circle cx="200.5" cy="101.5" r="1.5" fill="#92c994" stroke="#174a1c" stroke-width="0.75"/>
<circle cx="193.3" cy="100.2" r="1.5" fill="#92c994" stroke="#174a1c" stroke-width="0.75"/>
<circle cx="202.4" cy="106.2" r="1.5" fill="#92c994" stroke="#174a1c" stroke-width="0.75"/>
<circle cx="205.0" cy="105.8" r="1.5" fill="#92c994" stroke="#174a1c" stroke-width="0.75"/>
<circle cx="197.4" cy="95.4" r="1.5" fill="#92c994" stroke="#174a1c" stroke-width="0.75"/>
<circle cx="200.4" cy="99.5" r="1.5" fill="#92c994" stroke="#174a1c" stroke-width="0.75"/>
<circle cx="195.1" cy="94.0" r="1.5" fill="#92c994" stroke="#174a1c" stroke-width="0.75"/>
<circle cx="193.8" cy="95.8" r="1.5" fill="#92c994" stroke="#174a1c" stroke-width="0.75"/>
<circle cx="201.5" cy="95.3" r="1.5" fill="#92c994" stroke="#174a1c" stroke-width="0.75"/>
<circle cx="192.7" cy="97.7" r="1.5" fill="#92c994" stroke="#174a1c" stroke-width="0.75"/>
<circle cx="205.3" cy="106.7" r="1.5" fill="#92c994" stroke="#174a1c" stroke-width="0.75"/>
<circle cx="199.1" cy="98.3" r="1.5" fill="#92c994" stroke="#174a1c" stroke-width="0.75"/>
<circle cx="195.0" cy="101.7" r="1.5" fill="#92c994" stroke="#174a1c" stroke-width="0.75"/>
<circle cx="203.3" cy="104.0" r="1.5" fill="#92c994" stroke="#174a1c" stroke-width="0.75"/>
<circle cx="200.1" cy="103.0" r="1.5" fill="#92c994" stroke="#174a1c" stroke-width="0.75"/>
<circle cx="205.9" cy="107.2" r="1.5" fill="#92c994" stroke="#174a1c" stroke-width="0.75"/>
<circle cx="201.3" cy="104.1" r="1.5" fill="#92c994" stroke="#174a1c" stroke-width="0.75"/>
<circle cx="193.5" cy="101.8" r="1.5" fill="#92c994" stroke="#174a1c" stroke-width="0.75"/>
<circle cx="203.1" cy="105.2" r="1.5" fill="#92c994" stroke="#174a1c" stroke-width="0.75"/>
<circle cx="199.9" cy="95.1" r="1.5" fill="#92c994" stroke="#174a1c" stroke-width="0.75"/>
<circle cx="199.0" cy="104.3" r="1.5" fill="#92c994" stroke="#174a1c" stroke-width="0.75"/>
<circle cx="194.9" cy="103.9" r="1.5" fill="#92c994" stroke="#174a1c" stroke-width="0.75"/>
<circle cx="200.6" cy="101.3" r="1.5" fill="#92c994" stroke="#174a1c" stroke-width="0.75"/>
<circle cx="200.6" cy="104.1" r="1.5" fill="#92c994" stroke="#174a1c" stroke-width="0.75"/>
<circle cx="200.4" cy="105.6" r="1.5" fill="#92c994" stroke="#174a1c" stroke-width="0.75"/>
<circle cx="195.2" cy="97.0" r="1.5" fill="#92c994" stroke="#174a1c" stroke-width="0.75"/>
<circle cx="202.9" cy="103.3" r="1.5" fill="#92c994" stroke="#174a1c" stroke-width="0.75"/>
<circle cx="195.9" cy="102.2" r="1.5" fill="#92c994" stroke="#174a1c" stroke-width="0.75"/>
<circle cx="204.1" cy="102.4" r="1.5" fill="#92c994" stroke="#174a1c" stroke-width="0.75"/>
<circle cx="192.5" cy="96.3" r="1.5" fill="#92c994" stroke="#174a1c" stroke-width="0.75"/>
<circle cx="197.5" cy="98.9" r="1.5" fill="#92c994" stroke="#174a1c" stroke-width="0.75"/>
<circle cx="203.2" cy="99.8" r="1.5" fill="#92c994" stroke="#174a1c" stroke-width="0.75"/>
<circle cx="202.3" cy="98.5" r="1.5" fill="#92c994" stroke="#174a1c" stroke-width="0.75"/>
<circle cx="196.0" cy="101.1" r="1.5" fill="#92c994" stroke="#174a1c" stroke-width="0.75"/>
<circle cx="204.3" cy="107.0" r="1.5" fill="#92c994" stroke="#174a1c" stroke-width="0.75"/>
<circle cx="200.1" cy="102.0" r="1.5" fill="#92c994" stroke="#174a1c" stroke-width="0.75"/>
<circle cx="199.8" cy="103.3" r="1.5" fill="#92c994" stroke="#174a1c" stroke-width="0.75"/>
<circle cx="198.1" cy="101.2" r="1.5" fill="#92c994" stroke="#174a1c" stroke-width="0.75"/>
<circle cx="200.9" cy="102.0" r="1.5" fill="#92c994" stroke="#174a1c" stroke-width="0.75"/>
<circle cx="202.4" cy="104.9" r="1.5" fill="#92c994" stroke="#174a1c" stroke-width="0.75"/>
<circle cx="207.3" cy="107.1" r="1.5" fill="#92c994" stroke="#174a1c" stroke-width="0.75"/>
<circle cx="196.3" cy="97.8" r="1.5" fill="#92c994" stroke="#174a1c" stroke-width="0.75"/>
<circle cx="199.6" cy="104.3" r="1.5" fill="#92c994" stroke="#174a1c" stroke-width="0.75"/>
<circle cx="197.5" cy="101.2" r="1.5" fill="#92c994" stroke="#174a1c" stroke-width="0.75"/>
<circle cx="203.1" cy="94.5" r="1.5" fill="#92c994" stroke="#174a1c" stroke-width="0.75"/>
<circle cx="194.1" cy="98.6" r="1.5" fill="#92c994" stroke="#174a1c" stroke-width="0.75"/>
<circle cx="200.5" cy="102.5" r="1.5" fill="#92c994" stroke="#174a1c" stroke-width="0.75"/>
<circle cx="197.5" cy="102.1" r="1.5" fill="#92c994" stroke="#174a1c" stroke-width="0.75"/>
<circle cx="199.1" cy="99.0" r="1.5" fill="#92c994" stroke="#174a1c" stroke-width="0.75"/>
<circle cx="196.1" cy="98.6" r="1.5" fill="#92c994" stroke="#174a1c" stroke-width="0.75"/>
<circle cx="197.5" cy="99.6" r="1.5" fill="#92c994" stroke="#174a1c" stroke-width="0.75"/>
<circle cx="201.3" cy="98.2" r="1.5" fill="#92c994" stroke="#174a1c" stroke-width="0.75"/>
<line x1="190.4" y1="211.1" x2="190.4" y2="395.4" stroke="#111" stroke-width="1.0"/>
<line x1="189.9" y1="395.0" x2="271.9" y2="395.0" stroke="#111" stroke-width="1.0"/>
<line x1="187.3" y1="216.8" x2="190.4" y2="216.8" stroke="#111" stroke-width="0.9"/>
<text x="184.2" y="218.9" font-size="6.2" fill="#231f20" text-anchor="end" font-weight="normal" textLength="20.0" lengthAdjust="spacingAndGlyphs" stroke="#231f20" stroke-width="0.12">MASP2</text>
<circle cx="269.2" cy="216.8" r="1.55" fill="#3a1654"/>
<line x1="187.3" y1="223.88000000000002" x2="190.4" y2="223.88000000000002" stroke="#111" stroke-width="0.9"/>
<text x="184.2" y="225.98000000000002" font-size="6.2" fill="#231f20" text-anchor="end" font-weight="normal" textLength="15.74" lengthAdjust="spacingAndGlyphs" stroke="#231f20" stroke-width="0.12">CPN1</text>
<circle cx="264.5" cy="223.88000000000002" r="1.55" fill="#3a1654"/>
<line x1="187.3" y1="230.96" x2="190.4" y2="230.96" stroke="#111" stroke-width="0.9"/>
<text x="184.2" y="233.06" font-size="6.2" fill="#231f20" text-anchor="end" font-weight="normal" textLength="20.33" lengthAdjust="spacingAndGlyphs" stroke="#231f20" stroke-width="0.12">QSOX1</text>
<circle cx="257.4" cy="230.96" r="1.55" fill="#3a1654"/>
<line x1="187.3" y1="238.04000000000002" x2="190.4" y2="238.04000000000002" stroke="#111" stroke-width="0.9"/>
<text x="184.2" y="240.14000000000001" font-size="6.2" fill="#231f20" text-anchor="end" font-weight="normal" textLength="15.08" lengthAdjust="spacingAndGlyphs" stroke="#231f20" stroke-width="0.12">CST3</text>
<circle cx="236.7" cy="238.04000000000002" r="1.55" fill="#3a1654"/>
<line x1="187.3" y1="245.12" x2="190.4" y2="245.12" stroke="#111" stroke-width="0.9"/>
<text x="184.2" y="247.22" font-size="6.2" fill="#231f20" text-anchor="end" font-weight="normal" textLength="14.42" lengthAdjust="spacingAndGlyphs" stroke="#231f20" stroke-width="0.12">PIGR</text>
<circle cx="232.5" cy="245.12" r="1.55" fill="#3a1654"/>
<line x1="187.3" y1="252.20000000000002" x2="190.4" y2="252.20000000000002" stroke="#111" stroke-width="0.9"/>
<text x="184.2" y="254.3" font-size="6.2" fill="#231f20" text-anchor="end" font-weight="normal" textLength="15.41" lengthAdjust="spacingAndGlyphs" stroke="#231f20" stroke-width="0.12">FCN3</text>
<circle cx="232.0" cy="252.20000000000002" r="1.55" fill="#3a1654"/>
<line x1="187.3" y1="259.28000000000003" x2="190.4" y2="259.28000000000003" stroke="#111" stroke-width="0.9"/>
<text x="184.2" y="261.38000000000005" font-size="6.2" fill="#231f20" text-anchor="end" font-weight="normal" textLength="16.07" lengthAdjust="spacingAndGlyphs" stroke="#231f20" stroke-width="0.12">PRG4</text>
<circle cx="225.4" cy="259.28000000000003" r="1.55" fill="#3a1654"/>
<line x1="187.3" y1="266.36" x2="190.4" y2="266.36" stroke="#111" stroke-width="0.9"/>
<text x="184.2" y="268.46000000000004" font-size="6.2" fill="#231f20" text-anchor="end" font-weight="normal" textLength="11.15" lengthAdjust="spacingAndGlyphs" stroke="#231f20" stroke-width="0.12">LBP</text>
<circle cx="222.5" cy="266.36" r="1.55" fill="#3a1654"/>
<line x1="187.3" y1="273.44" x2="190.4" y2="273.44" stroke="#111" stroke-width="0.9"/>
<text x="184.2" y="275.54" font-size="6.2" fill="#231f20" text-anchor="end" font-weight="normal" textLength="13.45" lengthAdjust="spacingAndGlyphs" stroke="#231f20" stroke-width="0.12">PPIA</text>
<circle cx="222.0" cy="273.44" r="1.55" fill="#3a1654"/>
<line x1="187.3" y1="280.52" x2="190.4" y2="280.52" stroke="#111" stroke-width="0.9"/>
<text x="184.2" y="282.62" font-size="6.2" fill="#231f20" text-anchor="end" font-weight="normal" textLength="23.61" lengthAdjust="spacingAndGlyphs" stroke="#231f20" stroke-width="0.12">EFEMP1</text>
<circle cx="221.0" cy="280.52" r="1.55" fill="#3a1654"/>
<line x1="187.3" y1="287.6" x2="190.4" y2="287.6" stroke="#111" stroke-width="0.9"/>
<text x="184.2" y="289.70000000000005" font-size="6.2" fill="#231f20" text-anchor="end" font-weight="normal" textLength="15.74" lengthAdjust="spacingAndGlyphs" stroke="#231f20" stroke-width="0.12">CPN2</text>
<circle cx="220.5" cy="287.6" r="1.55" fill="#3a1654"/>
<line x1="187.3" y1="294.68" x2="190.4" y2="294.68" stroke="#111" stroke-width="0.9"/>
<text x="184.2" y="296.78000000000003" font-size="6.2" fill="#231f20" text-anchor="end" font-weight="normal" textLength="15.74" lengthAdjust="spacingAndGlyphs" stroke="#231f20" stroke-width="0.12">CDK2</text>
<circle cx="218.25" cy="294.68" r="1.55" fill="#3a1654"/>
<line x1="187.3" y1="301.76" x2="190.4" y2="301.76" stroke="#111" stroke-width="0.9"/>
<text x="184.2" y="303.86" font-size="6.2" fill="#231f20" text-anchor="end" font-weight="normal" textLength="13.44" lengthAdjust="spacingAndGlyphs" stroke="#231f20" stroke-width="0.12">GGH</text>
<circle cx="214.25" cy="301.76" r="1.55" fill="#3a1654"/>
<line x1="187.3" y1="308.84000000000003" x2="190.4" y2="308.84000000000003" stroke="#111" stroke-width="0.9"/>
<text x="184.2" y="310.94000000000005" font-size="6.2" fill="#231f20" text-anchor="end" font-weight="normal" textLength="12.46" lengthAdjust="spacingAndGlyphs" stroke="#231f20" stroke-width="0.12">CRP</text>
<circle cx="210.25" cy="308.84000000000003" r="1.55" fill="#3a1654"/>
<line x1="187.3" y1="315.92" x2="190.4" y2="315.92" stroke="#111" stroke-width="0.9"/>
<text x="184.2" y="318.02000000000004" font-size="6.2" fill="#231f20" text-anchor="end" font-weight="normal" textLength="16.06" lengthAdjust="spacingAndGlyphs" stroke="#231f20" stroke-width="0.12">APOF</text>
<circle cx="207.5" cy="315.92" r="1.55" fill="#4aa653"/>
<line x1="187.3" y1="323.0" x2="190.4" y2="323.0" stroke="#111" stroke-width="0.9"/>
<text x="184.2" y="325.1" font-size="6.2" fill="#231f20" text-anchor="end" font-weight="normal" textLength="15.08" lengthAdjust="spacingAndGlyphs" stroke="#231f20" stroke-width="0.12">CD14</text>
<circle cx="206.75" cy="323.0" r="1.55" fill="#3a1654"/>
<line x1="187.3" y1="330.08000000000004" x2="190.4" y2="330.08000000000004" stroke="#111" stroke-width="0.9"/>
<text x="184.2" y="332.18000000000006" font-size="6.2" fill="#231f20" text-anchor="end" font-weight="normal" textLength="14.32" lengthAdjust="spacingAndGlyphs" stroke="#231f20" stroke-width="0.12">PLTP</text>
<circle cx="203.25" cy="330.08000000000004" r="1.55" fill="#3a1654"/>
<line x1="187.3" y1="337.16" x2="190.4" y2="337.16" stroke="#111" stroke-width="0.9"/>
<text x="184.2" y="339.26000000000005" font-size="6.2" fill="#231f20" text-anchor="end" font-weight="normal" textLength="15.74" lengthAdjust="spacingAndGlyphs" stroke="#231f20" stroke-width="0.12">GPX3</text>
<circle cx="203.25" cy="337.16" r="1.55" fill="#3a1654"/>
<line x1="187.3" y1="344.24" x2="190.4" y2="344.24" stroke="#111" stroke-width="0.9"/>
<text x="184.2" y="346.34000000000003" font-size="6.2" fill="#231f20" text-anchor="end" font-weight="normal" textLength="6.89" lengthAdjust="spacingAndGlyphs" stroke="#231f20" stroke-width="0.12">F5</text>
<circle cx="202.0" cy="344.24" r="1.55" fill="#3a1654"/>
<line x1="187.3" y1="351.32000000000005" x2="190.4" y2="351.32000000000005" stroke="#111" stroke-width="0.9"/>
<text x="184.2" y="353.4200000000001" font-size="6.2" fill="#231f20" text-anchor="end" font-weight="normal" textLength="11.8" lengthAdjust="spacingAndGlyphs" stroke="#231f20" stroke-width="0.12">C1R</text>
<circle cx="199.0" cy="351.32000000000005" r="1.55" fill="#3a1654"/>
<line x1="187.3" y1="358.4" x2="190.4" y2="358.4" stroke="#111" stroke-width="0.9"/>
<text x="184.2" y="360.5" font-size="6.2" fill="#231f20" text-anchor="end" font-weight="normal" textLength="16.39" lengthAdjust="spacingAndGlyphs" stroke="#231f20" stroke-width="0.12">C1QC</text>
<circle cx="199.0" cy="358.4" r="1.55" fill="#3a1654"/>
<line x1="187.3" y1="365.48" x2="190.4" y2="365.48" stroke="#111" stroke-width="0.9"/>
<text x="184.2" y="367.58000000000004" font-size="6.2" fill="#231f20" text-anchor="end" font-weight="normal" textLength="20.0" lengthAdjust="spacingAndGlyphs" stroke="#231f20" stroke-width="0.12">PSMB3</text>
<circle cx="196.75" cy="365.48" r="1.55" fill="#4aa653"/>
<line x1="187.3" y1="372.56" x2="190.4" y2="372.56" stroke="#111" stroke-width="0.9"/>
<text x="184.2" y="374.66" font-size="6.2" fill="#231f20" text-anchor="end" font-weight="normal" textLength="29.19" lengthAdjust="spacingAndGlyphs" stroke="#231f20" stroke-width="0.12">Chole-Sulf.</text>
<circle cx="195.0" cy="372.56" r="1.55" fill="#3a1654"/>
<line x1="187.3" y1="379.64" x2="190.4" y2="379.64" stroke="#111" stroke-width="0.9"/>
<text x="184.2" y="381.74" font-size="6.2" fill="#231f20" text-anchor="end" font-weight="normal" textLength="11.48" lengthAdjust="spacingAndGlyphs" stroke="#231f20" stroke-width="0.12">C8B</text>
<circle cx="194.25" cy="379.64" r="1.55" fill="#3a1654"/>
<line x1="187.3" y1="386.72" x2="190.4" y2="386.72" stroke="#111" stroke-width="0.9"/>
<text x="184.2" y="388.82000000000005" font-size="6.2" fill="#231f20" text-anchor="end" font-weight="normal" textLength="14.1" lengthAdjust="spacingAndGlyphs" stroke="#231f20" stroke-width="0.12">F13B</text>
<circle cx="193.25" cy="386.72" r="1.55" fill="#3a1654"/>
<line x1="195.0" y1="395" x2="195.0" y2="397.2" stroke="#111" stroke-width="0.8"/>
<text x="195.0" y="406.3" font-size="6.51" fill="#231f20" text-anchor="middle" font-weight="normal" textLength="8.62" lengthAdjust="spacingAndGlyphs" stroke="#231f20" stroke-width="0.12">2.2</text>
<line x1="210.25" y1="395" x2="210.25" y2="397.2" stroke="#111" stroke-width="0.8"/>
<text x="210.25" y="406.3" font-size="6.51" fill="#231f20" text-anchor="middle" font-weight="normal" textLength="8.62" lengthAdjust="spacingAndGlyphs" stroke="#231f20" stroke-width="0.12">2.4</text>
<line x1="225.5" y1="395" x2="225.5" y2="397.2" stroke="#111" stroke-width="0.8"/>
<text x="225.5" y="406.3" font-size="6.51" fill="#231f20" text-anchor="middle" font-weight="normal" textLength="8.62" lengthAdjust="spacingAndGlyphs" stroke="#231f20" stroke-width="0.12">2.6</text>
<line x1="240.75" y1="395" x2="240.75" y2="397.2" stroke="#111" stroke-width="0.8"/>
<text x="240.75" y="406.3" font-size="6.51" fill="#231f20" text-anchor="middle" font-weight="normal" textLength="8.62" lengthAdjust="spacingAndGlyphs" stroke="#231f20" stroke-width="0.12">2.8</text>
<line x1="256.0" y1="395" x2="256.0" y2="397.2" stroke="#111" stroke-width="0.8"/>
<text x="256.0" y="406.3" font-size="6.51" fill="#231f20" text-anchor="middle" font-weight="normal" textLength="8.62" lengthAdjust="spacingAndGlyphs" stroke="#231f20" stroke-width="0.12">3.0</text>
<line x1="271.25" y1="395" x2="271.25" y2="397.2" stroke="#111" stroke-width="0.8"/>
<text x="271.25" y="406.3" font-size="6.51" fill="#231f20" text-anchor="middle" font-weight="normal" textLength="8.62" lengthAdjust="spacingAndGlyphs" stroke="#231f20" stroke-width="0.12">3.2</text>
<text x="231.2" y="416.9" font-size="8.6" fill="#231f20" text-anchor="middle" font-weight="bold" textLength="25" lengthAdjust="spacingAndGlyphs" stroke="#231f20" stroke-width="0.15">VIP score</text>
<defs><linearGradient id="cb" x1="0" y1="0" x2="0" y2="1"><stop offset="0" stop-color="#a51d24"/><stop offset="0.2" stop-color="#cc3b33"/><stop offset="0.45" stop-color="#ef9274"/><stop offset="0.6" stop-color="#fad3c3"/><stop offset="0.68" stop-color="#ffffff"/><stop offset="1" stop-color="#b0cde4"/></linearGradient></defs>
<rect x="298.4" y="352.9" width="4.5" height="41" fill="url(#cb)"/>
<text x="297.3" y="349.3" font-size="6.2" fill="#231f20" text-anchor="start" font-weight="normal" textLength="19.4" lengthAdjust="spacingAndGlyphs" stroke="#231f20" stroke-width="0.12">z-score</text>
<text x="306.0" y="357.8" font-size="6.2" fill="#231f20" text-anchor="start" font-weight="normal" textLength="8.2" lengthAdjust="spacingAndGlyphs" stroke="#231f20" stroke-width="0.12">7.4</text>
<text x="306.0" y="385.3" font-size="6.2" fill="#231f20" text-anchor="start" font-weight="normal" textLength="3.28" lengthAdjust="spacingAndGlyphs" stroke="#231f20" stroke-width="0.12">0</text>
<text x="305.0" y="396.0" font-size="6.2" fill="#231f20" text-anchor="start" font-weight="normal" textLength="11.65" lengthAdjust="spacingAndGlyphs" stroke="#231f20" stroke-width="0.12">−2.4</text>
<text x="464.0" y="63.2" font-size="6.41" fill="#5b3a7a" text-anchor="start" font-weight="normal" textLength="24.08" lengthAdjust="spacingAndGlyphs" stroke="#5b3a7a" stroke-width="0.12">Catechin</text>
<text x="464.0" y="90.2" font-size="6.41" fill="#5b3a7a" text-anchor="start" font-weight="normal" textLength="24.41" lengthAdjust="spacingAndGlyphs" stroke="#5b3a7a" stroke-width="0.12">EFEMP1</text>
<text x="464.0" y="105.4" font-size="6.41" fill="#5b3a7a" text-anchor="start" font-weight="normal" textLength="16.95" lengthAdjust="spacingAndGlyphs" stroke="#5b3a7a" stroke-width="0.12">C1QC</text>
<text x="464.0" y="111.7" font-size="6.41" fill="#5b3a7a" text-anchor="start" font-weight="normal" textLength="11.87" lengthAdjust="spacingAndGlyphs" stroke="#5b3a7a" stroke-width="0.12">C8B</text>
<text x="464.0" y="117.7" font-size="6.41" fill="#5b3a7a" text-anchor="start" font-weight="normal" textLength="16.95" lengthAdjust="spacingAndGlyphs" stroke="#5b3a7a" stroke-width="0.12">APOE</text>
<text x="464.0" y="124.0" font-size="6.41" fill="#5b3a7a" text-anchor="start" font-weight="normal" textLength="16.27" lengthAdjust="spacingAndGlyphs" stroke="#5b3a7a" stroke-width="0.12">CPN2</text>
<text x="464.0" y="138.7" font-size="6.41" fill="#5b3a7a" text-anchor="start" font-weight="normal" textLength="35.26" lengthAdjust="spacingAndGlyphs" stroke="#5b3a7a" stroke-width="0.12">Glycocholate</text>
<text x="464.0" y="146.1" font-size="6.41" fill="#5b3a7a" text-anchor="start" font-weight="normal" textLength="50.52" lengthAdjust="spacingAndGlyphs" stroke="#5b3a7a" stroke-width="0.12">Cholesterol sulfate</text>
<text x="464.0" y="187.89999999999998" font-size="6.41" fill="#4aae55" text-anchor="start" font-weight="normal" textLength="20.68" lengthAdjust="spacingAndGlyphs" stroke="#4aae55" stroke-width="0.12">PSMB3</text>
<text x="464.0" y="194.79999999999998" font-size="6.41" fill="#4aae55" text-anchor="start" font-weight="normal" textLength="16.61" lengthAdjust="spacingAndGlyphs" stroke="#4aae55" stroke-width="0.12">APOF</text>
<text x="464.0" y="201.6" font-size="6.41" fill="#4aae55" text-anchor="start" font-weight="normal" textLength="30.51" lengthAdjust="spacingAndGlyphs" stroke="#4aae55" stroke-width="0.12">SERPIND1</text>
<text x="464.0" y="208.29999999999998" font-size="6.41" fill="#5b3a7a" text-anchor="start" font-weight="normal" textLength="15.93" lengthAdjust="spacingAndGlyphs" stroke="#5b3a7a" stroke-width="0.12">FCN2</text>
<text x="464.0" y="223.1" font-size="6.41" fill="#5b3a7a" text-anchor="start" font-weight="normal" textLength="14.58" lengthAdjust="spacingAndGlyphs" stroke="#5b3a7a" stroke-width="0.12">F13B</text>
<text x="464.0" y="229.89999999999998" font-size="6.41" fill="#5b3a7a" text-anchor="start" font-weight="normal" textLength="10.06" lengthAdjust="spacingAndGlyphs" stroke="#5b3a7a" stroke-width="0.12">F11</text>
<text x="464.0" y="251.0" font-size="6.41" fill="#5b3a7a" text-anchor="start" font-weight="normal" textLength="20.68" lengthAdjust="spacingAndGlyphs" stroke="#5b3a7a" stroke-width="0.12">MASP2</text>
<text x="464.0" y="257.9" font-size="6.41" fill="#5b3a7a" text-anchor="start" font-weight="normal" textLength="15.93" lengthAdjust="spacingAndGlyphs" stroke="#5b3a7a" stroke-width="0.12">FCN3</text>
<text x="464.0" y="271.7" font-size="6.41" fill="#5b3a7a" text-anchor="start" font-weight="normal" textLength="29.83" lengthAdjust="spacingAndGlyphs" stroke="#5b3a7a" stroke-width="0.12">SERPINF2</text>
<text x="464.0" y="278.4" font-size="6.41" fill="#5b3a7a" text-anchor="start" font-weight="normal" textLength="12.2" lengthAdjust="spacingAndGlyphs" stroke="#5b3a7a" stroke-width="0.12">C1R</text>
<text x="464.0" y="284.7" font-size="6.41" fill="#5b3a7a" text-anchor="start" font-weight="normal" textLength="12.2" lengthAdjust="spacingAndGlyphs" stroke="#5b3a7a" stroke-width="0.12">CFB</text>
<text x="464.0" y="291.2" font-size="6.41" fill="#5b3a7a" text-anchor="start" font-weight="normal" textLength="15.6" lengthAdjust="spacingAndGlyphs" stroke="#5b3a7a" stroke-width="0.12">CD14</text>
<text x="464.0" y="297.7" font-size="6.41" fill="#5b3a7a" text-anchor="start" font-weight="normal" textLength="16.27" lengthAdjust="spacingAndGlyphs" stroke="#5b3a7a" stroke-width="0.12">CPN1</text>
<text x="464.0" y="306.59999999999997" font-size="6.41" fill="#5b3a7a" text-anchor="start" font-weight="normal" textLength="7.8" lengthAdjust="spacingAndGlyphs" stroke="#5b3a7a" stroke-width="0.12">C2</text>
<text x="464.0" y="312.8" font-size="6.41" fill="#5b3a7a" text-anchor="start" font-weight="normal" textLength="19.55" lengthAdjust="spacingAndGlyphs" stroke="#5b3a7a" stroke-width="0.12">C4BPA</text>
<text x="464.0" y="326.3" font-size="6.41" fill="#5b3a7a" text-anchor="start" font-weight="normal" textLength="7.12" lengthAdjust="spacingAndGlyphs" stroke="#5b3a7a" stroke-width="0.12">F5</text>
<text x="464.0" y="333.5" font-size="6.41" fill="#5b3a7a" text-anchor="start" font-weight="normal" textLength="17.62" lengthAdjust="spacingAndGlyphs" stroke="#5b3a7a" stroke-width="0.12">HAMP</text>
<text x="464.0" y="340.0" font-size="6.41" fill="#5b3a7a" text-anchor="start" font-weight="normal" textLength="12.54" lengthAdjust="spacingAndGlyphs" stroke="#5b3a7a" stroke-width="0.12">B2M</text>
<text x="464.0" y="346.5" font-size="6.41" fill="#5b3a7a" text-anchor="start" font-weight="normal" textLength="13.55" lengthAdjust="spacingAndGlyphs" stroke="#5b3a7a" stroke-width="0.12">VWF</text>
<text x="464.0" y="353.2" font-size="6.41" fill="#5b3a7a" text-anchor="start" font-weight="normal" textLength="16.27" lengthAdjust="spacingAndGlyphs" stroke="#5b3a7a" stroke-width="0.12">GPX3</text>
<text x="464.0" y="368.09999999999997" font-size="6.41" fill="#5b3a7a" text-anchor="start" font-weight="normal" textLength="13.22" lengthAdjust="spacingAndGlyphs" stroke="#5b3a7a" stroke-width="0.12">FGG</text>
<text x="464.0" y="374.8" font-size="6.41" fill="#5b3a7a" text-anchor="start" font-weight="normal" textLength="15.6" lengthAdjust="spacingAndGlyphs" stroke="#5b3a7a" stroke-width="0.12">SAA1</text>
<text x="464.0" y="381.59999999999997" font-size="6.41" fill="#5b3a7a" text-anchor="start" font-weight="normal" textLength="12.88" lengthAdjust="spacingAndGlyphs" stroke="#5b3a7a" stroke-width="0.12">CRP</text>
<text x="464.0" y="396.7" font-size="6.41" fill="#5b3a7a" text-anchor="start" font-weight="normal" textLength="11.53" lengthAdjust="spacingAndGlyphs" stroke="#5b3a7a" stroke-width="0.12">LBP</text>
<g stroke="#d2d2d2" stroke-width="0.6" fill="none"><path d="M321.5,70 V385 M324.2,55 V394 M326.4,50 V396 M321.5,120 H326.4 M321.5,250 H326.4 M321.5,330 H326.4 M324.2,90 H326.4 M324.2,170 H326.4 M324.2,290 H326.4 M324.2,370 H326.4"/></g>
<rect x="328.7" y="44.2" width="73.8" height="4.4" fill="#3aa846"/>
<rect x="402.5" y="44.2" width="58.7" height="4.4" fill="#5a1f70"/>
<g fill="none" stroke="#555" stroke-width="1">
<path d="M403.5,48.6 V181.5 M460.5,48.6 V181.5 M329.5,181.5 H460.5 M329.5,181.5 V201.5 M329.5,201.5 H460.5 M403.5,201.5 V397.5 H460.5 V201.5"/>
</g>
<rect x="0.6" y="0.6" width="518.8" height="424.8" fill="none" stroke="#4a4a4a" stroke-width="1.3"/>
</svg>
</div></body></html>
